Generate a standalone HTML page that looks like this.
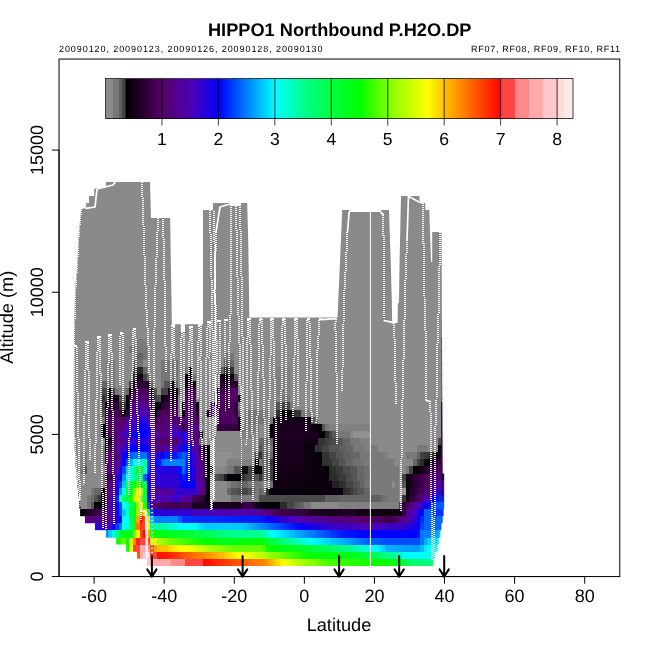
<!DOCTYPE html><html><head><meta charset="utf-8"><title>HIPPO1 Northbound P.H2O.DP</title>
<style>html,body{margin:0;padding:0;background:#fff;}svg{display:block;will-change:transform;}text{font-family:"Liberation Sans",sans-serif;fill:#000;text-rendering:geometricPrecision;}</style></head><body>
<svg width="650" height="650" viewBox="0 0 650 650">
<rect width="650" height="650" fill="#fff"/>
<g shape-rendering="crispEdges">
<defs><clipPath id="sil"><path d="M146.90 565.90 L433.50 565.90 L433.50 565.90 L433.50 558.79 L435.00 558.79 L435.00 551.68 L437.30 551.68 L437.30 544.58 L438.80 544.58 L438.80 537.47 L440.40 537.47 L440.40 530.36 L441.40 530.36 L441.40 523.25 L442.70 523.25 L442.70 516.14 L443.60 516.14 L443.60 509.04 L444.20 509.04 L444.20 501.93 L444.20 501.93 L444.20 494.82 L444.20 494.82 L444.20 487.71 L444.20 487.71 L444.20 480.60 L444.20 480.60 L444.20 473.50 L442.60 473.50 L442.30 400.00 L442.00 330.00 L441.50 232.00 L432.20 232.00 L432.20 262.00 L431.00 262.00 L429.30 210.00 L425.30 210.00 L425.30 203.00 L419.50 203.00 L419.50 196.00 L401.00 196.00 L399.60 260.00 L399.00 302.00 L397.80 304.00 L397.60 323.00 L392.20 323.00 L391.80 300.00 L390.50 255.00 L389.00 210.00 L381.20 210.00 L381.20 212.00 L349.20 212.00 L349.20 210.00 L342.20 210.00 L340.50 250.00 L338.30 300.00 L337.50 317.60 L249.30 317.60 L249.00 290.00 L248.20 240.00 L247.20 203.00 L241.00 203.00 L241.00 206.00 L230.00 206.00 L230.00 203.00 L213.00 203.00 L213.00 210.00 L203.00 210.00 L203.00 324.20 L185.00 324.20 L185.00 331.00 L180.80 331.00 L180.80 324.20 L175.00 324.20 L175.00 326.00 L171.90 326.00 L171.50 300.00 L170.80 260.00 L170.20 218.00 L151.00 218.00 L150.00 182.00 L106.00 182.00 L106.00 188.00 L97.00 188.00 L94.20 189.00 L94.20 196.00 L89.00 196.00 L89.00 203.00 L86.20 203.00 L86.20 207.50 L81.00 209.50 L78.60 236.00 L77.00 266.00 L75.00 294.00 L74.00 330.00 L73.60 400.00 L74.20 438.00 L76.00 470.00 L78.00 490.00 L79.20 501.93 L79.20 501.93 L79.20 509.04 L80.10 509.04 L80.10 516.14 L85.00 516.14 L85.00 523.25 L95.00 523.25 L95.00 530.36 L106.10 530.36 L106.10 537.47 L116.20 537.47 L116.20 544.58 L126.20 544.58 L126.20 551.68 L137.10 551.68 L137.10 558.79 L146.90 558.79 L146.90 565.90 Z"/></clipPath><clipPath id="sil2"><path d="M146.90 565.90 L433.50 565.90 L433.50 565.90 L433.50 558.79 L435.00 558.79 L435.00 551.68 L437.30 551.68 L437.30 544.58 L438.80 544.58 L438.80 537.47 L440.40 537.47 L440.40 530.36 L441.40 530.36 L441.40 523.25 L442.70 523.25 L442.70 516.14 L443.60 516.14 L443.60 509.04 L444.20 509.04 L444.20 501.93 L444.20 501.93 L444.20 494.82 L444.20 494.82 L444.20 487.71 L444.20 487.71 L444.20 480.60 L444.20 480.60 L444.20 473.50 L442.60 473.50 L442.30 400.00 L442.00 330.00 L441.50 232.00 L432.20 232.00 L432.20 262.00 L431.00 262.00 L429.30 210.00 L425.30 210.00 L425.30 203.00 L419.50 203.00 L419.50 196.00 L401.00 196.00 L399.60 260.00 L399.00 302.00 L397.80 304.00 L397.60 323.00 L392.20 323.00 L391.80 300.00 L390.50 255.00 L389.00 210.00 L381.20 210.00 L381.20 212.00 L349.20 212.00 L349.20 210.00 L342.20 210.00 L340.50 250.00 L338.30 300.00 L337.50 317.60 L249.30 317.60 L249.00 290.00 L248.20 240.00 L247.20 203.00 L241.00 203.00 L241.00 206.00 L230.00 206.00 L230.00 203.00 L213.00 203.00 L213.00 210.00 L203.00 210.00 L203.00 324.20 L185.00 324.20 L185.00 331.00 L180.80 331.00 L180.80 324.20 L175.00 324.20 L175.00 326.00 L171.90 326.00 L171.50 300.00 L170.80 260.00 L170.20 218.00 L151.00 218.00 L150.00 182.00 L106.00 182.00 L106.00 188.00 L97.00 188.00 L94.20 189.00 L94.20 196.00 L89.00 196.00 L89.00 203.00 L86.20 203.00 L86.20 207.50 L81.00 209.50 L78.60 236.00 L77.00 266.00 L75.00 294.00 L74.00 330.00 L73.60 400.00 L74.20 438.00 L76.00 470.00 L78.00 490.00 L79.20 501.93 L79.20 501.93 L79.20 509.04 L80.10 509.04 L80.10 516.14 L85.00 516.14 L85.00 523.25 L95.00 523.25 L95.00 530.36 L106.10 530.36 L106.10 537.47 L116.20 537.47 L116.20 544.58 L126.20 544.58 L126.20 551.68 L137.10 551.68 L137.10 558.79 L146.90 558.79 L146.90 565.90 Z"/></clipPath></defs>
<g clip-path="url(#sil)">
<rect x="69.55" y="558.79" width="80.65" height="7.16" fill="#ffc8c8"/>
<rect x="150.16" y="558.79" width="21.08" height="7.16" fill="#ffaaaa"/>
<rect x="171.18" y="558.79" width="14.07" height="7.16" fill="#ff8888"/>
<rect x="185.20" y="558.79" width="17.57" height="7.16" fill="#ff4444"/>
<rect x="202.72" y="558.79" width="3.55" height="7.16" fill="#ff0800"/>
<rect x="206.23" y="558.79" width="3.55" height="7.16" fill="#ff1000"/>
<rect x="209.73" y="558.79" width="3.55" height="7.16" fill="#ff1800"/>
<rect x="213.24" y="558.79" width="3.55" height="7.16" fill="#ff2000"/>
<rect x="216.74" y="558.79" width="3.55" height="7.16" fill="#ff2800"/>
<rect x="220.25" y="558.79" width="3.55" height="7.16" fill="#ff3000"/>
<rect x="223.75" y="558.79" width="3.55" height="7.16" fill="#ff3900"/>
<rect x="227.26" y="558.79" width="3.55" height="7.16" fill="#ff4100"/>
<rect x="230.76" y="558.79" width="3.55" height="7.16" fill="#ff4900"/>
<rect x="234.27" y="558.79" width="3.55" height="7.16" fill="#ff5000"/>
<rect x="237.77" y="558.79" width="3.55" height="7.16" fill="#ff5700"/>
<rect x="241.27" y="558.79" width="3.55" height="7.16" fill="#ff5d00"/>
<rect x="244.78" y="558.79" width="3.55" height="7.16" fill="#ff6400"/>
<rect x="248.28" y="558.79" width="3.55" height="7.16" fill="#ff6a00"/>
<rect x="251.79" y="558.79" width="3.55" height="7.16" fill="#ff7100"/>
<rect x="255.29" y="558.79" width="3.55" height="7.16" fill="#ff7800"/>
<rect x="258.80" y="558.79" width="3.55" height="7.16" fill="#ff7e00"/>
<rect x="262.30" y="558.79" width="3.55" height="7.16" fill="#ff8500"/>
<rect x="265.81" y="558.79" width="3.55" height="7.16" fill="#ff9600"/>
<rect x="269.31" y="558.79" width="3.55" height="7.16" fill="#ffac00"/>
<rect x="272.81" y="558.79" width="3.55" height="7.16" fill="#ffc200"/>
<rect x="276.32" y="558.79" width="3.55" height="7.16" fill="#ffda00"/>
<rect x="279.82" y="558.79" width="3.55" height="7.16" fill="#fff200"/>
<rect x="283.33" y="558.79" width="3.55" height="7.16" fill="#f8ff00"/>
<rect x="286.83" y="558.79" width="3.55" height="7.16" fill="#e8ff00"/>
<rect x="290.34" y="558.79" width="3.55" height="7.16" fill="#d8ff00"/>
<rect x="293.84" y="558.79" width="3.55" height="7.16" fill="#c8ff00"/>
<rect x="297.35" y="558.79" width="3.55" height="7.16" fill="#b8ff00"/>
<rect x="300.85" y="558.79" width="3.55" height="7.16" fill="#a8ff00"/>
<rect x="304.36" y="558.79" width="3.55" height="7.16" fill="#9cff00"/>
<rect x="307.86" y="558.79" width="3.55" height="7.16" fill="#91ff00"/>
<rect x="311.36" y="558.79" width="3.55" height="7.16" fill="#86ff00"/>
<rect x="314.87" y="558.79" width="3.55" height="7.16" fill="#79ff00"/>
<rect x="318.37" y="558.79" width="3.55" height="7.16" fill="#69ff00"/>
<rect x="321.88" y="558.79" width="3.55" height="7.16" fill="#5aff00"/>
<rect x="325.38" y="558.79" width="3.55" height="7.16" fill="#4dff00"/>
<rect x="328.89" y="558.79" width="3.55" height="7.16" fill="#47ff00"/>
<rect x="332.39" y="558.79" width="3.55" height="7.16" fill="#43ff00"/>
<rect x="335.90" y="558.79" width="3.55" height="7.16" fill="#3eff00"/>
<rect x="339.40" y="558.79" width="3.55" height="7.16" fill="#39ff00"/>
<rect x="342.90" y="558.79" width="3.55" height="7.16" fill="#35ff00"/>
<rect x="346.41" y="558.79" width="3.55" height="7.16" fill="#30ff00"/>
<rect x="349.91" y="558.79" width="3.55" height="7.16" fill="#2bff00"/>
<rect x="353.42" y="558.79" width="3.55" height="7.16" fill="#27ff00"/>
<rect x="356.92" y="558.79" width="3.55" height="7.16" fill="#22ff00"/>
<rect x="360.43" y="558.79" width="3.55" height="7.16" fill="#1dff00"/>
<rect x="363.93" y="558.79" width="3.55" height="7.16" fill="#19ff00"/>
<rect x="367.44" y="558.79" width="3.55" height="7.16" fill="#14ff00"/>
<rect x="370.94" y="558.79" width="3.55" height="7.16" fill="#10ff00"/>
<rect x="374.45" y="558.79" width="3.55" height="7.16" fill="#0bff00"/>
<rect x="377.95" y="558.79" width="3.55" height="7.16" fill="#07ff00"/>
<rect x="381.45" y="558.79" width="3.55" height="7.16" fill="#02ff00"/>
<rect x="384.96" y="558.79" width="3.55" height="7.16" fill="#00ff03"/>
<rect x="388.46" y="558.79" width="3.55" height="7.16" fill="#00ff0a"/>
<rect x="391.97" y="558.79" width="3.55" height="7.16" fill="#00ff10"/>
<rect x="395.47" y="558.79" width="3.55" height="7.16" fill="#00ff17"/>
<rect x="398.98" y="558.79" width="3.55" height="7.16" fill="#00ff24"/>
<rect x="402.48" y="558.79" width="3.55" height="7.16" fill="#00ff37"/>
<rect x="405.99" y="558.79" width="3.55" height="7.16" fill="#00ff4e"/>
<rect x="409.49" y="558.79" width="3.55" height="7.16" fill="#00ff66"/>
<rect x="412.99" y="558.79" width="3.55" height="7.16" fill="#00ff71"/>
<rect x="416.50" y="558.79" width="3.55" height="7.16" fill="#00ff74"/>
<rect x="420.00" y="558.79" width="3.55" height="7.16" fill="#00ff77"/>
<rect x="423.51" y="558.79" width="3.55" height="7.16" fill="#00ff79"/>
<rect x="427.01" y="558.79" width="3.55" height="7.16" fill="#00ff7c"/>
<rect x="430.52" y="558.79" width="3.55" height="7.16" fill="#00ff7e"/>
<rect x="434.02" y="558.79" width="14.07" height="7.16" fill="#00ff7f"/>
<rect x="69.55" y="551.68" width="66.64" height="7.16" fill="#ff7300"/>
<rect x="136.14" y="551.68" width="3.55" height="7.16" fill="#ff5800"/>
<rect x="139.64" y="551.68" width="3.55" height="7.16" fill="#ffaaaa"/>
<rect x="143.15" y="551.68" width="7.06" height="7.16" fill="#ffc8c8"/>
<rect x="150.16" y="551.68" width="7.06" height="7.16" fill="#ff4444"/>
<rect x="157.17" y="551.68" width="7.06" height="7.16" fill="#ff1300"/>
<rect x="164.18" y="551.68" width="3.55" height="7.16" fill="#ff1700"/>
<rect x="167.68" y="551.68" width="3.55" height="7.16" fill="#ff2200"/>
<rect x="171.18" y="551.68" width="3.55" height="7.16" fill="#ff2e00"/>
<rect x="174.69" y="551.68" width="3.55" height="7.16" fill="#ff3900"/>
<rect x="178.19" y="551.68" width="3.55" height="7.16" fill="#ff4500"/>
<rect x="181.70" y="551.68" width="3.55" height="7.16" fill="#ff5100"/>
<rect x="185.20" y="551.68" width="3.55" height="7.16" fill="#ff5c00"/>
<rect x="188.71" y="551.68" width="3.55" height="7.16" fill="#ff6600"/>
<rect x="192.21" y="551.68" width="3.55" height="7.16" fill="#ff6f00"/>
<rect x="195.72" y="551.68" width="3.55" height="7.16" fill="#ff7700"/>
<rect x="199.22" y="551.68" width="3.55" height="7.16" fill="#ff8000"/>
<rect x="202.72" y="551.68" width="3.55" height="7.16" fill="#ff8900"/>
<rect x="206.23" y="551.68" width="3.55" height="7.16" fill="#ff9200"/>
<rect x="209.73" y="551.68" width="3.55" height="7.16" fill="#ff9b00"/>
<rect x="213.24" y="551.68" width="3.55" height="7.16" fill="#ffa600"/>
<rect x="216.74" y="551.68" width="3.55" height="7.16" fill="#ffb200"/>
<rect x="220.25" y="551.68" width="3.55" height="7.16" fill="#ffbe00"/>
<rect x="223.75" y="551.68" width="3.55" height="7.16" fill="#ffca00"/>
<rect x="227.26" y="551.68" width="3.55" height="7.16" fill="#ffd700"/>
<rect x="230.76" y="551.68" width="3.55" height="7.16" fill="#ffe400"/>
<rect x="234.27" y="551.68" width="3.55" height="7.16" fill="#fff000"/>
<rect x="237.77" y="551.68" width="3.55" height="7.16" fill="#fffc00"/>
<rect x="241.27" y="551.68" width="3.55" height="7.16" fill="#f7ff00"/>
<rect x="244.78" y="551.68" width="3.55" height="7.16" fill="#edff00"/>
<rect x="248.28" y="551.68" width="3.55" height="7.16" fill="#e3ff00"/>
<rect x="251.79" y="551.68" width="3.55" height="7.16" fill="#d8ff00"/>
<rect x="255.29" y="551.68" width="3.55" height="7.16" fill="#ceff00"/>
<rect x="258.80" y="551.68" width="3.55" height="7.16" fill="#c4ff00"/>
<rect x="262.30" y="551.68" width="3.55" height="7.16" fill="#b4ff00"/>
<rect x="265.81" y="551.68" width="3.55" height="7.16" fill="#9dff00"/>
<rect x="269.31" y="551.68" width="3.55" height="7.16" fill="#92ff00"/>
<rect x="272.81" y="551.68" width="3.55" height="7.16" fill="#88ff00"/>
<rect x="276.32" y="551.68" width="3.55" height="7.16" fill="#7dff00"/>
<rect x="279.82" y="551.68" width="3.55" height="7.16" fill="#6eff00"/>
<rect x="283.33" y="551.68" width="3.55" height="7.16" fill="#60ff00"/>
<rect x="286.83" y="551.68" width="3.55" height="7.16" fill="#51ff00"/>
<rect x="290.34" y="551.68" width="3.55" height="7.16" fill="#43ff00"/>
<rect x="293.84" y="551.68" width="3.55" height="7.16" fill="#34ff00"/>
<rect x="297.35" y="551.68" width="3.55" height="7.16" fill="#28ff00"/>
<rect x="300.85" y="551.68" width="3.55" height="7.16" fill="#1cff00"/>
<rect x="304.36" y="551.68" width="3.55" height="7.16" fill="#11ff00"/>
<rect x="307.86" y="551.68" width="3.55" height="7.16" fill="#05ff00"/>
<rect x="311.36" y="551.68" width="3.55" height="7.16" fill="#00ff03"/>
<rect x="314.87" y="551.68" width="3.55" height="7.16" fill="#00ff09"/>
<rect x="318.37" y="551.68" width="24.58" height="7.16" fill="#00ff0d"/>
<rect x="342.90" y="551.68" width="3.55" height="7.16" fill="#00ff11"/>
<rect x="346.41" y="551.68" width="3.55" height="7.16" fill="#00ff17"/>
<rect x="349.91" y="551.68" width="3.55" height="7.16" fill="#00ff1d"/>
<rect x="353.42" y="551.68" width="3.55" height="7.16" fill="#00ff23"/>
<rect x="356.92" y="551.68" width="3.55" height="7.16" fill="#00ff29"/>
<rect x="360.43" y="551.68" width="3.55" height="7.16" fill="#00ff2f"/>
<rect x="363.93" y="551.68" width="3.55" height="7.16" fill="#00ff36"/>
<rect x="367.44" y="551.68" width="3.55" height="7.16" fill="#00ff41"/>
<rect x="370.94" y="551.68" width="3.55" height="7.16" fill="#00ff4f"/>
<rect x="374.45" y="551.68" width="3.55" height="7.16" fill="#00ff5d"/>
<rect x="377.95" y="551.68" width="3.55" height="7.16" fill="#00ff6b"/>
<rect x="381.45" y="551.68" width="3.55" height="7.16" fill="#00ff79"/>
<rect x="384.96" y="551.68" width="3.55" height="7.16" fill="#00ff84"/>
<rect x="388.46" y="551.68" width="3.55" height="7.16" fill="#00ff8c"/>
<rect x="391.97" y="551.68" width="3.55" height="7.16" fill="#00ff96"/>
<rect x="395.47" y="551.68" width="3.55" height="7.16" fill="#00ffa1"/>
<rect x="398.98" y="551.68" width="3.55" height="7.16" fill="#00ffce"/>
<rect x="402.48" y="551.68" width="3.55" height="7.16" fill="#00fffe"/>
<rect x="405.99" y="551.68" width="42.10" height="7.16" fill="#00ffff"/>
<rect x="69.55" y="544.58" width="59.63" height="7.16" fill="#00ff00"/>
<rect x="129.13" y="544.58" width="3.55" height="7.16" fill="#e7ff00"/>
<rect x="132.63" y="544.58" width="3.55" height="7.16" fill="#ff4000"/>
<rect x="136.14" y="544.58" width="3.55" height="7.16" fill="#ff4444"/>
<rect x="139.64" y="544.58" width="7.06" height="7.16" fill="#ffaaaa"/>
<rect x="146.65" y="544.58" width="3.55" height="7.16" fill="#ff8888"/>
<rect x="150.16" y="544.58" width="3.55" height="7.16" fill="#ff5f00"/>
<rect x="153.66" y="544.58" width="3.55" height="7.16" fill="#ffa100"/>
<rect x="157.17" y="544.58" width="7.06" height="7.16" fill="#ffc000"/>
<rect x="164.18" y="544.58" width="3.55" height="7.16" fill="#ffc400"/>
<rect x="167.68" y="544.58" width="3.55" height="7.16" fill="#ffd200"/>
<rect x="171.18" y="544.58" width="3.55" height="7.16" fill="#ffe000"/>
<rect x="174.69" y="544.58" width="3.55" height="7.16" fill="#ffef00"/>
<rect x="178.19" y="544.58" width="3.55" height="7.16" fill="#fffc00"/>
<rect x="181.70" y="544.58" width="7.06" height="7.16" fill="#ffff00"/>
<rect x="188.71" y="544.58" width="3.55" height="7.16" fill="#f6ff00"/>
<rect x="192.21" y="544.58" width="3.55" height="7.16" fill="#e8ff00"/>
<rect x="195.72" y="544.58" width="3.55" height="7.16" fill="#daff00"/>
<rect x="199.22" y="544.58" width="3.55" height="7.16" fill="#ccff00"/>
<rect x="202.72" y="544.58" width="3.55" height="7.16" fill="#bfff00"/>
<rect x="206.23" y="544.58" width="3.55" height="7.16" fill="#b1ff00"/>
<rect x="209.73" y="544.58" width="3.55" height="7.16" fill="#a4ff00"/>
<rect x="213.24" y="544.58" width="3.55" height="7.16" fill="#9bff00"/>
<rect x="216.74" y="544.58" width="3.55" height="7.16" fill="#93ff00"/>
<rect x="220.25" y="544.58" width="3.55" height="7.16" fill="#8bff00"/>
<rect x="223.75" y="544.58" width="3.55" height="7.16" fill="#82ff00"/>
<rect x="227.26" y="544.58" width="3.55" height="7.16" fill="#78ff00"/>
<rect x="230.76" y="544.58" width="3.55" height="7.16" fill="#6cff00"/>
<rect x="234.27" y="544.58" width="28.09" height="7.16" fill="#66ff00"/>
<rect x="262.30" y="544.58" width="3.55" height="7.16" fill="#50ff00"/>
<rect x="265.81" y="544.58" width="3.55" height="7.16" fill="#13ff00"/>
<rect x="269.31" y="544.58" width="3.55" height="7.16" fill="#0aff00"/>
<rect x="272.81" y="544.58" width="3.55" height="7.16" fill="#02ff00"/>
<rect x="276.32" y="544.58" width="3.55" height="7.16" fill="#00ff04"/>
<rect x="279.82" y="544.58" width="3.55" height="7.16" fill="#00ff08"/>
<rect x="283.33" y="544.58" width="3.55" height="7.16" fill="#00ff0c"/>
<rect x="286.83" y="544.58" width="3.55" height="7.16" fill="#00ff11"/>
<rect x="290.34" y="544.58" width="3.55" height="7.16" fill="#00ff15"/>
<rect x="293.84" y="544.58" width="3.55" height="7.16" fill="#00ff1a"/>
<rect x="297.35" y="544.58" width="3.55" height="7.16" fill="#00ff1f"/>
<rect x="300.85" y="544.58" width="3.55" height="7.16" fill="#00ff25"/>
<rect x="304.36" y="544.58" width="3.55" height="7.16" fill="#00ff2b"/>
<rect x="307.86" y="544.58" width="3.55" height="7.16" fill="#00ff31"/>
<rect x="311.36" y="544.58" width="3.55" height="7.16" fill="#00ff36"/>
<rect x="314.87" y="544.58" width="3.55" height="7.16" fill="#00ff3c"/>
<rect x="318.37" y="544.58" width="3.55" height="7.16" fill="#00ff43"/>
<rect x="321.88" y="544.58" width="3.55" height="7.16" fill="#00ff4c"/>
<rect x="325.38" y="544.58" width="3.55" height="7.16" fill="#00ff56"/>
<rect x="328.89" y="544.58" width="3.55" height="7.16" fill="#00ff5f"/>
<rect x="332.39" y="544.58" width="3.55" height="7.16" fill="#00ff68"/>
<rect x="335.90" y="544.58" width="3.55" height="7.16" fill="#00ff71"/>
<rect x="339.40" y="544.58" width="3.55" height="7.16" fill="#00ff7a"/>
<rect x="342.90" y="544.58" width="3.55" height="7.16" fill="#00ff83"/>
<rect x="346.41" y="544.58" width="3.55" height="7.16" fill="#00ff8c"/>
<rect x="349.91" y="544.58" width="3.55" height="7.16" fill="#00ff99"/>
<rect x="353.42" y="544.58" width="3.55" height="7.16" fill="#00ffa8"/>
<rect x="356.92" y="544.58" width="3.55" height="7.16" fill="#00ffb7"/>
<rect x="360.43" y="544.58" width="3.55" height="7.16" fill="#00ffc6"/>
<rect x="363.93" y="544.58" width="3.55" height="7.16" fill="#00ffd6"/>
<rect x="367.44" y="544.58" width="3.55" height="7.16" fill="#00ffe5"/>
<rect x="370.94" y="544.58" width="3.55" height="7.16" fill="#00fff5"/>
<rect x="374.45" y="544.58" width="3.55" height="7.16" fill="#00f9ff"/>
<rect x="377.95" y="544.58" width="3.55" height="7.16" fill="#00e7ff"/>
<rect x="381.45" y="544.58" width="3.55" height="7.16" fill="#00d5ff"/>
<rect x="384.96" y="544.58" width="3.55" height="7.16" fill="#00b2ff"/>
<rect x="388.46" y="544.58" width="3.55" height="7.16" fill="#00afff"/>
<rect x="391.97" y="544.58" width="3.55" height="7.16" fill="#00acff"/>
<rect x="395.47" y="544.58" width="3.55" height="7.16" fill="#00aaff"/>
<rect x="398.98" y="544.58" width="3.55" height="7.16" fill="#00a7ff"/>
<rect x="402.48" y="544.58" width="3.55" height="7.16" fill="#00a5ff"/>
<rect x="405.99" y="544.58" width="3.55" height="7.16" fill="#00a2ff"/>
<rect x="409.49" y="544.58" width="3.55" height="7.16" fill="#00a0ff"/>
<rect x="412.99" y="544.58" width="3.55" height="7.16" fill="#009dff"/>
<rect x="416.50" y="544.58" width="3.55" height="7.16" fill="#009bff"/>
<rect x="420.00" y="544.58" width="3.55" height="7.16" fill="#00b9ff"/>
<rect x="423.51" y="544.58" width="3.55" height="7.16" fill="#00ecff"/>
<rect x="427.01" y="544.58" width="21.08" height="7.16" fill="#00ffff"/>
<rect x="69.55" y="537.47" width="49.11" height="7.16" fill="#00ff0d"/>
<rect x="118.62" y="537.47" width="3.55" height="7.16" fill="#28ff00"/>
<rect x="122.12" y="537.47" width="3.55" height="7.16" fill="#6aff00"/>
<rect x="125.63" y="537.47" width="3.55" height="7.16" fill="#00ff0d"/>
<rect x="129.13" y="537.47" width="3.55" height="7.16" fill="#dbff00"/>
<rect x="132.63" y="537.47" width="3.55" height="7.16" fill="#ff8600"/>
<rect x="136.14" y="537.47" width="3.55" height="7.16" fill="#ff2400"/>
<rect x="139.64" y="537.47" width="10.56" height="7.16" fill="#ff4444"/>
<rect x="150.16" y="537.47" width="3.55" height="7.16" fill="#ffe700"/>
<rect x="153.66" y="537.47" width="3.55" height="7.16" fill="#d8ff00"/>
<rect x="157.17" y="537.47" width="7.06" height="7.16" fill="#a4ff00"/>
<rect x="164.18" y="537.47" width="3.55" height="7.16" fill="#88ff00"/>
<rect x="167.68" y="537.47" width="3.55" height="7.16" fill="#71ff00"/>
<rect x="171.18" y="537.47" width="3.55" height="7.16" fill="#66ff00"/>
<rect x="174.69" y="537.47" width="3.55" height="7.16" fill="#5aff00"/>
<rect x="178.19" y="537.47" width="3.55" height="7.16" fill="#4eff00"/>
<rect x="181.70" y="537.47" width="3.55" height="7.16" fill="#43ff00"/>
<rect x="185.20" y="537.47" width="3.55" height="7.16" fill="#37ff00"/>
<rect x="188.71" y="537.47" width="3.55" height="7.16" fill="#2bff00"/>
<rect x="192.21" y="537.47" width="3.55" height="7.16" fill="#20ff00"/>
<rect x="195.72" y="537.47" width="3.55" height="7.16" fill="#15ff00"/>
<rect x="199.22" y="537.47" width="3.55" height="7.16" fill="#0dff00"/>
<rect x="202.72" y="537.47" width="3.55" height="7.16" fill="#04ff00"/>
<rect x="206.23" y="537.47" width="3.55" height="7.16" fill="#00ff02"/>
<rect x="209.73" y="537.47" width="3.55" height="7.16" fill="#00ff07"/>
<rect x="213.24" y="537.47" width="3.55" height="7.16" fill="#00ff0b"/>
<rect x="216.74" y="537.47" width="3.55" height="7.16" fill="#00ff10"/>
<rect x="220.25" y="537.47" width="3.55" height="7.16" fill="#00ff14"/>
<rect x="223.75" y="537.47" width="7.06" height="7.16" fill="#00ff18"/>
<rect x="230.76" y="537.47" width="3.55" height="7.16" fill="#00ff16"/>
<rect x="234.27" y="537.47" width="3.55" height="7.16" fill="#00ff13"/>
<rect x="237.77" y="537.47" width="3.55" height="7.16" fill="#00ff11"/>
<rect x="241.27" y="537.47" width="3.55" height="7.16" fill="#00ff0f"/>
<rect x="244.78" y="537.47" width="3.55" height="7.16" fill="#00ff0c"/>
<rect x="248.28" y="537.47" width="3.55" height="7.16" fill="#00ff0a"/>
<rect x="251.79" y="537.47" width="3.55" height="7.16" fill="#00ff08"/>
<rect x="255.29" y="537.47" width="3.55" height="7.16" fill="#00ff05"/>
<rect x="258.80" y="537.47" width="3.55" height="7.16" fill="#00ff03"/>
<rect x="262.30" y="537.47" width="3.55" height="7.16" fill="#00ff0c"/>
<rect x="265.81" y="537.47" width="3.55" height="7.16" fill="#00ff30"/>
<rect x="269.31" y="537.47" width="3.55" height="7.16" fill="#00ff3e"/>
<rect x="272.81" y="537.47" width="3.55" height="7.16" fill="#00ff4e"/>
<rect x="276.32" y="537.47" width="3.55" height="7.16" fill="#00ff5f"/>
<rect x="279.82" y="537.47" width="3.55" height="7.16" fill="#00ff70"/>
<rect x="283.33" y="537.47" width="3.55" height="7.16" fill="#00ff81"/>
<rect x="286.83" y="537.47" width="3.55" height="7.16" fill="#00ff92"/>
<rect x="290.34" y="537.47" width="3.55" height="7.16" fill="#00ffa3"/>
<rect x="293.84" y="537.47" width="3.55" height="7.16" fill="#00ffb4"/>
<rect x="297.35" y="537.47" width="3.55" height="7.16" fill="#00ffc5"/>
<rect x="300.85" y="537.47" width="3.55" height="7.16" fill="#00ffd6"/>
<rect x="304.36" y="537.47" width="3.55" height="7.16" fill="#00ffe7"/>
<rect x="307.86" y="537.47" width="3.55" height="7.16" fill="#00fff8"/>
<rect x="311.36" y="537.47" width="3.55" height="7.16" fill="#00faff"/>
<rect x="314.87" y="537.47" width="3.55" height="7.16" fill="#00f1ff"/>
<rect x="318.37" y="537.47" width="3.55" height="7.16" fill="#00e9ff"/>
<rect x="321.88" y="537.47" width="3.55" height="7.16" fill="#00e0ff"/>
<rect x="325.38" y="537.47" width="3.55" height="7.16" fill="#00d7ff"/>
<rect x="328.89" y="537.47" width="3.55" height="7.16" fill="#00cfff"/>
<rect x="332.39" y="537.47" width="3.55" height="7.16" fill="#00c6ff"/>
<rect x="335.90" y="537.47" width="3.55" height="7.16" fill="#00bdff"/>
<rect x="339.40" y="537.47" width="3.55" height="7.16" fill="#00b5ff"/>
<rect x="342.90" y="537.47" width="3.55" height="7.16" fill="#00aaff"/>
<rect x="346.41" y="537.47" width="3.55" height="7.16" fill="#009eff"/>
<rect x="349.91" y="537.47" width="3.55" height="7.16" fill="#0093ff"/>
<rect x="353.42" y="537.47" width="3.55" height="7.16" fill="#0087ff"/>
<rect x="356.92" y="537.47" width="3.55" height="7.16" fill="#007bff"/>
<rect x="360.43" y="537.47" width="3.55" height="7.16" fill="#0070ff"/>
<rect x="363.93" y="537.47" width="3.55" height="7.16" fill="#0066ff"/>
<rect x="367.44" y="537.47" width="3.55" height="7.16" fill="#0061ff"/>
<rect x="370.94" y="537.47" width="3.55" height="7.16" fill="#005dff"/>
<rect x="374.45" y="537.47" width="3.55" height="7.16" fill="#0058ff"/>
<rect x="377.95" y="537.47" width="3.55" height="7.16" fill="#0054ff"/>
<rect x="381.45" y="537.47" width="3.55" height="7.16" fill="#004fff"/>
<rect x="384.96" y="537.47" width="35.10" height="7.16" fill="#004dff"/>
<rect x="420.00" y="537.47" width="3.55" height="7.16" fill="#0074ff"/>
<rect x="423.51" y="537.47" width="3.55" height="7.16" fill="#00aaff"/>
<rect x="427.01" y="537.47" width="3.55" height="7.16" fill="#00d0ff"/>
<rect x="430.52" y="537.47" width="17.57" height="7.16" fill="#00e6ff"/>
<rect x="69.55" y="530.36" width="38.60" height="7.16" fill="#0080ff"/>
<rect x="108.10" y="530.36" width="3.55" height="7.16" fill="#00c9ff"/>
<rect x="111.61" y="530.36" width="3.55" height="7.16" fill="#00ffdf"/>
<rect x="115.11" y="530.36" width="3.55" height="7.16" fill="#00ff90"/>
<rect x="118.62" y="530.36" width="14.07" height="7.16" fill="#00ff1a"/>
<rect x="132.63" y="530.36" width="3.55" height="7.16" fill="#80ff00"/>
<rect x="136.14" y="530.36" width="3.55" height="7.16" fill="#efff00"/>
<rect x="139.64" y="530.36" width="3.55" height="7.16" fill="#ff4500"/>
<rect x="143.15" y="530.36" width="3.55" height="7.16" fill="#ff0500"/>
<rect x="146.65" y="530.36" width="3.55" height="7.16" fill="#ffa700"/>
<rect x="150.16" y="530.36" width="3.55" height="7.16" fill="#25ff00"/>
<rect x="153.66" y="530.36" width="3.55" height="7.16" fill="#00ff00"/>
<rect x="157.17" y="530.36" width="3.55" height="7.16" fill="#00ff0e"/>
<rect x="160.67" y="530.36" width="3.55" height="7.16" fill="#00ff15"/>
<rect x="164.18" y="530.36" width="3.55" height="7.16" fill="#00ff1b"/>
<rect x="167.68" y="530.36" width="3.55" height="7.16" fill="#00ff1f"/>
<rect x="171.18" y="530.36" width="3.55" height="7.16" fill="#00ff24"/>
<rect x="174.69" y="530.36" width="3.55" height="7.16" fill="#00ff28"/>
<rect x="178.19" y="530.36" width="3.55" height="7.16" fill="#00ff2c"/>
<rect x="181.70" y="530.36" width="3.55" height="7.16" fill="#00ff31"/>
<rect x="185.20" y="530.36" width="3.55" height="7.16" fill="#00ff35"/>
<rect x="188.71" y="530.36" width="3.55" height="7.16" fill="#00ff39"/>
<rect x="192.21" y="530.36" width="3.55" height="7.16" fill="#00ff3e"/>
<rect x="195.72" y="530.36" width="3.55" height="7.16" fill="#00ff44"/>
<rect x="199.22" y="530.36" width="3.55" height="7.16" fill="#00ff4b"/>
<rect x="202.72" y="530.36" width="3.55" height="7.16" fill="#00ff52"/>
<rect x="206.23" y="530.36" width="3.55" height="7.16" fill="#00ff59"/>
<rect x="209.73" y="530.36" width="3.55" height="7.16" fill="#00ff61"/>
<rect x="213.24" y="530.36" width="3.55" height="7.16" fill="#00ff68"/>
<rect x="216.74" y="530.36" width="3.55" height="7.16" fill="#00ff6f"/>
<rect x="220.25" y="530.36" width="3.55" height="7.16" fill="#00ff77"/>
<rect x="223.75" y="530.36" width="3.55" height="7.16" fill="#00ff7e"/>
<rect x="227.26" y="530.36" width="3.55" height="7.16" fill="#00ff85"/>
<rect x="230.76" y="530.36" width="3.55" height="7.16" fill="#00ff8c"/>
<rect x="234.27" y="530.36" width="28.09" height="7.16" fill="#00ff90"/>
<rect x="262.30" y="530.36" width="3.55" height="7.16" fill="#00ff9d"/>
<rect x="265.81" y="530.36" width="3.55" height="7.16" fill="#00ffd3"/>
<rect x="269.31" y="530.36" width="3.55" height="7.16" fill="#00fff1"/>
<rect x="272.81" y="530.36" width="3.55" height="7.16" fill="#00f9ff"/>
<rect x="276.32" y="530.36" width="3.55" height="7.16" fill="#00edff"/>
<rect x="279.82" y="530.36" width="3.55" height="7.16" fill="#00e2ff"/>
<rect x="283.33" y="530.36" width="3.55" height="7.16" fill="#00d6ff"/>
<rect x="286.83" y="530.36" width="3.55" height="7.16" fill="#00cbff"/>
<rect x="290.34" y="530.36" width="3.55" height="7.16" fill="#00bfff"/>
<rect x="293.84" y="530.36" width="3.55" height="7.16" fill="#00b3ff"/>
<rect x="297.35" y="530.36" width="3.55" height="7.16" fill="#00a8ff"/>
<rect x="300.85" y="530.36" width="3.55" height="7.16" fill="#009cff"/>
<rect x="304.36" y="530.36" width="3.55" height="7.16" fill="#0091ff"/>
<rect x="307.86" y="530.36" width="3.55" height="7.16" fill="#0085ff"/>
<rect x="311.36" y="530.36" width="3.55" height="7.16" fill="#0079ff"/>
<rect x="314.87" y="530.36" width="3.55" height="7.16" fill="#006eff"/>
<rect x="318.37" y="530.36" width="3.55" height="7.16" fill="#0062ff"/>
<rect x="321.88" y="530.36" width="3.55" height="7.16" fill="#0056ff"/>
<rect x="325.38" y="530.36" width="3.55" height="7.16" fill="#004bff"/>
<rect x="328.89" y="530.36" width="3.55" height="7.16" fill="#003fff"/>
<rect x="332.39" y="530.36" width="3.55" height="7.16" fill="#0033ff"/>
<rect x="335.90" y="530.36" width="3.55" height="7.16" fill="#0028ff"/>
<rect x="339.40" y="530.36" width="3.55" height="7.16" fill="#001cff"/>
<rect x="342.90" y="530.36" width="3.55" height="7.16" fill="#0017ff"/>
<rect x="346.41" y="530.36" width="3.55" height="7.16" fill="#0013ff"/>
<rect x="349.91" y="530.36" width="3.55" height="7.16" fill="#000fff"/>
<rect x="353.42" y="530.36" width="3.55" height="7.16" fill="#000bff"/>
<rect x="356.92" y="530.36" width="3.55" height="7.16" fill="#0007ff"/>
<rect x="360.43" y="530.36" width="3.55" height="7.16" fill="#0003ff"/>
<rect x="363.93" y="530.36" width="52.62" height="7.16" fill="#0000ff"/>
<rect x="416.50" y="530.36" width="3.55" height="7.16" fill="#0014ff"/>
<rect x="420.00" y="530.36" width="3.55" height="7.16" fill="#0079ff"/>
<rect x="423.51" y="530.36" width="7.06" height="7.16" fill="#0080ff"/>
<rect x="430.52" y="530.36" width="3.55" height="7.16" fill="#008bff"/>
<rect x="434.02" y="530.36" width="3.55" height="7.16" fill="#00a3ff"/>
<rect x="437.53" y="530.36" width="3.55" height="7.16" fill="#00baff"/>
<rect x="441.03" y="530.36" width="7.06" height="7.16" fill="#00c1ff"/>
<rect x="69.55" y="523.25" width="35.09" height="7.16" fill="#2800da"/>
<rect x="104.60" y="523.25" width="3.55" height="7.16" fill="#4a00b9"/>
<rect x="108.10" y="523.25" width="3.55" height="7.16" fill="#4500bf"/>
<rect x="111.61" y="523.25" width="3.55" height="7.16" fill="#0000ff"/>
<rect x="115.11" y="523.25" width="3.55" height="7.16" fill="#0037ff"/>
<rect x="118.62" y="523.25" width="3.55" height="7.16" fill="#0080ff"/>
<rect x="122.12" y="523.25" width="3.55" height="7.16" fill="#00fffc"/>
<rect x="125.63" y="523.25" width="3.55" height="7.16" fill="#00ffc9"/>
<rect x="129.13" y="523.25" width="3.55" height="7.16" fill="#00ff80"/>
<rect x="132.63" y="523.25" width="3.55" height="7.16" fill="#12ff00"/>
<rect x="136.14" y="523.25" width="3.55" height="7.16" fill="#ff7600"/>
<rect x="139.64" y="523.25" width="3.55" height="7.16" fill="#ff3a00"/>
<rect x="143.15" y="523.25" width="3.55" height="7.16" fill="#ff4444"/>
<rect x="146.65" y="523.25" width="3.55" height="7.16" fill="#f2ff00"/>
<rect x="150.16" y="523.25" width="3.55" height="7.16" fill="#00ff89"/>
<rect x="153.66" y="523.25" width="3.55" height="7.16" fill="#00ffbc"/>
<rect x="157.17" y="523.25" width="7.06" height="7.16" fill="#00ffa6"/>
<rect x="164.18" y="523.25" width="3.55" height="7.16" fill="#00ffac"/>
<rect x="167.68" y="523.25" width="3.55" height="7.16" fill="#00ffc0"/>
<rect x="171.18" y="523.25" width="3.55" height="7.16" fill="#00ffd4"/>
<rect x="174.69" y="523.25" width="3.55" height="7.16" fill="#00ffe8"/>
<rect x="178.19" y="523.25" width="3.55" height="7.16" fill="#00fffb"/>
<rect x="181.70" y="523.25" width="14.07" height="7.16" fill="#00ffff"/>
<rect x="195.72" y="523.25" width="3.55" height="7.16" fill="#00f4ff"/>
<rect x="199.22" y="523.25" width="3.55" height="7.16" fill="#00ddff"/>
<rect x="202.72" y="523.25" width="3.55" height="7.16" fill="#00cdff"/>
<rect x="206.23" y="523.25" width="35.09" height="7.16" fill="#00ccff"/>
<rect x="241.27" y="523.25" width="3.55" height="7.16" fill="#00c8ff"/>
<rect x="244.78" y="523.25" width="3.55" height="7.16" fill="#00bdff"/>
<rect x="248.28" y="523.25" width="3.55" height="7.16" fill="#00b1ff"/>
<rect x="251.79" y="523.25" width="3.55" height="7.16" fill="#00a6ff"/>
<rect x="255.29" y="523.25" width="3.55" height="7.16" fill="#009aff"/>
<rect x="258.80" y="523.25" width="3.55" height="7.16" fill="#008fff"/>
<rect x="262.30" y="523.25" width="3.55" height="7.16" fill="#0083ff"/>
<rect x="265.81" y="523.25" width="3.55" height="7.16" fill="#0077ff"/>
<rect x="269.31" y="523.25" width="3.55" height="7.16" fill="#006aff"/>
<rect x="272.81" y="523.25" width="3.55" height="7.16" fill="#005dff"/>
<rect x="276.32" y="523.25" width="3.55" height="7.16" fill="#0051ff"/>
<rect x="279.82" y="523.25" width="3.55" height="7.16" fill="#0044ff"/>
<rect x="283.33" y="523.25" width="3.55" height="7.16" fill="#0037ff"/>
<rect x="286.83" y="523.25" width="3.55" height="7.16" fill="#002bff"/>
<rect x="290.34" y="523.25" width="3.55" height="7.16" fill="#001eff"/>
<rect x="293.84" y="523.25" width="3.55" height="7.16" fill="#0011ff"/>
<rect x="297.35" y="523.25" width="3.55" height="7.16" fill="#0005ff"/>
<rect x="300.85" y="523.25" width="3.55" height="7.16" fill="#0400fb"/>
<rect x="304.36" y="523.25" width="3.55" height="7.16" fill="#0b00f5"/>
<rect x="307.86" y="523.25" width="3.55" height="7.16" fill="#1100ef"/>
<rect x="311.36" y="523.25" width="3.55" height="7.16" fill="#1700e9"/>
<rect x="314.87" y="523.25" width="3.55" height="7.16" fill="#1e00e3"/>
<rect x="318.37" y="523.25" width="3.55" height="7.16" fill="#2400dd"/>
<rect x="321.88" y="523.25" width="3.55" height="7.16" fill="#2b00d7"/>
<rect x="325.38" y="523.25" width="3.55" height="7.16" fill="#3000d2"/>
<rect x="328.89" y="523.25" width="3.55" height="7.16" fill="#3300cf"/>
<rect x="332.39" y="523.25" width="3.55" height="7.16" fill="#3600cc"/>
<rect x="335.90" y="523.25" width="3.55" height="7.16" fill="#3900c9"/>
<rect x="339.40" y="523.25" width="3.55" height="7.16" fill="#3c00c7"/>
<rect x="342.90" y="523.25" width="3.55" height="7.16" fill="#3f00c4"/>
<rect x="346.41" y="523.25" width="3.55" height="7.16" fill="#4200c1"/>
<rect x="349.91" y="523.25" width="3.55" height="7.16" fill="#4500be"/>
<rect x="353.42" y="523.25" width="3.55" height="7.16" fill="#4800bc"/>
<rect x="356.92" y="523.25" width="3.55" height="7.16" fill="#4b00b9"/>
<rect x="360.43" y="523.25" width="3.55" height="7.16" fill="#4e00b6"/>
<rect x="363.93" y="523.25" width="3.55" height="7.16" fill="#4f00b5"/>
<rect x="367.44" y="523.25" width="3.55" height="7.16" fill="#4d00b7"/>
<rect x="370.94" y="523.25" width="3.55" height="7.16" fill="#4a00ba"/>
<rect x="374.45" y="523.25" width="3.55" height="7.16" fill="#4700bc"/>
<rect x="377.95" y="523.25" width="3.55" height="7.16" fill="#4400bf"/>
<rect x="381.45" y="523.25" width="3.55" height="7.16" fill="#4100c2"/>
<rect x="384.96" y="523.25" width="14.07" height="7.16" fill="#4000c3"/>
<rect x="398.98" y="523.25" width="3.55" height="7.16" fill="#3c00c7"/>
<rect x="402.48" y="523.25" width="3.55" height="7.16" fill="#3400cf"/>
<rect x="405.99" y="523.25" width="3.55" height="7.16" fill="#2b00d6"/>
<rect x="409.49" y="523.25" width="3.55" height="7.16" fill="#2300de"/>
<rect x="412.99" y="523.25" width="3.55" height="7.16" fill="#1400ec"/>
<rect x="416.50" y="523.25" width="3.55" height="7.16" fill="#0004ff"/>
<rect x="420.00" y="523.25" width="3.55" height="7.16" fill="#0041ff"/>
<rect x="423.51" y="523.25" width="24.58" height="7.16" fill="#0066ff"/>
<rect x="69.55" y="516.14" width="14.07" height="7.16" fill="#540076"/>
<rect x="83.57" y="516.14" width="3.55" height="7.16" fill="#540077"/>
<rect x="87.08" y="516.14" width="3.55" height="7.16" fill="#54007c"/>
<rect x="90.58" y="516.14" width="3.55" height="7.16" fill="#530082"/>
<rect x="94.09" y="516.14" width="3.55" height="7.16" fill="#530088"/>
<rect x="97.59" y="516.14" width="3.55" height="7.16" fill="#52008e"/>
<rect x="101.09" y="516.14" width="3.55" height="7.16" fill="#530082"/>
<rect x="104.60" y="516.14" width="3.55" height="7.16" fill="#480056"/>
<rect x="108.10" y="516.14" width="3.55" height="7.16" fill="#53008c"/>
<rect x="111.61" y="516.14" width="3.55" height="7.16" fill="#5000b4"/>
<rect x="115.11" y="516.14" width="3.55" height="7.16" fill="#0b00f4"/>
<rect x="118.62" y="516.14" width="3.55" height="7.16" fill="#0000ff"/>
<rect x="122.12" y="516.14" width="7.06" height="7.16" fill="#00ffff"/>
<rect x="129.13" y="516.14" width="3.55" height="7.16" fill="#00ff40"/>
<rect x="132.63" y="516.14" width="3.55" height="7.16" fill="#00ff09"/>
<rect x="136.14" y="516.14" width="3.55" height="7.16" fill="#ffa700"/>
<rect x="139.64" y="516.14" width="3.55" height="7.16" fill="#ff1300"/>
<rect x="143.15" y="516.14" width="3.55" height="7.16" fill="#ff4a00"/>
<rect x="146.65" y="516.14" width="3.55" height="7.16" fill="#ffde00"/>
<rect x="150.16" y="516.14" width="3.55" height="7.16" fill="#00c9ff"/>
<rect x="153.66" y="516.14" width="24.58" height="7.16" fill="#0080ff"/>
<rect x="178.19" y="516.14" width="3.55" height="7.16" fill="#005fff"/>
<rect x="181.70" y="516.14" width="3.55" height="7.16" fill="#0032ff"/>
<rect x="185.20" y="516.14" width="3.55" height="7.16" fill="#0031ff"/>
<rect x="188.71" y="516.14" width="3.55" height="7.16" fill="#0030ff"/>
<rect x="192.21" y="516.14" width="3.55" height="7.16" fill="#002fff"/>
<rect x="195.72" y="516.14" width="3.55" height="7.16" fill="#002eff"/>
<rect x="199.22" y="516.14" width="3.55" height="7.16" fill="#002cff"/>
<rect x="202.72" y="516.14" width="3.55" height="7.16" fill="#002bff"/>
<rect x="206.23" y="516.14" width="3.55" height="7.16" fill="#002aff"/>
<rect x="209.73" y="516.14" width="3.55" height="7.16" fill="#0029ff"/>
<rect x="213.24" y="516.14" width="3.55" height="7.16" fill="#0028ff"/>
<rect x="216.74" y="516.14" width="3.55" height="7.16" fill="#0027ff"/>
<rect x="220.25" y="516.14" width="3.55" height="7.16" fill="#0026ff"/>
<rect x="223.75" y="516.14" width="3.55" height="7.16" fill="#0025ff"/>
<rect x="227.26" y="516.14" width="3.55" height="7.16" fill="#0024ff"/>
<rect x="230.76" y="516.14" width="3.55" height="7.16" fill="#0022ff"/>
<rect x="234.27" y="516.14" width="3.55" height="7.16" fill="#0021ff"/>
<rect x="237.77" y="516.14" width="3.55" height="7.16" fill="#0020ff"/>
<rect x="241.27" y="516.14" width="3.55" height="7.16" fill="#001fff"/>
<rect x="244.78" y="516.14" width="3.55" height="7.16" fill="#001eff"/>
<rect x="248.28" y="516.14" width="3.55" height="7.16" fill="#001dff"/>
<rect x="251.79" y="516.14" width="3.55" height="7.16" fill="#001cff"/>
<rect x="255.29" y="516.14" width="3.55" height="7.16" fill="#001bff"/>
<rect x="258.80" y="516.14" width="3.55" height="7.16" fill="#001aff"/>
<rect x="262.30" y="516.14" width="3.55" height="7.16" fill="#0012ff"/>
<rect x="265.81" y="516.14" width="3.55" height="7.16" fill="#0700f9"/>
<rect x="269.31" y="516.14" width="3.55" height="7.16" fill="#1000f0"/>
<rect x="272.81" y="516.14" width="3.55" height="7.16" fill="#1900e8"/>
<rect x="276.32" y="516.14" width="3.55" height="7.16" fill="#2200df"/>
<rect x="279.82" y="516.14" width="3.55" height="7.16" fill="#2b00d7"/>
<rect x="283.33" y="516.14" width="3.55" height="7.16" fill="#3400ce"/>
<rect x="286.83" y="516.14" width="3.55" height="7.16" fill="#3d00c6"/>
<rect x="290.34" y="516.14" width="3.55" height="7.16" fill="#4600bd"/>
<rect x="293.84" y="516.14" width="3.55" height="7.16" fill="#4f00b5"/>
<rect x="297.35" y="516.14" width="3.55" height="7.16" fill="#5000af"/>
<rect x="300.85" y="516.14" width="3.55" height="7.16" fill="#5100aa"/>
<rect x="304.36" y="516.14" width="3.55" height="7.16" fill="#5100a4"/>
<rect x="307.86" y="516.14" width="3.55" height="7.16" fill="#51009f"/>
<rect x="311.36" y="516.14" width="3.55" height="7.16" fill="#52009a"/>
<rect x="314.87" y="516.14" width="3.55" height="7.16" fill="#520094"/>
<rect x="318.37" y="516.14" width="3.55" height="7.16" fill="#52008f"/>
<rect x="321.88" y="516.14" width="3.55" height="7.16" fill="#53008a"/>
<rect x="325.38" y="516.14" width="3.55" height="7.16" fill="#530085"/>
<rect x="328.89" y="516.14" width="3.55" height="7.16" fill="#530082"/>
<rect x="332.39" y="516.14" width="3.55" height="7.16" fill="#53007f"/>
<rect x="335.90" y="516.14" width="3.55" height="7.16" fill="#54007c"/>
<rect x="339.40" y="516.14" width="3.55" height="7.16" fill="#540079"/>
<rect x="342.90" y="516.14" width="3.55" height="7.16" fill="#540077"/>
<rect x="346.41" y="516.14" width="3.55" height="7.16" fill="#540074"/>
<rect x="349.91" y="516.14" width="3.55" height="7.16" fill="#540071"/>
<rect x="353.42" y="516.14" width="3.55" height="7.16" fill="#54006e"/>
<rect x="356.92" y="516.14" width="3.55" height="7.16" fill="#55006b"/>
<rect x="360.43" y="516.14" width="3.55" height="7.16" fill="#550068"/>
<rect x="363.93" y="516.14" width="3.55" height="7.16" fill="#550065"/>
<rect x="367.44" y="516.14" width="3.55" height="7.16" fill="#520063"/>
<rect x="370.94" y="516.14" width="3.55" height="7.16" fill="#500060"/>
<rect x="374.45" y="516.14" width="3.55" height="7.16" fill="#4e005d"/>
<rect x="377.95" y="516.14" width="3.55" height="7.16" fill="#4b005a"/>
<rect x="381.45" y="516.14" width="3.55" height="7.16" fill="#490057"/>
<rect x="384.96" y="516.14" width="7.06" height="7.16" fill="#3a0046"/>
<rect x="391.97" y="516.14" width="3.55" height="7.16" fill="#41004e"/>
<rect x="395.47" y="516.14" width="3.55" height="7.16" fill="#4f005f"/>
<rect x="398.98" y="516.14" width="3.55" height="7.16" fill="#54007d"/>
<rect x="402.48" y="516.14" width="3.55" height="7.16" fill="#530085"/>
<rect x="405.99" y="516.14" width="3.55" height="7.16" fill="#5100a0"/>
<rect x="409.49" y="516.14" width="3.55" height="7.16" fill="#5000b4"/>
<rect x="412.99" y="516.14" width="3.55" height="7.16" fill="#2e00d4"/>
<rect x="416.50" y="516.14" width="3.55" height="7.16" fill="#0000ff"/>
<rect x="420.00" y="516.14" width="3.55" height="7.16" fill="#002cff"/>
<rect x="423.51" y="516.14" width="24.58" height="7.16" fill="#0066ff"/>
<rect x="69.55" y="509.04" width="14.07" height="7.16" fill="#050006"/>
<rect x="83.57" y="509.04" width="3.55" height="7.16" fill="#150019"/>
<rect x="87.08" y="509.04" width="3.55" height="7.16" fill="#200026"/>
<rect x="90.58" y="509.04" width="3.55" height="7.16" fill="#2a0033"/>
<rect x="94.09" y="509.04" width="3.55" height="7.16" fill="#350040"/>
<rect x="97.59" y="509.04" width="3.55" height="7.16" fill="#40004d"/>
<rect x="101.09" y="509.04" width="3.55" height="7.16" fill="#540071"/>
<rect x="104.60" y="509.04" width="3.55" height="7.16" fill="#540076"/>
<rect x="108.10" y="509.04" width="3.55" height="7.16" fill="#5100a2"/>
<rect x="111.61" y="509.04" width="3.55" height="7.16" fill="#4200c1"/>
<rect x="115.11" y="509.04" width="3.55" height="7.16" fill="#1200ee"/>
<rect x="118.62" y="509.04" width="3.55" height="7.16" fill="#004fff"/>
<rect x="122.12" y="509.04" width="3.55" height="7.16" fill="#00c7ff"/>
<rect x="125.63" y="509.04" width="3.55" height="7.16" fill="#00ffbf"/>
<rect x="129.13" y="509.04" width="3.55" height="7.16" fill="#00ff32"/>
<rect x="132.63" y="509.04" width="3.55" height="7.16" fill="#00ff14"/>
<rect x="136.14" y="509.04" width="3.55" height="7.16" fill="#9fff00"/>
<rect x="139.64" y="509.04" width="3.55" height="7.16" fill="#ff9a00"/>
<rect x="143.15" y="509.04" width="3.55" height="7.16" fill="#ffde00"/>
<rect x="146.65" y="509.04" width="3.55" height="7.16" fill="#00ff2e"/>
<rect x="150.16" y="509.04" width="3.55" height="7.16" fill="#0043ff"/>
<rect x="153.66" y="509.04" width="3.55" height="7.16" fill="#1600eb"/>
<rect x="157.17" y="509.04" width="3.55" height="7.16" fill="#2400dd"/>
<rect x="160.67" y="509.04" width="3.55" height="7.16" fill="#2600dc"/>
<rect x="164.18" y="509.04" width="3.55" height="7.16" fill="#2800da"/>
<rect x="167.68" y="509.04" width="3.55" height="7.16" fill="#2a00d8"/>
<rect x="171.18" y="509.04" width="3.55" height="7.16" fill="#2c00d6"/>
<rect x="174.69" y="509.04" width="3.55" height="7.16" fill="#2e00d4"/>
<rect x="178.19" y="509.04" width="14.07" height="7.16" fill="#3000d2"/>
<rect x="192.21" y="509.04" width="3.55" height="7.16" fill="#4100c2"/>
<rect x="195.72" y="509.04" width="3.55" height="7.16" fill="#4200c1"/>
<rect x="199.22" y="509.04" width="3.55" height="7.16" fill="#4400bf"/>
<rect x="202.72" y="509.04" width="3.55" height="7.16" fill="#4600be"/>
<rect x="206.23" y="509.04" width="3.55" height="7.16" fill="#4700bc"/>
<rect x="209.73" y="509.04" width="3.55" height="7.16" fill="#4900bb"/>
<rect x="213.24" y="509.04" width="3.55" height="7.16" fill="#4b00b9"/>
<rect x="216.74" y="509.04" width="3.55" height="7.16" fill="#4c00b7"/>
<rect x="220.25" y="509.04" width="3.55" height="7.16" fill="#4e00b6"/>
<rect x="223.75" y="509.04" width="3.55" height="7.16" fill="#5000b4"/>
<rect x="227.26" y="509.04" width="3.55" height="7.16" fill="#5000b3"/>
<rect x="230.76" y="509.04" width="3.55" height="7.16" fill="#5000b1"/>
<rect x="234.27" y="509.04" width="3.55" height="7.16" fill="#5000af"/>
<rect x="237.77" y="509.04" width="3.55" height="7.16" fill="#5000ae"/>
<rect x="241.27" y="509.04" width="3.55" height="7.16" fill="#5000ac"/>
<rect x="244.78" y="509.04" width="3.55" height="7.16" fill="#5100ab"/>
<rect x="248.28" y="509.04" width="3.55" height="7.16" fill="#5100a9"/>
<rect x="251.79" y="509.04" width="3.55" height="7.16" fill="#5100a7"/>
<rect x="255.29" y="509.04" width="3.55" height="7.16" fill="#5100a6"/>
<rect x="258.80" y="509.04" width="3.55" height="7.16" fill="#52008e"/>
<rect x="262.30" y="509.04" width="7.06" height="7.16" fill="#530085"/>
<rect x="269.31" y="509.04" width="3.55" height="7.16" fill="#53007e"/>
<rect x="272.81" y="509.04" width="3.55" height="7.16" fill="#460054"/>
<rect x="276.32" y="509.04" width="3.55" height="7.16" fill="#440051"/>
<rect x="279.82" y="509.04" width="3.55" height="7.16" fill="#41004e"/>
<rect x="283.33" y="509.04" width="3.55" height="7.16" fill="#3f004b"/>
<rect x="286.83" y="509.04" width="3.55" height="7.16" fill="#3c0048"/>
<rect x="290.34" y="509.04" width="3.55" height="7.16" fill="#390045"/>
<rect x="293.84" y="509.04" width="3.55" height="7.16" fill="#370042"/>
<rect x="297.35" y="509.04" width="3.55" height="7.16" fill="#34003f"/>
<rect x="300.85" y="509.04" width="3.55" height="7.16" fill="#32003c"/>
<rect x="304.36" y="509.04" width="3.55" height="7.16" fill="#2f0039"/>
<rect x="307.86" y="509.04" width="3.55" height="7.16" fill="#24002b"/>
<rect x="311.36" y="509.04" width="3.55" height="7.16" fill="#1e0024"/>
<rect x="314.87" y="509.04" width="3.55" height="7.16" fill="#1d0022"/>
<rect x="318.37" y="509.04" width="3.55" height="7.16" fill="#1b0021"/>
<rect x="321.88" y="509.04" width="3.55" height="7.16" fill="#1a001f"/>
<rect x="325.38" y="509.04" width="3.55" height="7.16" fill="#18001d"/>
<rect x="328.89" y="509.04" width="3.55" height="7.16" fill="#17001b"/>
<rect x="332.39" y="509.04" width="3.55" height="7.16" fill="#150019"/>
<rect x="335.90" y="509.04" width="3.55" height="7.16" fill="#140018"/>
<rect x="339.40" y="509.04" width="3.55" height="7.16" fill="#1e0024"/>
<rect x="342.90" y="509.04" width="10.56" height="7.16" fill="#200026"/>
<rect x="353.42" y="509.04" width="3.55" height="7.16" fill="#1b0020"/>
<rect x="356.92" y="509.04" width="42.10" height="7.16" fill="#0f0012"/>
<rect x="398.98" y="509.04" width="3.55" height="7.16" fill="#050006"/>
<rect x="402.48" y="509.04" width="3.55" height="7.16" fill="#3b0047"/>
<rect x="405.99" y="509.04" width="3.55" height="7.16" fill="#530089"/>
<rect x="409.49" y="509.04" width="3.55" height="7.16" fill="#5000b1"/>
<rect x="412.99" y="509.04" width="3.55" height="7.16" fill="#4800bb"/>
<rect x="416.50" y="509.04" width="3.55" height="7.16" fill="#1400ec"/>
<rect x="420.00" y="509.04" width="3.55" height="7.16" fill="#0400fb"/>
<rect x="423.51" y="509.04" width="7.06" height="7.16" fill="#0066ff"/>
<rect x="430.52" y="509.04" width="3.55" height="7.16" fill="#0049ff"/>
<rect x="434.02" y="509.04" width="14.07" height="7.16" fill="#0033ff"/>
<rect x="69.55" y="501.93" width="17.57" height="7.16" fill="#8a8a8a"/>
<rect x="87.08" y="501.93" width="3.55" height="7.16" fill="#777777"/>
<rect x="90.58" y="501.93" width="3.55" height="7.16" fill="#555555"/>
<rect x="94.09" y="501.93" width="7.06" height="7.16" fill="#050006"/>
<rect x="101.09" y="501.93" width="3.55" height="7.16" fill="#17001c"/>
<rect x="104.60" y="501.93" width="3.55" height="7.16" fill="#510061"/>
<rect x="108.10" y="501.93" width="3.55" height="7.16" fill="#5100a0"/>
<rect x="111.61" y="501.93" width="3.55" height="7.16" fill="#2000e1"/>
<rect x="115.11" y="501.93" width="3.55" height="7.16" fill="#0e00f2"/>
<rect x="118.62" y="501.93" width="3.55" height="7.16" fill="#0050ff"/>
<rect x="122.12" y="501.93" width="3.55" height="7.16" fill="#00ffff"/>
<rect x="125.63" y="501.93" width="3.55" height="7.16" fill="#00ffc0"/>
<rect x="129.13" y="501.93" width="3.55" height="7.16" fill="#00ff40"/>
<rect x="132.63" y="501.93" width="3.55" height="7.16" fill="#00ff2e"/>
<rect x="136.14" y="501.93" width="3.55" height="7.16" fill="#8dff00"/>
<rect x="139.64" y="501.93" width="3.55" height="7.16" fill="#e5ff00"/>
<rect x="143.15" y="501.93" width="3.55" height="7.16" fill="#1aff00"/>
<rect x="146.65" y="501.93" width="3.55" height="7.16" fill="#0050ff"/>
<rect x="150.16" y="501.93" width="3.55" height="7.16" fill="#5100a9"/>
<rect x="153.66" y="501.93" width="3.55" height="7.16" fill="#550066"/>
<rect x="157.17" y="501.93" width="3.55" height="7.16" fill="#4f005f"/>
<rect x="160.67" y="501.93" width="3.55" height="7.16" fill="#4c005b"/>
<rect x="164.18" y="501.93" width="3.55" height="7.16" fill="#480057"/>
<rect x="167.68" y="501.93" width="3.55" height="7.16" fill="#450053"/>
<rect x="171.18" y="501.93" width="3.55" height="7.16" fill="#41004e"/>
<rect x="174.69" y="501.93" width="3.55" height="7.16" fill="#3e004a"/>
<rect x="178.19" y="501.93" width="3.55" height="7.16" fill="#41004d"/>
<rect x="181.70" y="501.93" width="10.56" height="7.16" fill="#480056"/>
<rect x="192.21" y="501.93" width="49.11" height="7.16" fill="#19001e"/>
<rect x="241.27" y="501.93" width="3.55" height="7.16" fill="#360040"/>
<rect x="244.78" y="501.93" width="7.06" height="7.16" fill="#3a0046"/>
<rect x="251.79" y="501.93" width="3.55" height="7.16" fill="#290032"/>
<rect x="255.29" y="501.93" width="3.55" height="7.16" fill="#130016"/>
<rect x="258.80" y="501.93" width="17.57" height="7.16" fill="#050006"/>
<rect x="276.32" y="501.93" width="3.55" height="7.16" fill="#030003"/>
<rect x="279.82" y="501.93" width="7.06" height="7.16" fill="#2a2a2a"/>
<rect x="286.83" y="501.93" width="7.06" height="7.16" fill="#444444"/>
<rect x="293.84" y="501.93" width="3.55" height="7.16" fill="#555555"/>
<rect x="297.35" y="501.93" width="3.55" height="7.16" fill="#5e5e5e"/>
<rect x="300.85" y="501.93" width="3.55" height="7.16" fill="#666666"/>
<rect x="304.36" y="501.93" width="7.06" height="7.16" fill="#777777"/>
<rect x="311.36" y="501.93" width="28.09" height="7.16" fill="#8a8a8a"/>
<rect x="339.40" y="501.93" width="59.63" height="7.16" fill="#808080"/>
<rect x="398.98" y="501.93" width="3.55" height="7.16" fill="#444444"/>
<rect x="402.48" y="501.93" width="3.55" height="7.16" fill="#370042"/>
<rect x="405.99" y="501.93" width="3.55" height="7.16" fill="#4a0058"/>
<rect x="409.49" y="501.93" width="3.55" height="7.16" fill="#540073"/>
<rect x="412.99" y="501.93" width="3.55" height="7.16" fill="#5100a0"/>
<rect x="416.50" y="501.93" width="3.55" height="7.16" fill="#5000b1"/>
<rect x="420.00" y="501.93" width="3.55" height="7.16" fill="#2f00d3"/>
<rect x="423.51" y="501.93" width="3.55" height="7.16" fill="#1000f0"/>
<rect x="427.01" y="501.93" width="3.55" height="7.16" fill="#0014ff"/>
<rect x="430.52" y="501.93" width="3.55" height="7.16" fill="#0040ff"/>
<rect x="434.02" y="501.93" width="3.55" height="7.16" fill="#004bff"/>
<rect x="437.53" y="501.93" width="3.55" height="7.16" fill="#0056ff"/>
<rect x="441.03" y="501.93" width="3.55" height="7.16" fill="#0061ff"/>
<rect x="444.54" y="501.93" width="3.55" height="7.16" fill="#0065ff"/>
<rect x="69.55" y="494.82" width="17.57" height="7.16" fill="#8a8a8a"/>
<rect x="87.08" y="494.82" width="3.55" height="7.16" fill="#777777"/>
<rect x="90.58" y="494.82" width="3.55" height="7.16" fill="#6d6d6d"/>
<rect x="94.09" y="494.82" width="3.55" height="7.16" fill="#515151"/>
<rect x="97.59" y="494.82" width="3.55" height="7.16" fill="#363636"/>
<rect x="101.09" y="494.82" width="3.55" height="7.16" fill="#111111"/>
<rect x="104.60" y="494.82" width="3.55" height="7.16" fill="#540073"/>
<rect x="108.10" y="494.82" width="3.55" height="7.16" fill="#53007f"/>
<rect x="111.61" y="494.82" width="3.55" height="7.16" fill="#3900c9"/>
<rect x="115.11" y="494.82" width="3.55" height="7.16" fill="#0025ff"/>
<rect x="118.62" y="494.82" width="3.55" height="7.16" fill="#00ffff"/>
<rect x="122.12" y="494.82" width="3.55" height="7.16" fill="#00ff7b"/>
<rect x="125.63" y="494.82" width="3.55" height="7.16" fill="#00ff33"/>
<rect x="129.13" y="494.82" width="3.55" height="7.16" fill="#1dff00"/>
<rect x="132.63" y="494.82" width="3.55" height="7.16" fill="#beff00"/>
<rect x="136.14" y="494.82" width="3.55" height="7.16" fill="#ffe700"/>
<rect x="139.64" y="494.82" width="3.55" height="7.16" fill="#63ff00"/>
<rect x="143.15" y="494.82" width="3.55" height="7.16" fill="#00ff57"/>
<rect x="146.65" y="494.82" width="3.55" height="7.16" fill="#0012ff"/>
<rect x="150.16" y="494.82" width="21.08" height="7.16" fill="#5000b4"/>
<rect x="171.18" y="494.82" width="3.55" height="7.16" fill="#4700bd"/>
<rect x="174.69" y="494.82" width="3.55" height="7.16" fill="#3000d2"/>
<rect x="178.19" y="494.82" width="3.55" height="7.16" fill="#4b00b8"/>
<rect x="181.70" y="494.82" width="10.56" height="7.16" fill="#520095"/>
<rect x="192.21" y="494.82" width="3.55" height="7.16" fill="#440052"/>
<rect x="195.72" y="494.82" width="3.55" height="7.16" fill="#3d0049"/>
<rect x="199.22" y="494.82" width="3.55" height="7.16" fill="#350040"/>
<rect x="202.72" y="494.82" width="3.55" height="7.16" fill="#1d0023"/>
<rect x="206.23" y="494.82" width="3.55" height="7.16" fill="#050006"/>
<rect x="209.73" y="494.82" width="21.08" height="7.16" fill="#8a8a8a"/>
<rect x="230.76" y="494.82" width="10.56" height="7.16" fill="#707070"/>
<rect x="241.27" y="494.82" width="17.57" height="7.16" fill="#7a7a7a"/>
<rect x="258.80" y="494.82" width="66.64" height="7.16" fill="#4a4a4a"/>
<rect x="325.38" y="494.82" width="14.07" height="7.16" fill="#606060"/>
<rect x="339.40" y="494.82" width="28.09" height="7.16" fill="#666666"/>
<rect x="367.44" y="494.82" width="3.55" height="7.16" fill="#646464"/>
<rect x="370.94" y="494.82" width="10.56" height="7.16" fill="#606060"/>
<rect x="381.45" y="494.82" width="3.55" height="7.16" fill="#707070"/>
<rect x="384.96" y="494.82" width="3.55" height="7.16" fill="#757575"/>
<rect x="388.46" y="494.82" width="10.56" height="7.16" fill="#7a7a7a"/>
<rect x="398.98" y="494.82" width="3.55" height="7.16" fill="#8a8a8a"/>
<rect x="402.48" y="494.82" width="3.55" height="7.16" fill="#333333"/>
<rect x="405.99" y="494.82" width="3.55" height="7.16" fill="#050006"/>
<rect x="409.49" y="494.82" width="3.55" height="7.16" fill="#2d0036"/>
<rect x="412.99" y="494.82" width="3.55" height="7.16" fill="#3e004b"/>
<rect x="416.50" y="494.82" width="3.55" height="7.16" fill="#500060"/>
<rect x="420.00" y="494.82" width="3.55" height="7.16" fill="#540074"/>
<rect x="423.51" y="494.82" width="3.55" height="7.16" fill="#5000b1"/>
<rect x="427.01" y="494.82" width="3.55" height="7.16" fill="#4000c3"/>
<rect x="430.52" y="494.82" width="3.55" height="7.16" fill="#0006ff"/>
<rect x="434.02" y="494.82" width="3.55" height="7.16" fill="#0013ff"/>
<rect x="437.53" y="494.82" width="3.55" height="7.16" fill="#0020ff"/>
<rect x="441.03" y="494.82" width="3.55" height="7.16" fill="#002dff"/>
<rect x="444.54" y="494.82" width="3.55" height="7.16" fill="#0032ff"/>
<rect x="69.55" y="487.71" width="21.08" height="7.16" fill="#8a8a8a"/>
<rect x="90.58" y="487.71" width="3.55" height="7.16" fill="#777777"/>
<rect x="94.09" y="487.71" width="7.06" height="7.16" fill="#666666"/>
<rect x="101.09" y="487.71" width="3.55" height="7.16" fill="#050006"/>
<rect x="104.60" y="487.71" width="3.55" height="7.16" fill="#550066"/>
<rect x="108.10" y="487.71" width="3.55" height="7.16" fill="#540076"/>
<rect x="111.61" y="487.71" width="3.55" height="7.16" fill="#5100a2"/>
<rect x="115.11" y="487.71" width="3.55" height="7.16" fill="#0b00f4"/>
<rect x="118.62" y="487.71" width="3.55" height="7.16" fill="#0092ff"/>
<rect x="122.12" y="487.71" width="3.55" height="7.16" fill="#00ffe9"/>
<rect x="125.63" y="487.71" width="3.55" height="7.16" fill="#00ff50"/>
<rect x="129.13" y="487.71" width="3.55" height="7.16" fill="#00ff26"/>
<rect x="132.63" y="487.71" width="3.55" height="7.16" fill="#80ff00"/>
<rect x="136.14" y="487.71" width="3.55" height="7.16" fill="#ddff00"/>
<rect x="139.64" y="487.71" width="3.55" height="7.16" fill="#afff00"/>
<rect x="143.15" y="487.71" width="3.55" height="7.16" fill="#00ff45"/>
<rect x="146.65" y="487.71" width="3.55" height="7.16" fill="#000bff"/>
<rect x="150.16" y="487.71" width="21.08" height="7.16" fill="#520095"/>
<rect x="171.18" y="487.71" width="3.55" height="7.16" fill="#5100a7"/>
<rect x="174.69" y="487.71" width="21.08" height="7.16" fill="#3000d2"/>
<rect x="195.72" y="487.71" width="3.55" height="7.16" fill="#4700bd"/>
<rect x="199.22" y="487.71" width="7.06" height="7.16" fill="#530085"/>
<rect x="206.23" y="487.71" width="3.55" height="7.16" fill="#050006"/>
<rect x="209.73" y="487.71" width="17.57" height="7.16" fill="#8a8a8a"/>
<rect x="227.26" y="487.71" width="3.55" height="7.16" fill="#666666"/>
<rect x="230.76" y="487.71" width="7.06" height="7.16" fill="#555555"/>
<rect x="237.77" y="487.71" width="3.55" height="7.16" fill="#4b4b4b"/>
<rect x="241.27" y="487.71" width="7.06" height="7.16" fill="#444444"/>
<rect x="248.28" y="487.71" width="3.55" height="7.16" fill="#555555"/>
<rect x="251.79" y="487.71" width="3.55" height="7.16" fill="#636363"/>
<rect x="255.29" y="487.71" width="3.55" height="7.16" fill="#777777"/>
<rect x="258.80" y="487.71" width="3.55" height="7.16" fill="#666666"/>
<rect x="262.30" y="487.71" width="3.55" height="7.16" fill="#727272"/>
<rect x="265.81" y="487.71" width="3.55" height="7.16" fill="#303030"/>
<rect x="269.31" y="487.71" width="35.10" height="7.16" fill="#08000a"/>
<rect x="304.36" y="487.71" width="38.60" height="7.16" fill="#09000b"/>
<rect x="342.90" y="487.71" width="3.55" height="7.16" fill="#2a2a2a"/>
<rect x="346.41" y="487.71" width="3.55" height="7.16" fill="#303030"/>
<rect x="349.91" y="487.71" width="3.55" height="7.16" fill="#3c3c3c"/>
<rect x="353.42" y="487.71" width="3.55" height="7.16" fill="#4a4a4a"/>
<rect x="356.92" y="487.71" width="7.06" height="7.16" fill="#555555"/>
<rect x="363.93" y="487.71" width="7.06" height="7.16" fill="#666666"/>
<rect x="370.94" y="487.71" width="28.09" height="7.16" fill="#7a7a7a"/>
<rect x="398.98" y="487.71" width="3.55" height="7.16" fill="#8a8a8a"/>
<rect x="402.48" y="487.71" width="3.55" height="7.16" fill="#999999"/>
<rect x="405.99" y="487.71" width="3.55" height="7.16" fill="#050006"/>
<rect x="409.49" y="487.71" width="3.55" height="7.16" fill="#210027"/>
<rect x="412.99" y="487.71" width="3.55" height="7.16" fill="#30003a"/>
<rect x="416.50" y="487.71" width="3.55" height="7.16" fill="#3c0048"/>
<rect x="420.00" y="487.71" width="3.55" height="7.16" fill="#480056"/>
<rect x="423.51" y="487.71" width="3.55" height="7.16" fill="#540065"/>
<rect x="427.01" y="487.71" width="3.55" height="7.16" fill="#530084"/>
<rect x="430.52" y="487.71" width="3.55" height="7.16" fill="#5000b4"/>
<rect x="434.02" y="487.71" width="3.55" height="7.16" fill="#4b00b8"/>
<rect x="437.53" y="487.71" width="10.56" height="7.16" fill="#3000d2"/>
<rect x="69.55" y="480.60" width="31.59" height="7.16" fill="#8a8a8a"/>
<rect x="101.09" y="480.60" width="3.55" height="7.16" fill="#757575"/>
<rect x="104.60" y="480.60" width="3.55" height="7.16" fill="#550066"/>
<rect x="108.10" y="480.60" width="3.55" height="7.16" fill="#540076"/>
<rect x="111.61" y="480.60" width="3.55" height="7.16" fill="#530087"/>
<rect x="115.11" y="480.60" width="3.55" height="7.16" fill="#2200df"/>
<rect x="118.62" y="480.60" width="3.55" height="7.16" fill="#0037ff"/>
<rect x="122.12" y="480.60" width="3.55" height="7.16" fill="#00c9ff"/>
<rect x="125.63" y="480.60" width="3.55" height="7.16" fill="#00ff7b"/>
<rect x="129.13" y="480.60" width="3.55" height="7.16" fill="#00ff33"/>
<rect x="132.63" y="480.60" width="3.55" height="7.16" fill="#00ff26"/>
<rect x="136.14" y="480.60" width="3.55" height="7.16" fill="#4dff00"/>
<rect x="139.64" y="480.60" width="3.55" height="7.16" fill="#00ff0d"/>
<rect x="143.15" y="480.60" width="3.55" height="7.16" fill="#00ff7b"/>
<rect x="146.65" y="480.60" width="3.55" height="7.16" fill="#0900f6"/>
<rect x="150.16" y="480.60" width="3.55" height="7.16" fill="#4000c3"/>
<rect x="153.66" y="480.60" width="3.55" height="7.16" fill="#3700cc"/>
<rect x="157.17" y="480.60" width="21.08" height="7.16" fill="#3000d2"/>
<rect x="178.19" y="480.60" width="3.55" height="7.16" fill="#1b00e5"/>
<rect x="181.70" y="480.60" width="14.07" height="7.16" fill="#0000ff"/>
<rect x="195.72" y="480.60" width="3.55" height="7.16" fill="#5000b2"/>
<rect x="199.22" y="480.60" width="3.55" height="7.16" fill="#5100a4"/>
<rect x="202.72" y="480.60" width="3.55" height="7.16" fill="#540076"/>
<rect x="206.23" y="480.60" width="3.55" height="7.16" fill="#08000a"/>
<rect x="209.73" y="480.60" width="17.57" height="7.16" fill="#8a8a8a"/>
<rect x="227.26" y="480.60" width="3.55" height="7.16" fill="#818181"/>
<rect x="230.76" y="480.60" width="7.06" height="7.16" fill="#707070"/>
<rect x="237.77" y="480.60" width="10.56" height="7.16" fill="#666666"/>
<rect x="248.28" y="480.60" width="14.07" height="7.16" fill="#777777"/>
<rect x="262.30" y="480.60" width="3.55" height="7.16" fill="#878787"/>
<rect x="265.81" y="480.60" width="3.55" height="7.16" fill="#949494"/>
<rect x="269.31" y="480.60" width="3.55" height="7.16" fill="#727272"/>
<rect x="272.81" y="480.60" width="3.55" height="7.16" fill="#120016"/>
<rect x="276.32" y="480.60" width="3.55" height="7.16" fill="#110015"/>
<rect x="279.82" y="480.60" width="3.55" height="7.16" fill="#110014"/>
<rect x="283.33" y="480.60" width="3.55" height="7.16" fill="#100013"/>
<rect x="286.83" y="480.60" width="7.06" height="7.16" fill="#0f0012"/>
<rect x="293.84" y="480.60" width="3.55" height="7.16" fill="#0e0011"/>
<rect x="297.35" y="480.60" width="3.55" height="7.16" fill="#0d0010"/>
<rect x="300.85" y="480.60" width="3.55" height="7.16" fill="#0d000f"/>
<rect x="304.36" y="480.60" width="28.09" height="7.16" fill="#0c000e"/>
<rect x="332.39" y="480.60" width="7.06" height="7.16" fill="#222222"/>
<rect x="339.40" y="480.60" width="3.55" height="7.16" fill="#2d2d2d"/>
<rect x="342.90" y="480.60" width="3.55" height="7.16" fill="#333333"/>
<rect x="346.41" y="480.60" width="7.06" height="7.16" fill="#444444"/>
<rect x="353.42" y="480.60" width="7.06" height="7.16" fill="#555555"/>
<rect x="360.43" y="480.60" width="3.55" height="7.16" fill="#666666"/>
<rect x="363.93" y="480.60" width="3.55" height="7.16" fill="#727272"/>
<rect x="367.44" y="480.60" width="3.55" height="7.16" fill="#777777"/>
<rect x="370.94" y="480.60" width="21.08" height="7.16" fill="#7a7a7a"/>
<rect x="391.97" y="480.60" width="3.55" height="7.16" fill="#8a8a8a"/>
<rect x="395.47" y="480.60" width="3.55" height="7.16" fill="#7a7a7a"/>
<rect x="398.98" y="480.60" width="3.55" height="7.16" fill="#8a8a8a"/>
<rect x="402.48" y="480.60" width="3.55" height="7.16" fill="#555555"/>
<rect x="405.99" y="480.60" width="3.55" height="7.16" fill="#050006"/>
<rect x="409.49" y="480.60" width="3.55" height="7.16" fill="#16001a"/>
<rect x="412.99" y="480.60" width="3.55" height="7.16" fill="#2a0033"/>
<rect x="416.50" y="480.60" width="3.55" height="7.16" fill="#35003f"/>
<rect x="420.00" y="480.60" width="3.55" height="7.16" fill="#3f004b"/>
<rect x="423.51" y="480.60" width="3.55" height="7.16" fill="#490057"/>
<rect x="427.01" y="480.60" width="3.55" height="7.16" fill="#540070"/>
<rect x="430.52" y="480.60" width="3.55" height="7.16" fill="#520098"/>
<rect x="434.02" y="480.60" width="3.55" height="7.16" fill="#52009b"/>
<rect x="437.53" y="480.60" width="3.55" height="7.16" fill="#51009f"/>
<rect x="441.03" y="480.60" width="3.55" height="7.16" fill="#5100a3"/>
<rect x="444.54" y="480.60" width="3.55" height="7.16" fill="#5100a4"/>
<rect x="69.55" y="473.50" width="31.59" height="7.16" fill="#8a8a8a"/>
<rect x="101.09" y="473.50" width="3.55" height="7.16" fill="#757575"/>
<rect x="104.60" y="473.50" width="3.55" height="7.16" fill="#33003d"/>
<rect x="108.10" y="473.50" width="3.55" height="7.16" fill="#3a0046"/>
<rect x="111.61" y="473.50" width="3.55" height="7.16" fill="#54006f"/>
<rect x="115.11" y="473.50" width="3.55" height="7.16" fill="#2900d8"/>
<rect x="118.62" y="473.50" width="3.55" height="7.16" fill="#0000ff"/>
<rect x="122.12" y="473.50" width="3.55" height="7.16" fill="#0092ff"/>
<rect x="125.63" y="473.50" width="3.55" height="7.16" fill="#00ffff"/>
<rect x="129.13" y="473.50" width="3.55" height="7.16" fill="#00ffd9"/>
<rect x="132.63" y="473.50" width="3.55" height="7.16" fill="#00ff9a"/>
<rect x="136.14" y="473.50" width="3.55" height="7.16" fill="#00ff60"/>
<rect x="139.64" y="473.50" width="3.55" height="7.16" fill="#00ff85"/>
<rect x="143.15" y="473.50" width="3.55" height="7.16" fill="#005bff"/>
<rect x="146.65" y="473.50" width="3.55" height="7.16" fill="#1200ee"/>
<rect x="150.16" y="473.50" width="3.55" height="7.16" fill="#4000c3"/>
<rect x="153.66" y="473.50" width="3.55" height="7.16" fill="#3700cc"/>
<rect x="157.17" y="473.50" width="21.08" height="7.16" fill="#3000d2"/>
<rect x="178.19" y="473.50" width="3.55" height="7.16" fill="#1500ec"/>
<rect x="181.70" y="473.50" width="3.55" height="7.16" fill="#001aff"/>
<rect x="185.20" y="473.50" width="3.55" height="7.16" fill="#0500fb"/>
<rect x="188.71" y="473.50" width="7.06" height="7.16" fill="#2000e1"/>
<rect x="195.72" y="473.50" width="3.55" height="7.16" fill="#5100a0"/>
<rect x="199.22" y="473.50" width="3.55" height="7.16" fill="#520095"/>
<rect x="202.72" y="473.50" width="3.55" height="7.16" fill="#390044"/>
<rect x="206.23" y="473.50" width="3.55" height="7.16" fill="#0e0011"/>
<rect x="209.73" y="473.50" width="3.55" height="7.16" fill="#777777"/>
<rect x="213.24" y="473.50" width="3.55" height="7.16" fill="#545454"/>
<rect x="216.74" y="473.50" width="3.55" height="7.16" fill="#4d4d4d"/>
<rect x="220.25" y="473.50" width="3.55" height="7.16" fill="#434343"/>
<rect x="223.75" y="473.50" width="3.55" height="7.16" fill="#1e1e1e"/>
<rect x="227.26" y="473.50" width="14.07" height="7.16" fill="#050006"/>
<rect x="241.27" y="473.50" width="3.55" height="7.16" fill="#333333"/>
<rect x="244.78" y="473.50" width="3.55" height="7.16" fill="#444444"/>
<rect x="248.28" y="473.50" width="3.55" height="7.16" fill="#4a4a4a"/>
<rect x="251.79" y="473.50" width="3.55" height="7.16" fill="#4e4e4e"/>
<rect x="255.29" y="473.50" width="3.55" height="7.16" fill="#555555"/>
<rect x="258.80" y="473.50" width="3.55" height="7.16" fill="#333333"/>
<rect x="262.30" y="473.50" width="3.55" height="7.16" fill="#5c5c5c"/>
<rect x="265.81" y="473.50" width="3.55" height="7.16" fill="#666666"/>
<rect x="269.31" y="473.50" width="3.55" height="7.16" fill="#414141"/>
<rect x="272.81" y="473.50" width="3.55" height="7.16" fill="#120016"/>
<rect x="276.32" y="473.50" width="3.55" height="7.16" fill="#120015"/>
<rect x="279.82" y="473.50" width="7.06" height="7.16" fill="#110014"/>
<rect x="286.83" y="473.50" width="7.06" height="7.16" fill="#100013"/>
<rect x="293.84" y="473.50" width="3.55" height="7.16" fill="#0f0012"/>
<rect x="297.35" y="473.50" width="3.55" height="7.16" fill="#0f0011"/>
<rect x="300.85" y="473.50" width="3.55" height="7.16" fill="#0e0011"/>
<rect x="304.36" y="473.50" width="24.58" height="7.16" fill="#0c000e"/>
<rect x="328.89" y="473.50" width="7.06" height="7.16" fill="#2a2a2a"/>
<rect x="335.90" y="473.50" width="3.55" height="7.16" fill="#303030"/>
<rect x="339.40" y="473.50" width="7.06" height="7.16" fill="#3c3c3c"/>
<rect x="346.41" y="473.50" width="3.55" height="7.16" fill="#4a4a4a"/>
<rect x="349.91" y="473.50" width="3.55" height="7.16" fill="#515151"/>
<rect x="353.42" y="473.50" width="3.55" height="7.16" fill="#555555"/>
<rect x="356.92" y="473.50" width="7.06" height="7.16" fill="#666666"/>
<rect x="363.93" y="473.50" width="3.55" height="7.16" fill="#6d6d6d"/>
<rect x="367.44" y="473.50" width="3.55" height="7.16" fill="#707070"/>
<rect x="370.94" y="473.50" width="28.09" height="7.16" fill="#7a7a7a"/>
<rect x="398.98" y="473.50" width="3.55" height="7.16" fill="#8a8a8a"/>
<rect x="402.48" y="473.50" width="3.55" height="7.16" fill="#444444"/>
<rect x="405.99" y="473.50" width="3.55" height="7.16" fill="#0c000f"/>
<rect x="409.49" y="473.50" width="3.55" height="7.16" fill="#1b0021"/>
<rect x="412.99" y="473.50" width="3.55" height="7.16" fill="#33003d"/>
<rect x="416.50" y="473.50" width="3.55" height="7.16" fill="#3b0047"/>
<rect x="420.00" y="473.50" width="3.55" height="7.16" fill="#430050"/>
<rect x="423.51" y="473.50" width="3.55" height="7.16" fill="#4b005a"/>
<rect x="427.01" y="473.50" width="3.55" height="7.16" fill="#550068"/>
<rect x="430.52" y="473.50" width="3.55" height="7.16" fill="#540079"/>
<rect x="434.02" y="473.50" width="3.55" height="7.16" fill="#54007d"/>
<rect x="437.53" y="473.50" width="3.55" height="7.16" fill="#530081"/>
<rect x="441.03" y="473.50" width="3.55" height="7.16" fill="#2e0037"/>
<rect x="444.54" y="473.50" width="3.55" height="7.16" fill="#8a8a8a"/>
<rect x="69.55" y="466.39" width="10.56" height="7.16" fill="#8a8a8a"/>
<rect x="80.07" y="466.39" width="3.55" height="7.16" fill="#7b7b7b"/>
<rect x="83.57" y="466.39" width="3.55" height="7.16" fill="#555555"/>
<rect x="87.08" y="466.39" width="17.57" height="7.16" fill="#8a8a8a"/>
<rect x="104.60" y="466.39" width="3.55" height="7.16" fill="#550066"/>
<rect x="108.10" y="466.39" width="7.06" height="7.16" fill="#540076"/>
<rect x="115.11" y="466.39" width="3.55" height="7.16" fill="#5000b4"/>
<rect x="118.62" y="466.39" width="3.55" height="7.16" fill="#1700ea"/>
<rect x="122.12" y="466.39" width="3.55" height="7.16" fill="#0049ff"/>
<rect x="125.63" y="466.39" width="3.55" height="7.16" fill="#00c9ff"/>
<rect x="129.13" y="466.39" width="3.55" height="7.16" fill="#00ffcf"/>
<rect x="132.63" y="466.39" width="3.55" height="7.16" fill="#00ff85"/>
<rect x="136.14" y="466.39" width="7.06" height="7.16" fill="#00ff40"/>
<rect x="143.15" y="466.39" width="3.55" height="7.16" fill="#00ffd9"/>
<rect x="146.65" y="466.39" width="3.55" height="7.16" fill="#0033ff"/>
<rect x="150.16" y="466.39" width="3.55" height="7.16" fill="#4000c3"/>
<rect x="153.66" y="466.39" width="3.55" height="7.16" fill="#2e00d4"/>
<rect x="157.17" y="466.39" width="21.08" height="7.16" fill="#2000e1"/>
<rect x="178.19" y="466.39" width="3.55" height="7.16" fill="#000fff"/>
<rect x="181.70" y="466.39" width="3.55" height="7.16" fill="#0066ff"/>
<rect x="185.20" y="466.39" width="3.55" height="7.16" fill="#001dff"/>
<rect x="188.71" y="466.39" width="3.55" height="7.16" fill="#0000ff"/>
<rect x="192.21" y="466.39" width="3.55" height="7.16" fill="#1b00e5"/>
<rect x="195.72" y="466.39" width="3.55" height="7.16" fill="#5100a4"/>
<rect x="199.22" y="466.39" width="3.55" height="7.16" fill="#520099"/>
<rect x="202.72" y="466.39" width="3.55" height="7.16" fill="#480056"/>
<rect x="206.23" y="466.39" width="7.06" height="7.16" fill="#050006"/>
<rect x="213.24" y="466.39" width="10.56" height="7.16" fill="#8a8a8a"/>
<rect x="223.75" y="466.39" width="3.55" height="7.16" fill="#838383"/>
<rect x="227.26" y="466.39" width="7.06" height="7.16" fill="#777777"/>
<rect x="234.27" y="466.39" width="7.06" height="7.16" fill="#555555"/>
<rect x="241.27" y="466.39" width="7.06" height="7.16" fill="#111111"/>
<rect x="248.28" y="466.39" width="3.55" height="7.16" fill="#444444"/>
<rect x="251.79" y="466.39" width="3.55" height="7.16" fill="#2a2a2a"/>
<rect x="255.29" y="466.39" width="7.06" height="7.16" fill="#050006"/>
<rect x="262.30" y="466.39" width="3.55" height="7.16" fill="#515151"/>
<rect x="265.81" y="466.39" width="3.55" height="7.16" fill="#666666"/>
<rect x="269.31" y="466.39" width="3.55" height="7.16" fill="#414141"/>
<rect x="272.81" y="466.39" width="31.59" height="7.16" fill="#130016"/>
<rect x="304.36" y="466.39" width="21.08" height="7.16" fill="#0c000e"/>
<rect x="325.38" y="466.39" width="3.55" height="7.16" fill="#020003"/>
<rect x="328.89" y="466.39" width="3.55" height="7.16" fill="#2a2a2a"/>
<rect x="332.39" y="466.39" width="3.55" height="7.16" fill="#303030"/>
<rect x="335.90" y="466.39" width="7.06" height="7.16" fill="#3c3c3c"/>
<rect x="342.90" y="466.39" width="7.06" height="7.16" fill="#4a4a4a"/>
<rect x="349.91" y="466.39" width="7.06" height="7.16" fill="#555555"/>
<rect x="356.92" y="466.39" width="7.06" height="7.16" fill="#666666"/>
<rect x="363.93" y="466.39" width="7.06" height="7.16" fill="#707070"/>
<rect x="370.94" y="466.39" width="28.09" height="7.16" fill="#7a7a7a"/>
<rect x="398.98" y="466.39" width="7.06" height="7.16" fill="#8a8a8a"/>
<rect x="405.99" y="466.39" width="3.55" height="7.16" fill="#777777"/>
<rect x="409.49" y="466.39" width="3.55" height="7.16" fill="#444444"/>
<rect x="412.99" y="466.39" width="7.06" height="7.16" fill="#050006"/>
<rect x="420.00" y="466.39" width="3.55" height="7.16" fill="#18001d"/>
<rect x="423.51" y="466.39" width="3.55" height="7.16" fill="#220028"/>
<rect x="427.01" y="466.39" width="3.55" height="7.16" fill="#32003d"/>
<rect x="430.52" y="466.39" width="3.55" height="7.16" fill="#4a0059"/>
<rect x="434.02" y="466.39" width="3.55" height="7.16" fill="#4e005d"/>
<rect x="437.53" y="466.39" width="3.55" height="7.16" fill="#510062"/>
<rect x="441.03" y="466.39" width="3.55" height="7.16" fill="#530080"/>
<rect x="444.54" y="466.39" width="3.55" height="7.16" fill="#530085"/>
<rect x="69.55" y="459.28" width="10.56" height="7.16" fill="#8a8a8a"/>
<rect x="80.07" y="459.28" width="3.55" height="7.16" fill="#838383"/>
<rect x="83.57" y="459.28" width="3.55" height="7.16" fill="#777777"/>
<rect x="87.08" y="459.28" width="14.07" height="7.16" fill="#8a8a8a"/>
<rect x="101.09" y="459.28" width="3.55" height="7.16" fill="#757575"/>
<rect x="104.60" y="459.28" width="3.55" height="7.16" fill="#550066"/>
<rect x="108.10" y="459.28" width="7.06" height="7.16" fill="#540076"/>
<rect x="115.11" y="459.28" width="3.55" height="7.16" fill="#520099"/>
<rect x="118.62" y="459.28" width="3.55" height="7.16" fill="#5000b4"/>
<rect x="122.12" y="459.28" width="3.55" height="7.16" fill="#0000ff"/>
<rect x="125.63" y="459.28" width="3.55" height="7.16" fill="#005bff"/>
<rect x="129.13" y="459.28" width="3.55" height="7.16" fill="#00b6ff"/>
<rect x="132.63" y="459.28" width="7.06" height="7.16" fill="#00ffff"/>
<rect x="139.64" y="459.28" width="3.55" height="7.16" fill="#00ffcc"/>
<rect x="143.15" y="459.28" width="3.55" height="7.16" fill="#00ffa6"/>
<rect x="146.65" y="459.28" width="3.55" height="7.16" fill="#0049ff"/>
<rect x="150.16" y="459.28" width="3.55" height="7.16" fill="#4000c3"/>
<rect x="153.66" y="459.28" width="3.55" height="7.16" fill="#1200ee"/>
<rect x="157.17" y="459.28" width="3.55" height="7.16" fill="#001aff"/>
<rect x="160.67" y="459.28" width="3.55" height="7.16" fill="#0063ff"/>
<rect x="164.18" y="459.28" width="21.08" height="7.16" fill="#0080ff"/>
<rect x="185.20" y="459.28" width="3.55" height="7.16" fill="#0025ff"/>
<rect x="188.71" y="459.28" width="3.55" height="7.16" fill="#0000ff"/>
<rect x="192.21" y="459.28" width="3.55" height="7.16" fill="#3700cc"/>
<rect x="195.72" y="459.28" width="3.55" height="7.16" fill="#5100a4"/>
<rect x="199.22" y="459.28" width="3.55" height="7.16" fill="#530081"/>
<rect x="202.72" y="459.28" width="3.55" height="7.16" fill="#4a0058"/>
<rect x="206.23" y="459.28" width="3.55" height="7.16" fill="#050006"/>
<rect x="209.73" y="459.28" width="17.57" height="7.16" fill="#919191"/>
<rect x="227.26" y="459.28" width="28.09" height="7.16" fill="#808080"/>
<rect x="255.29" y="459.28" width="3.55" height="7.16" fill="#050006"/>
<rect x="258.80" y="459.28" width="3.55" height="7.16" fill="#777777"/>
<rect x="262.30" y="459.28" width="3.55" height="7.16" fill="#6d6d6d"/>
<rect x="265.81" y="459.28" width="3.55" height="7.16" fill="#666666"/>
<rect x="269.31" y="459.28" width="3.55" height="7.16" fill="#363636"/>
<rect x="272.81" y="459.28" width="31.59" height="7.16" fill="#18001d"/>
<rect x="304.36" y="459.28" width="17.57" height="7.16" fill="#0c000e"/>
<rect x="321.88" y="459.28" width="10.56" height="7.16" fill="#333333"/>
<rect x="332.39" y="459.28" width="7.06" height="7.16" fill="#444444"/>
<rect x="339.40" y="459.28" width="7.06" height="7.16" fill="#555555"/>
<rect x="346.41" y="459.28" width="7.06" height="7.16" fill="#666666"/>
<rect x="353.42" y="459.28" width="7.06" height="7.16" fill="#707070"/>
<rect x="360.43" y="459.28" width="3.55" height="7.16" fill="#757575"/>
<rect x="363.93" y="459.28" width="31.59" height="7.16" fill="#7a7a7a"/>
<rect x="395.47" y="459.28" width="17.57" height="7.16" fill="#8a8a8a"/>
<rect x="412.99" y="459.28" width="3.55" height="7.16" fill="#666666"/>
<rect x="416.50" y="459.28" width="3.55" height="7.16" fill="#444444"/>
<rect x="420.00" y="459.28" width="3.55" height="7.16" fill="#2a2a2a"/>
<rect x="423.51" y="459.28" width="7.06" height="7.16" fill="#050006"/>
<rect x="430.52" y="459.28" width="3.55" height="7.16" fill="#25002d"/>
<rect x="434.02" y="459.28" width="3.55" height="7.16" fill="#2c0035"/>
<rect x="437.53" y="459.28" width="3.55" height="7.16" fill="#33003d"/>
<rect x="441.03" y="459.28" width="3.55" height="7.16" fill="#54007c"/>
<rect x="444.54" y="459.28" width="3.55" height="7.16" fill="#530085"/>
<rect x="69.55" y="452.17" width="10.56" height="7.16" fill="#8a8a8a"/>
<rect x="80.07" y="452.17" width="3.55" height="7.16" fill="#838383"/>
<rect x="83.57" y="452.17" width="3.55" height="7.16" fill="#777777"/>
<rect x="87.08" y="452.17" width="14.07" height="7.16" fill="#8a8a8a"/>
<rect x="101.09" y="452.17" width="3.55" height="7.16" fill="#757575"/>
<rect x="104.60" y="452.17" width="3.55" height="7.16" fill="#550066"/>
<rect x="108.10" y="452.17" width="10.56" height="7.16" fill="#540076"/>
<rect x="118.62" y="452.17" width="3.55" height="7.16" fill="#5000b4"/>
<rect x="122.12" y="452.17" width="3.55" height="7.16" fill="#0b00f4"/>
<rect x="125.63" y="452.17" width="3.55" height="7.16" fill="#0000ff"/>
<rect x="129.13" y="452.17" width="3.55" height="7.16" fill="#0063ff"/>
<rect x="132.63" y="452.17" width="14.07" height="7.16" fill="#0073ff"/>
<rect x="146.65" y="452.17" width="3.55" height="7.16" fill="#0031ff"/>
<rect x="150.16" y="452.17" width="3.55" height="7.16" fill="#5000b4"/>
<rect x="153.66" y="452.17" width="3.55" height="7.16" fill="#3500ce"/>
<rect x="157.17" y="452.17" width="3.55" height="7.16" fill="#2000e1"/>
<rect x="160.67" y="452.17" width="3.55" height="7.16" fill="#0004ff"/>
<rect x="164.18" y="452.17" width="14.07" height="7.16" fill="#001aff"/>
<rect x="178.19" y="452.17" width="3.55" height="7.16" fill="#003bff"/>
<rect x="181.70" y="452.17" width="3.55" height="7.16" fill="#0066ff"/>
<rect x="185.20" y="452.17" width="3.55" height="7.16" fill="#003bff"/>
<rect x="188.71" y="452.17" width="3.55" height="7.16" fill="#0000ff"/>
<rect x="192.21" y="452.17" width="3.55" height="7.16" fill="#3700cc"/>
<rect x="195.72" y="452.17" width="3.55" height="7.16" fill="#5100a4"/>
<rect x="199.22" y="452.17" width="3.55" height="7.16" fill="#54006f"/>
<rect x="202.72" y="452.17" width="3.55" height="7.16" fill="#3a0046"/>
<rect x="206.23" y="452.17" width="3.55" height="7.16" fill="#050006"/>
<rect x="209.73" y="452.17" width="7.06" height="7.16" fill="#8a8a8a"/>
<rect x="216.74" y="452.17" width="14.07" height="7.16" fill="#919191"/>
<rect x="230.76" y="452.17" width="21.08" height="7.16" fill="#8a8a8a"/>
<rect x="251.79" y="452.17" width="3.55" height="7.16" fill="#7b7b7b"/>
<rect x="255.29" y="452.17" width="3.55" height="7.16" fill="#555555"/>
<rect x="258.80" y="452.17" width="3.55" height="7.16" fill="#333333"/>
<rect x="262.30" y="452.17" width="10.56" height="7.16" fill="#666666"/>
<rect x="272.81" y="452.17" width="3.55" height="7.16" fill="#1a001f"/>
<rect x="276.32" y="452.17" width="3.55" height="7.16" fill="#19001e"/>
<rect x="279.82" y="452.17" width="3.55" height="7.16" fill="#18001d"/>
<rect x="283.33" y="452.17" width="3.55" height="7.16" fill="#17001c"/>
<rect x="286.83" y="452.17" width="3.55" height="7.16" fill="#16001b"/>
<rect x="290.34" y="452.17" width="3.55" height="7.16" fill="#16001a"/>
<rect x="293.84" y="452.17" width="3.55" height="7.16" fill="#150019"/>
<rect x="297.35" y="452.17" width="3.55" height="7.16" fill="#140018"/>
<rect x="300.85" y="452.17" width="3.55" height="7.16" fill="#130017"/>
<rect x="304.36" y="452.17" width="14.07" height="7.16" fill="#0c000e"/>
<rect x="318.37" y="452.17" width="3.55" height="7.16" fill="#010002"/>
<rect x="321.88" y="452.17" width="7.06" height="7.16" fill="#333333"/>
<rect x="328.89" y="452.17" width="7.06" height="7.16" fill="#444444"/>
<rect x="335.90" y="452.17" width="7.06" height="7.16" fill="#555555"/>
<rect x="342.90" y="452.17" width="7.06" height="7.16" fill="#606060"/>
<rect x="349.91" y="452.17" width="3.55" height="7.16" fill="#646464"/>
<rect x="353.42" y="452.17" width="7.06" height="7.16" fill="#666666"/>
<rect x="360.43" y="452.17" width="10.56" height="7.16" fill="#777777"/>
<rect x="370.94" y="452.17" width="14.07" height="7.16" fill="#7a7a7a"/>
<rect x="384.96" y="452.17" width="3.55" height="7.16" fill="#7f7f7f"/>
<rect x="388.46" y="452.17" width="17.57" height="7.16" fill="#8a8a8a"/>
<rect x="405.99" y="452.17" width="10.56" height="7.16" fill="#7a7a7a"/>
<rect x="416.50" y="452.17" width="3.55" height="7.16" fill="#666666"/>
<rect x="420.00" y="452.17" width="3.55" height="7.16" fill="#424242"/>
<rect x="423.51" y="452.17" width="3.55" height="7.16" fill="#3a3a3a"/>
<rect x="427.01" y="452.17" width="7.06" height="7.16" fill="#333333"/>
<rect x="434.02" y="452.17" width="3.55" height="7.16" fill="#030004"/>
<rect x="437.53" y="452.17" width="3.55" height="7.16" fill="#19001e"/>
<rect x="441.03" y="452.17" width="3.55" height="7.16" fill="#540078"/>
<rect x="444.54" y="452.17" width="3.55" height="7.16" fill="#530085"/>
<rect x="69.55" y="445.06" width="31.59" height="7.16" fill="#8a8a8a"/>
<rect x="101.09" y="445.06" width="3.55" height="7.16" fill="#757575"/>
<rect x="104.60" y="445.06" width="3.55" height="7.16" fill="#050006"/>
<rect x="108.10" y="445.06" width="3.55" height="7.16" fill="#430050"/>
<rect x="111.61" y="445.06" width="3.55" height="7.16" fill="#530064"/>
<rect x="115.11" y="445.06" width="3.55" height="7.16" fill="#520098"/>
<rect x="118.62" y="445.06" width="7.06" height="7.16" fill="#5000b4"/>
<rect x="125.63" y="445.06" width="3.55" height="7.16" fill="#1700ea"/>
<rect x="129.13" y="445.06" width="17.57" height="7.16" fill="#0000ff"/>
<rect x="146.65" y="445.06" width="3.55" height="7.16" fill="#1700ea"/>
<rect x="150.16" y="445.06" width="3.55" height="7.16" fill="#5000ad"/>
<rect x="153.66" y="445.06" width="10.56" height="7.16" fill="#530085"/>
<rect x="164.18" y="445.06" width="14.07" height="7.16" fill="#5000b4"/>
<rect x="178.19" y="445.06" width="3.55" height="7.16" fill="#2a00d7"/>
<rect x="181.70" y="445.06" width="10.56" height="7.16" fill="#000dff"/>
<rect x="192.21" y="445.06" width="7.06" height="7.16" fill="#5100a4"/>
<rect x="199.22" y="445.06" width="3.55" height="7.16" fill="#3a0046"/>
<rect x="202.72" y="445.06" width="3.55" height="7.16" fill="#2d0036"/>
<rect x="206.23" y="445.06" width="3.55" height="7.16" fill="#050006"/>
<rect x="209.73" y="445.06" width="49.11" height="7.16" fill="#8a8a8a"/>
<rect x="258.80" y="445.06" width="3.55" height="7.16" fill="#555555"/>
<rect x="262.30" y="445.06" width="3.55" height="7.16" fill="#6e6e6e"/>
<rect x="265.81" y="445.06" width="7.06" height="7.16" fill="#777777"/>
<rect x="272.81" y="445.06" width="31.59" height="7.16" fill="#18001d"/>
<rect x="304.36" y="445.06" width="10.56" height="7.16" fill="#0c000e"/>
<rect x="314.87" y="445.06" width="7.06" height="7.16" fill="#333333"/>
<rect x="321.88" y="445.06" width="7.06" height="7.16" fill="#444444"/>
<rect x="328.89" y="445.06" width="10.56" height="7.16" fill="#555555"/>
<rect x="339.40" y="445.06" width="7.06" height="7.16" fill="#606060"/>
<rect x="346.41" y="445.06" width="7.06" height="7.16" fill="#666666"/>
<rect x="353.42" y="445.06" width="7.06" height="7.16" fill="#777777"/>
<rect x="360.43" y="445.06" width="3.55" height="7.16" fill="#797979"/>
<rect x="363.93" y="445.06" width="7.06" height="7.16" fill="#808080"/>
<rect x="370.94" y="445.06" width="7.06" height="7.16" fill="#7a7a7a"/>
<rect x="377.95" y="445.06" width="38.60" height="7.16" fill="#8a8a8a"/>
<rect x="416.50" y="445.06" width="10.56" height="7.16" fill="#7a7a7a"/>
<rect x="427.01" y="445.06" width="3.55" height="7.16" fill="#858585"/>
<rect x="430.52" y="445.06" width="7.06" height="7.16" fill="#8a8a8a"/>
<rect x="437.53" y="445.06" width="3.55" height="7.16" fill="#050006"/>
<rect x="441.03" y="445.06" width="3.55" height="7.16" fill="#530081"/>
<rect x="444.54" y="445.06" width="3.55" height="7.16" fill="#530085"/>
<rect x="69.55" y="437.96" width="35.09" height="7.16" fill="#8a8a8a"/>
<rect x="104.60" y="437.96" width="3.55" height="7.16" fill="#050006"/>
<rect x="108.10" y="437.96" width="3.55" height="7.16" fill="#220029"/>
<rect x="111.61" y="437.96" width="3.55" height="7.16" fill="#530064"/>
<rect x="115.11" y="437.96" width="7.06" height="7.16" fill="#530085"/>
<rect x="122.12" y="437.96" width="3.55" height="7.16" fill="#52009a"/>
<rect x="125.63" y="437.96" width="3.55" height="7.16" fill="#4500be"/>
<rect x="129.13" y="437.96" width="3.55" height="7.16" fill="#3a00c9"/>
<rect x="132.63" y="437.96" width="3.55" height="7.16" fill="#3300d0"/>
<rect x="136.14" y="437.96" width="3.55" height="7.16" fill="#2f00d3"/>
<rect x="139.64" y="437.96" width="3.55" height="7.16" fill="#2a00d7"/>
<rect x="143.15" y="437.96" width="3.55" height="7.16" fill="#2600dc"/>
<rect x="146.65" y="437.96" width="3.55" height="7.16" fill="#3d00c6"/>
<rect x="150.16" y="437.96" width="3.55" height="7.16" fill="#530085"/>
<rect x="153.66" y="437.96" width="3.55" height="7.16" fill="#540073"/>
<rect x="157.17" y="437.96" width="21.08" height="7.16" fill="#550066"/>
<rect x="178.19" y="437.96" width="3.55" height="7.16" fill="#52009b"/>
<rect x="181.70" y="437.96" width="3.55" height="7.16" fill="#2000e1"/>
<rect x="185.20" y="437.96" width="3.55" height="7.16" fill="#4200c1"/>
<rect x="188.71" y="437.96" width="7.06" height="7.16" fill="#520095"/>
<rect x="195.72" y="437.96" width="3.55" height="7.16" fill="#540076"/>
<rect x="199.22" y="437.96" width="3.55" height="7.16" fill="#636363"/>
<rect x="202.72" y="437.96" width="56.12" height="7.16" fill="#8a8a8a"/>
<rect x="258.80" y="437.96" width="14.07" height="7.16" fill="#666666"/>
<rect x="272.81" y="437.96" width="31.59" height="7.16" fill="#1b0020"/>
<rect x="304.36" y="437.96" width="14.07" height="7.16" fill="#130016"/>
<rect x="318.37" y="437.96" width="7.06" height="7.16" fill="#333333"/>
<rect x="325.38" y="437.96" width="3.55" height="7.16" fill="#3e3e3e"/>
<rect x="328.89" y="437.96" width="3.55" height="7.16" fill="#444444"/>
<rect x="332.39" y="437.96" width="3.55" height="7.16" fill="#4b4b4b"/>
<rect x="335.90" y="437.96" width="7.06" height="7.16" fill="#555555"/>
<rect x="342.90" y="437.96" width="7.06" height="7.16" fill="#666666"/>
<rect x="349.91" y="437.96" width="10.56" height="7.16" fill="#777777"/>
<rect x="360.43" y="437.96" width="10.56" height="7.16" fill="#808080"/>
<rect x="370.94" y="437.96" width="66.64" height="7.16" fill="#8a8a8a"/>
<rect x="437.53" y="437.96" width="3.55" height="7.16" fill="#4a4a4a"/>
<rect x="441.03" y="437.96" width="3.55" height="7.16" fill="#54007c"/>
<rect x="444.54" y="437.96" width="3.55" height="7.16" fill="#530085"/>
<rect x="69.55" y="430.85" width="31.59" height="7.16" fill="#8a8a8a"/>
<rect x="101.09" y="430.85" width="3.55" height="7.16" fill="#050006"/>
<rect x="104.60" y="430.85" width="3.55" height="7.16" fill="#130016"/>
<rect x="108.10" y="430.85" width="3.55" height="7.16" fill="#4c005b"/>
<rect x="111.61" y="430.85" width="7.06" height="7.16" fill="#540076"/>
<rect x="118.62" y="430.85" width="3.55" height="7.16" fill="#530081"/>
<rect x="122.12" y="430.85" width="7.06" height="7.16" fill="#4000c3"/>
<rect x="129.13" y="430.85" width="3.55" height="7.16" fill="#1200ee"/>
<rect x="132.63" y="430.85" width="3.55" height="7.16" fill="#0e00f2"/>
<rect x="136.14" y="430.85" width="10.56" height="7.16" fill="#0000ff"/>
<rect x="146.65" y="430.85" width="3.55" height="7.16" fill="#1700ea"/>
<rect x="150.16" y="430.85" width="3.55" height="7.16" fill="#5000b4"/>
<rect x="153.66" y="430.85" width="3.55" height="7.16" fill="#520099"/>
<rect x="157.17" y="430.85" width="10.56" height="7.16" fill="#530085"/>
<rect x="167.68" y="430.85" width="3.55" height="7.16" fill="#5000b2"/>
<rect x="171.18" y="430.85" width="7.06" height="7.16" fill="#4000c3"/>
<rect x="178.19" y="430.85" width="3.55" height="7.16" fill="#3200d0"/>
<rect x="181.70" y="430.85" width="3.55" height="7.16" fill="#2000e1"/>
<rect x="185.20" y="430.85" width="3.55" height="7.16" fill="#3d00c6"/>
<rect x="188.71" y="430.85" width="3.55" height="7.16" fill="#520096"/>
<rect x="192.21" y="430.85" width="3.55" height="7.16" fill="#530086"/>
<rect x="195.72" y="430.85" width="3.55" height="7.16" fill="#540076"/>
<rect x="199.22" y="430.85" width="3.55" height="7.16" fill="#200027"/>
<rect x="202.72" y="430.85" width="38.60" height="7.16" fill="#8a8a8a"/>
<rect x="241.27" y="430.85" width="17.57" height="7.16" fill="#808080"/>
<rect x="258.80" y="430.85" width="10.56" height="7.16" fill="#8a8a8a"/>
<rect x="269.31" y="430.85" width="3.55" height="7.16" fill="#050006"/>
<rect x="272.81" y="430.85" width="31.59" height="7.16" fill="#1d0023"/>
<rect x="304.36" y="430.85" width="14.07" height="7.16" fill="#1b0020"/>
<rect x="318.37" y="430.85" width="7.06" height="7.16" fill="#050006"/>
<rect x="325.38" y="430.85" width="3.55" height="7.16" fill="#2a2a2a"/>
<rect x="328.89" y="430.85" width="3.55" height="7.16" fill="#444444"/>
<rect x="332.39" y="430.85" width="3.55" height="7.16" fill="#5a5a5a"/>
<rect x="335.90" y="430.85" width="14.07" height="7.16" fill="#777777"/>
<rect x="349.91" y="430.85" width="3.55" height="7.16" fill="#858585"/>
<rect x="353.42" y="430.85" width="17.57" height="7.16" fill="#919191"/>
<rect x="370.94" y="430.85" width="70.14" height="7.16" fill="#8a8a8a"/>
<rect x="441.03" y="430.85" width="3.55" height="7.16" fill="#55006c"/>
<rect x="444.54" y="430.85" width="3.55" height="7.16" fill="#530085"/>
<rect x="69.55" y="423.74" width="31.59" height="7.16" fill="#8a8a8a"/>
<rect x="101.09" y="423.74" width="3.55" height="7.16" fill="#050006"/>
<rect x="104.60" y="423.74" width="3.55" height="7.16" fill="#18001d"/>
<rect x="108.10" y="423.74" width="3.55" height="7.16" fill="#4f005f"/>
<rect x="111.61" y="423.74" width="10.56" height="7.16" fill="#540076"/>
<rect x="122.12" y="423.74" width="3.55" height="7.16" fill="#520090"/>
<rect x="125.63" y="423.74" width="3.55" height="7.16" fill="#5000b4"/>
<rect x="129.13" y="423.74" width="7.06" height="7.16" fill="#3e00c5"/>
<rect x="136.14" y="423.74" width="3.55" height="7.16" fill="#1d00e4"/>
<rect x="139.64" y="423.74" width="7.06" height="7.16" fill="#0800f7"/>
<rect x="146.65" y="423.74" width="3.55" height="7.16" fill="#1d00e4"/>
<rect x="150.16" y="423.74" width="3.55" height="7.16" fill="#5000b4"/>
<rect x="153.66" y="423.74" width="3.55" height="7.16" fill="#540071"/>
<rect x="157.17" y="423.74" width="3.55" height="7.16" fill="#55006d"/>
<rect x="160.67" y="423.74" width="7.06" height="7.16" fill="#540076"/>
<rect x="167.68" y="423.74" width="3.55" height="7.16" fill="#520097"/>
<rect x="171.18" y="423.74" width="7.06" height="7.16" fill="#5100a4"/>
<rect x="178.19" y="423.74" width="3.55" height="7.16" fill="#54007c"/>
<rect x="181.70" y="423.74" width="3.55" height="7.16" fill="#3a0046"/>
<rect x="185.20" y="423.74" width="3.55" height="7.16" fill="#54006f"/>
<rect x="188.71" y="423.74" width="7.06" height="7.16" fill="#5100a4"/>
<rect x="195.72" y="423.74" width="3.55" height="7.16" fill="#540078"/>
<rect x="199.22" y="423.74" width="17.57" height="7.16" fill="#8a8a8a"/>
<rect x="216.74" y="423.74" width="21.08" height="7.16" fill="#34003e"/>
<rect x="237.77" y="423.74" width="3.55" height="7.16" fill="#150019"/>
<rect x="241.27" y="423.74" width="17.57" height="7.16" fill="#7a7a7a"/>
<rect x="258.80" y="423.74" width="10.56" height="7.16" fill="#8a8a8a"/>
<rect x="269.31" y="423.74" width="3.55" height="7.16" fill="#050006"/>
<rect x="272.81" y="423.74" width="31.59" height="7.16" fill="#1b0020"/>
<rect x="304.36" y="423.74" width="7.06" height="7.16" fill="#19001e"/>
<rect x="311.36" y="423.74" width="3.55" height="7.16" fill="#0c000e"/>
<rect x="314.87" y="423.74" width="7.06" height="7.16" fill="#050006"/>
<rect x="321.88" y="423.74" width="3.55" height="7.16" fill="#555555"/>
<rect x="325.38" y="423.74" width="3.55" height="7.16" fill="#777777"/>
<rect x="328.89" y="423.74" width="42.10" height="7.16" fill="#808080"/>
<rect x="370.94" y="423.74" width="70.14" height="7.16" fill="#8a8a8a"/>
<rect x="441.03" y="423.74" width="3.55" height="7.16" fill="#55006c"/>
<rect x="444.54" y="423.74" width="3.55" height="7.16" fill="#530085"/>
<rect x="69.55" y="416.63" width="31.59" height="7.16" fill="#8a8a8a"/>
<rect x="101.09" y="416.63" width="3.55" height="7.16" fill="#757575"/>
<rect x="104.60" y="416.63" width="3.55" height="7.16" fill="#33003d"/>
<rect x="108.10" y="416.63" width="17.57" height="7.16" fill="#550066"/>
<rect x="125.63" y="416.63" width="3.55" height="7.16" fill="#5100a2"/>
<rect x="129.13" y="416.63" width="3.55" height="7.16" fill="#3d00c6"/>
<rect x="132.63" y="416.63" width="3.55" height="7.16" fill="#5000b1"/>
<rect x="136.14" y="416.63" width="3.55" height="7.16" fill="#3800cb"/>
<rect x="139.64" y="416.63" width="7.06" height="7.16" fill="#2800da"/>
<rect x="146.65" y="416.63" width="3.55" height="7.16" fill="#4100c2"/>
<rect x="150.16" y="416.63" width="3.55" height="7.16" fill="#530085"/>
<rect x="153.66" y="416.63" width="3.55" height="7.16" fill="#370042"/>
<rect x="157.17" y="416.63" width="3.55" height="7.16" fill="#550066"/>
<rect x="160.67" y="416.63" width="17.57" height="7.16" fill="#54006e"/>
<rect x="178.19" y="416.63" width="3.55" height="7.16" fill="#540071"/>
<rect x="181.70" y="416.63" width="14.07" height="7.16" fill="#540076"/>
<rect x="195.72" y="416.63" width="3.55" height="7.16" fill="#480056"/>
<rect x="199.22" y="416.63" width="3.55" height="7.16" fill="#757575"/>
<rect x="202.72" y="416.63" width="14.07" height="7.16" fill="#8a8a8a"/>
<rect x="216.74" y="416.63" width="21.08" height="7.16" fill="#4e005e"/>
<rect x="237.77" y="416.63" width="3.55" height="7.16" fill="#050006"/>
<rect x="241.27" y="416.63" width="3.55" height="7.16" fill="#8a8a8a"/>
<rect x="244.78" y="416.63" width="21.08" height="7.16" fill="#777777"/>
<rect x="265.81" y="416.63" width="3.55" height="7.16" fill="#838383"/>
<rect x="269.31" y="416.63" width="3.55" height="7.16" fill="#757575"/>
<rect x="272.81" y="416.63" width="3.55" height="7.16" fill="#050006"/>
<rect x="276.32" y="416.63" width="28.09" height="7.16" fill="#15001a"/>
<rect x="304.36" y="416.63" width="3.55" height="7.16" fill="#130016"/>
<rect x="307.86" y="416.63" width="3.55" height="7.16" fill="#050006"/>
<rect x="311.36" y="416.63" width="3.55" height="7.16" fill="#555555"/>
<rect x="314.87" y="416.63" width="3.55" height="7.16" fill="#6e6e6e"/>
<rect x="318.37" y="416.63" width="122.71" height="7.16" fill="#8a8a8a"/>
<rect x="441.03" y="416.63" width="3.55" height="7.16" fill="#55006c"/>
<rect x="444.54" y="416.63" width="3.55" height="7.16" fill="#530085"/>
<rect x="69.55" y="409.52" width="31.59" height="7.16" fill="#8a8a8a"/>
<rect x="101.09" y="409.52" width="3.55" height="7.16" fill="#555555"/>
<rect x="104.60" y="409.52" width="3.55" height="7.16" fill="#24002b"/>
<rect x="108.10" y="409.52" width="3.55" height="7.16" fill="#3e004a"/>
<rect x="111.61" y="409.52" width="3.55" height="7.16" fill="#41004e"/>
<rect x="115.11" y="409.52" width="3.55" height="7.16" fill="#440051"/>
<rect x="118.62" y="409.52" width="3.55" height="7.16" fill="#3d0049"/>
<rect x="122.12" y="409.52" width="3.55" height="7.16" fill="#050006"/>
<rect x="125.63" y="409.52" width="3.55" height="7.16" fill="#2d0036"/>
<rect x="129.13" y="409.52" width="3.55" height="7.16" fill="#530085"/>
<rect x="132.63" y="409.52" width="3.55" height="7.16" fill="#52008e"/>
<rect x="136.14" y="409.52" width="3.55" height="7.16" fill="#5100a7"/>
<rect x="139.64" y="409.52" width="7.06" height="7.16" fill="#5000b4"/>
<rect x="146.65" y="409.52" width="3.55" height="7.16" fill="#51009e"/>
<rect x="150.16" y="409.52" width="3.55" height="7.16" fill="#550066"/>
<rect x="153.66" y="409.52" width="3.55" height="7.16" fill="#050006"/>
<rect x="157.17" y="409.52" width="3.55" height="7.16" fill="#440052"/>
<rect x="160.67" y="409.52" width="17.57" height="7.16" fill="#4e005e"/>
<rect x="178.19" y="409.52" width="3.55" height="7.16" fill="#8a8a8a"/>
<rect x="181.70" y="409.52" width="3.55" height="7.16" fill="#050006"/>
<rect x="185.20" y="409.52" width="10.56" height="7.16" fill="#540076"/>
<rect x="195.72" y="409.52" width="3.55" height="7.16" fill="#24002c"/>
<rect x="199.22" y="409.52" width="7.06" height="7.16" fill="#8a8a8a"/>
<rect x="206.23" y="409.52" width="3.55" height="7.16" fill="#130016"/>
<rect x="209.73" y="409.52" width="3.55" height="7.16" fill="#5100a4"/>
<rect x="213.24" y="409.52" width="3.55" height="7.16" fill="#520090"/>
<rect x="216.74" y="409.52" width="17.57" height="7.16" fill="#4e005e"/>
<rect x="234.27" y="409.52" width="3.55" height="7.16" fill="#35003f"/>
<rect x="237.77" y="409.52" width="3.55" height="7.16" fill="#555555"/>
<rect x="241.27" y="409.52" width="3.55" height="7.16" fill="#8a8a8a"/>
<rect x="244.78" y="409.52" width="21.08" height="7.16" fill="#777777"/>
<rect x="265.81" y="409.52" width="3.55" height="7.16" fill="#838383"/>
<rect x="269.31" y="409.52" width="7.06" height="7.16" fill="#8a8a8a"/>
<rect x="276.32" y="409.52" width="3.55" height="7.16" fill="#333333"/>
<rect x="279.82" y="409.52" width="14.07" height="7.16" fill="#000000"/>
<rect x="293.84" y="409.52" width="7.06" height="7.16" fill="#333333"/>
<rect x="300.85" y="409.52" width="7.06" height="7.16" fill="#777777"/>
<rect x="307.86" y="409.52" width="3.55" height="7.16" fill="#7b7b7b"/>
<rect x="311.36" y="409.52" width="129.72" height="7.16" fill="#8a8a8a"/>
<rect x="441.03" y="409.52" width="3.55" height="7.16" fill="#55006c"/>
<rect x="444.54" y="409.52" width="3.55" height="7.16" fill="#530085"/>
<rect x="69.55" y="402.42" width="31.59" height="7.16" fill="#8a8a8a"/>
<rect x="101.09" y="402.42" width="3.55" height="7.16" fill="#444444"/>
<rect x="104.60" y="402.42" width="3.55" height="7.16" fill="#070009"/>
<rect x="108.10" y="402.42" width="10.56" height="7.16" fill="#2d0036"/>
<rect x="118.62" y="402.42" width="7.06" height="7.16" fill="#333333"/>
<rect x="125.63" y="402.42" width="3.55" height="7.16" fill="#050006"/>
<rect x="129.13" y="402.42" width="3.55" height="7.16" fill="#530085"/>
<rect x="132.63" y="402.42" width="3.55" height="7.16" fill="#520090"/>
<rect x="136.14" y="402.42" width="14.07" height="7.16" fill="#520095"/>
<rect x="150.16" y="402.42" width="3.55" height="7.16" fill="#4f005f"/>
<rect x="153.66" y="402.42" width="3.55" height="7.16" fill="#130016"/>
<rect x="157.17" y="402.42" width="3.55" height="7.16" fill="#050006"/>
<rect x="160.67" y="402.42" width="3.55" height="7.16" fill="#2b0034"/>
<rect x="164.18" y="402.42" width="14.07" height="7.16" fill="#3a0046"/>
<rect x="178.19" y="402.42" width="3.55" height="7.16" fill="#8a8a8a"/>
<rect x="181.70" y="402.42" width="3.55" height="7.16" fill="#050006"/>
<rect x="185.20" y="402.42" width="10.56" height="7.16" fill="#540076"/>
<rect x="195.72" y="402.42" width="3.55" height="7.16" fill="#050006"/>
<rect x="199.22" y="402.42" width="10.56" height="7.16" fill="#8a8a8a"/>
<rect x="209.73" y="402.42" width="7.06" height="7.16" fill="#520095"/>
<rect x="216.74" y="402.42" width="17.57" height="7.16" fill="#480056"/>
<rect x="234.27" y="402.42" width="3.55" height="7.16" fill="#35003f"/>
<rect x="237.77" y="402.42" width="3.55" height="7.16" fill="#757575"/>
<rect x="241.27" y="402.42" width="35.10" height="7.16" fill="#8a8a8a"/>
<rect x="276.32" y="402.42" width="3.55" height="7.16" fill="#555555"/>
<rect x="279.82" y="402.42" width="10.56" height="7.16" fill="#444444"/>
<rect x="290.34" y="402.42" width="3.55" height="7.16" fill="#7b7b7b"/>
<rect x="293.84" y="402.42" width="147.24" height="7.16" fill="#8a8a8a"/>
<rect x="441.03" y="402.42" width="3.55" height="7.16" fill="#55006c"/>
<rect x="444.54" y="402.42" width="3.55" height="7.16" fill="#530085"/>
<rect x="69.55" y="395.31" width="31.59" height="7.16" fill="#8a8a8a"/>
<rect x="101.09" y="395.31" width="3.55" height="7.16" fill="#333333"/>
<rect x="104.60" y="395.31" width="3.55" height="7.16" fill="#444444"/>
<rect x="108.10" y="395.31" width="3.55" height="7.16" fill="#0e0010"/>
<rect x="111.61" y="395.31" width="3.55" height="7.16" fill="#100013"/>
<rect x="115.11" y="395.31" width="3.55" height="7.16" fill="#120016"/>
<rect x="118.62" y="395.31" width="7.06" height="7.16" fill="#555555"/>
<rect x="125.63" y="395.31" width="3.55" height="7.16" fill="#050006"/>
<rect x="129.13" y="395.31" width="3.55" height="7.16" fill="#3e004b"/>
<rect x="132.63" y="395.31" width="3.55" height="7.16" fill="#540071"/>
<rect x="136.14" y="395.31" width="14.07" height="7.16" fill="#540076"/>
<rect x="150.16" y="395.31" width="3.55" height="7.16" fill="#24002c"/>
<rect x="153.66" y="395.31" width="3.55" height="7.16" fill="#414141"/>
<rect x="157.17" y="395.31" width="3.55" height="7.16" fill="#4e4e4e"/>
<rect x="160.67" y="395.31" width="3.55" height="7.16" fill="#08000a"/>
<rect x="164.18" y="395.31" width="14.07" height="7.16" fill="#200026"/>
<rect x="178.19" y="395.31" width="7.06" height="7.16" fill="#8a8a8a"/>
<rect x="185.20" y="395.31" width="10.56" height="7.16" fill="#550066"/>
<rect x="195.72" y="395.31" width="21.08" height="7.16" fill="#8a8a8a"/>
<rect x="216.74" y="395.31" width="21.08" height="7.16" fill="#550066"/>
<rect x="237.77" y="395.31" width="3.55" height="7.16" fill="#050006"/>
<rect x="241.27" y="395.31" width="35.10" height="7.16" fill="#8a8a8a"/>
<rect x="276.32" y="395.31" width="3.55" height="7.16" fill="#838383"/>
<rect x="279.82" y="395.31" width="10.56" height="7.16" fill="#777777"/>
<rect x="290.34" y="395.31" width="157.75" height="7.16" fill="#8a8a8a"/>
<rect x="69.55" y="388.20" width="31.59" height="7.16" fill="#8a8a8a"/>
<rect x="101.09" y="388.20" width="3.55" height="7.16" fill="#4b4b4b"/>
<rect x="104.60" y="388.20" width="3.55" height="7.16" fill="#4a4a4a"/>
<rect x="108.10" y="388.20" width="3.55" height="7.16" fill="#111111"/>
<rect x="111.61" y="388.20" width="3.55" height="7.16" fill="#444444"/>
<rect x="115.11" y="388.20" width="3.55" height="7.16" fill="#777777"/>
<rect x="118.62" y="388.20" width="3.55" height="7.16" fill="#808080"/>
<rect x="122.12" y="388.20" width="3.55" height="7.16" fill="#797979"/>
<rect x="125.63" y="388.20" width="3.55" height="7.16" fill="#666666"/>
<rect x="129.13" y="388.20" width="3.55" height="7.16" fill="#050006"/>
<rect x="132.63" y="388.20" width="3.55" height="7.16" fill="#450053"/>
<rect x="136.14" y="388.20" width="10.56" height="7.16" fill="#4e005e"/>
<rect x="146.65" y="388.20" width="3.55" height="7.16" fill="#390045"/>
<rect x="150.16" y="388.20" width="3.55" height="7.16" fill="#050006"/>
<rect x="153.66" y="388.20" width="3.55" height="7.16" fill="#555555"/>
<rect x="157.17" y="388.20" width="3.55" height="7.16" fill="#8a8a8a"/>
<rect x="160.67" y="388.20" width="7.06" height="7.16" fill="#444444"/>
<rect x="167.68" y="388.20" width="10.56" height="7.16" fill="#130016"/>
<rect x="178.19" y="388.20" width="3.55" height="7.16" fill="#656565"/>
<rect x="181.70" y="388.20" width="3.55" height="7.16" fill="#8a8a8a"/>
<rect x="185.20" y="388.20" width="10.56" height="7.16" fill="#480056"/>
<rect x="195.72" y="388.20" width="21.08" height="7.16" fill="#8a8a8a"/>
<rect x="216.74" y="388.20" width="10.56" height="7.16" fill="#41004e"/>
<rect x="227.26" y="388.20" width="3.55" height="7.16" fill="#4a0058"/>
<rect x="230.76" y="388.20" width="7.06" height="7.16" fill="#550066"/>
<rect x="237.77" y="388.20" width="38.60" height="7.16" fill="#8a8a8a"/>
<rect x="276.32" y="388.20" width="14.07" height="7.16" fill="#808080"/>
<rect x="290.34" y="388.20" width="3.55" height="7.16" fill="#878787"/>
<rect x="293.84" y="388.20" width="154.25" height="7.16" fill="#8a8a8a"/>
<rect x="69.55" y="381.09" width="31.59" height="7.16" fill="#8a8a8a"/>
<rect x="101.09" y="381.09" width="7.06" height="7.16" fill="#666666"/>
<rect x="108.10" y="381.09" width="7.06" height="7.16" fill="#777777"/>
<rect x="115.11" y="381.09" width="14.07" height="7.16" fill="#8a8a8a"/>
<rect x="129.13" y="381.09" width="3.55" height="7.16" fill="#444444"/>
<rect x="132.63" y="381.09" width="3.55" height="7.16" fill="#26002d"/>
<rect x="136.14" y="381.09" width="10.56" height="7.16" fill="#2d0036"/>
<rect x="146.65" y="381.09" width="3.55" height="7.16" fill="#050006"/>
<rect x="150.16" y="381.09" width="3.55" height="7.16" fill="#666666"/>
<rect x="153.66" y="381.09" width="7.06" height="7.16" fill="#8a8a8a"/>
<rect x="160.67" y="381.09" width="3.55" height="7.16" fill="#777777"/>
<rect x="164.18" y="381.09" width="7.06" height="7.16" fill="#555555"/>
<rect x="171.18" y="381.09" width="3.55" height="7.16" fill="#111111"/>
<rect x="174.69" y="381.09" width="3.55" height="7.16" fill="#656565"/>
<rect x="178.19" y="381.09" width="7.06" height="7.16" fill="#8a8a8a"/>
<rect x="185.20" y="381.09" width="3.55" height="7.16" fill="#140019"/>
<rect x="188.71" y="381.09" width="3.55" height="7.16" fill="#2d0036"/>
<rect x="192.21" y="381.09" width="3.55" height="7.16" fill="#140019"/>
<rect x="195.72" y="381.09" width="24.58" height="7.16" fill="#8a8a8a"/>
<rect x="220.25" y="381.09" width="17.57" height="7.16" fill="#27002e"/>
<rect x="237.77" y="381.09" width="38.60" height="7.16" fill="#8a8a8a"/>
<rect x="276.32" y="381.09" width="14.07" height="7.16" fill="#808080"/>
<rect x="290.34" y="381.09" width="3.55" height="7.16" fill="#878787"/>
<rect x="293.84" y="381.09" width="154.25" height="7.16" fill="#8a8a8a"/>
<rect x="69.55" y="373.98" width="31.59" height="7.16" fill="#8a8a8a"/>
<rect x="101.09" y="373.98" width="3.55" height="7.16" fill="#878787"/>
<rect x="104.60" y="373.98" width="7.06" height="7.16" fill="#808080"/>
<rect x="111.61" y="373.98" width="3.55" height="7.16" fill="#777777"/>
<rect x="115.11" y="373.98" width="17.57" height="7.16" fill="#8a8a8a"/>
<rect x="132.63" y="373.98" width="3.55" height="7.16" fill="#333333"/>
<rect x="136.14" y="373.98" width="7.06" height="7.16" fill="#130016"/>
<rect x="143.15" y="373.98" width="3.55" height="7.16" fill="#444444"/>
<rect x="146.65" y="373.98" width="3.55" height="7.16" fill="#696969"/>
<rect x="150.16" y="373.98" width="3.55" height="7.16" fill="#838383"/>
<rect x="153.66" y="373.98" width="7.06" height="7.16" fill="#8a8a8a"/>
<rect x="160.67" y="373.98" width="17.57" height="7.16" fill="#777777"/>
<rect x="178.19" y="373.98" width="7.06" height="7.16" fill="#8a8a8a"/>
<rect x="185.20" y="373.98" width="7.06" height="7.16" fill="#0c000e"/>
<rect x="192.21" y="373.98" width="3.55" height="7.16" fill="#727272"/>
<rect x="195.72" y="373.98" width="24.58" height="7.16" fill="#8a8a8a"/>
<rect x="220.25" y="373.98" width="14.07" height="7.16" fill="#130016"/>
<rect x="234.27" y="373.98" width="3.55" height="7.16" fill="#555555"/>
<rect x="237.77" y="373.98" width="38.60" height="7.16" fill="#8a8a8a"/>
<rect x="276.32" y="373.98" width="14.07" height="7.16" fill="#808080"/>
<rect x="290.34" y="373.98" width="3.55" height="7.16" fill="#878787"/>
<rect x="293.84" y="373.98" width="154.25" height="7.16" fill="#8a8a8a"/>
<rect x="69.55" y="366.88" width="31.59" height="7.16" fill="#8a8a8a"/>
<rect x="101.09" y="366.88" width="3.55" height="7.16" fill="#878787"/>
<rect x="104.60" y="366.88" width="7.06" height="7.16" fill="#808080"/>
<rect x="111.61" y="366.88" width="3.55" height="7.16" fill="#777777"/>
<rect x="115.11" y="366.88" width="17.57" height="7.16" fill="#8a8a8a"/>
<rect x="132.63" y="366.88" width="3.55" height="7.16" fill="#444444"/>
<rect x="136.14" y="366.88" width="7.06" height="7.16" fill="#262626"/>
<rect x="143.15" y="366.88" width="3.55" height="7.16" fill="#666666"/>
<rect x="146.65" y="366.88" width="3.55" height="7.16" fill="#7f7f7f"/>
<rect x="150.16" y="366.88" width="10.56" height="7.16" fill="#8a8a8a"/>
<rect x="160.67" y="366.88" width="17.57" height="7.16" fill="#777777"/>
<rect x="178.19" y="366.88" width="7.06" height="7.16" fill="#8a8a8a"/>
<rect x="185.20" y="366.88" width="3.55" height="7.16" fill="#757575"/>
<rect x="188.71" y="366.88" width="3.55" height="7.16" fill="#050006"/>
<rect x="192.21" y="366.88" width="28.09" height="7.16" fill="#8a8a8a"/>
<rect x="220.25" y="366.88" width="3.55" height="7.16" fill="#636363"/>
<rect x="223.75" y="366.88" width="10.56" height="7.16" fill="#333333"/>
<rect x="234.27" y="366.88" width="42.10" height="7.16" fill="#8a8a8a"/>
<rect x="276.32" y="366.88" width="14.07" height="7.16" fill="#808080"/>
<rect x="290.34" y="366.88" width="3.55" height="7.16" fill="#878787"/>
<rect x="293.84" y="366.88" width="154.25" height="7.16" fill="#8a8a8a"/>
<rect x="69.55" y="359.77" width="31.59" height="7.16" fill="#8a8a8a"/>
<rect x="101.09" y="359.77" width="3.55" height="7.16" fill="#878787"/>
<rect x="104.60" y="359.77" width="7.06" height="7.16" fill="#808080"/>
<rect x="111.61" y="359.77" width="3.55" height="7.16" fill="#777777"/>
<rect x="115.11" y="359.77" width="17.57" height="7.16" fill="#8a8a8a"/>
<rect x="132.63" y="359.77" width="3.55" height="7.16" fill="#666666"/>
<rect x="136.14" y="359.77" width="7.06" height="7.16" fill="#707070"/>
<rect x="143.15" y="359.77" width="17.57" height="7.16" fill="#8a8a8a"/>
<rect x="160.67" y="359.77" width="17.57" height="7.16" fill="#777777"/>
<rect x="178.19" y="359.77" width="45.61" height="7.16" fill="#8a8a8a"/>
<rect x="223.75" y="359.77" width="10.56" height="7.16" fill="#666666"/>
<rect x="234.27" y="359.77" width="213.82" height="7.16" fill="#8a8a8a"/>
<rect x="69.55" y="352.66" width="66.64" height="7.16" fill="#8a8a8a"/>
<rect x="136.14" y="352.66" width="7.06" height="7.16" fill="#666666"/>
<rect x="143.15" y="352.66" width="3.55" height="7.16" fill="#767676"/>
<rect x="146.65" y="352.66" width="77.15" height="7.16" fill="#8a8a8a"/>
<rect x="223.75" y="352.66" width="10.56" height="7.16" fill="#777777"/>
<rect x="234.27" y="352.66" width="213.82" height="7.16" fill="#8a8a8a"/>
<rect x="69.55" y="345.55" width="59.63" height="7.16" fill="#8a8a8a"/>
<rect x="129.13" y="345.55" width="17.57" height="7.16" fill="#777777"/>
<rect x="146.65" y="345.55" width="301.44" height="7.16" fill="#8a8a8a"/>
<rect x="69.55" y="338.44" width="66.64" height="7.16" fill="#8a8a8a"/>
<rect x="136.14" y="338.44" width="7.06" height="7.16" fill="#7a7a7a"/>
<rect x="143.15" y="338.44" width="3.55" height="7.16" fill="#7f7f7f"/>
<rect x="146.65" y="338.44" width="301.44" height="7.16" fill="#8a8a8a"/>
<rect x="69.55" y="331.34" width="378.54" height="7.16" fill="#8a8a8a"/>
<rect x="69.55" y="324.23" width="378.54" height="7.16" fill="#8a8a8a"/>
<rect x="69.55" y="317.12" width="378.54" height="7.16" fill="#8a8a8a"/>
<rect x="69.55" y="310.01" width="378.54" height="7.16" fill="#8a8a8a"/>
<rect x="69.55" y="302.90" width="378.54" height="7.16" fill="#8a8a8a"/>
<rect x="69.55" y="295.80" width="378.54" height="7.16" fill="#8a8a8a"/>
<rect x="69.55" y="288.69" width="378.54" height="7.16" fill="#8a8a8a"/>
<rect x="69.55" y="281.58" width="378.54" height="7.16" fill="#8a8a8a"/>
<rect x="69.55" y="274.47" width="378.54" height="7.16" fill="#8a8a8a"/>
<rect x="69.55" y="267.36" width="378.54" height="7.16" fill="#8a8a8a"/>
<rect x="69.55" y="260.26" width="378.54" height="7.16" fill="#8a8a8a"/>
<rect x="69.55" y="253.15" width="378.54" height="7.16" fill="#8a8a8a"/>
<rect x="69.55" y="246.04" width="378.54" height="7.16" fill="#8a8a8a"/>
<rect x="69.55" y="238.93" width="378.54" height="7.16" fill="#8a8a8a"/>
<rect x="69.55" y="231.82" width="378.54" height="7.16" fill="#8a8a8a"/>
<rect x="69.55" y="224.72" width="378.54" height="7.16" fill="#8a8a8a"/>
<rect x="69.55" y="217.61" width="378.54" height="7.16" fill="#8a8a8a"/>
<rect x="69.55" y="210.50" width="378.54" height="7.16" fill="#8a8a8a"/>
<rect x="69.55" y="203.39" width="378.54" height="7.16" fill="#8a8a8a"/>
<rect x="69.55" y="196.28" width="378.54" height="7.16" fill="#8a8a8a"/>
<rect x="69.55" y="189.18" width="378.54" height="7.16" fill="#8a8a8a"/>
<rect x="69.55" y="182.07" width="378.54" height="7.16" fill="#8a8a8a"/>
<rect x="69.55" y="174.96" width="378.54" height="7.16" fill="#8a8a8a"/>
<rect x="69.55" y="167.85" width="378.54" height="7.16" fill="#8a8a8a"/>
<polyline points="73.7,446 74.6,470 76.6,488 78.4,500 79.4,508" fill="none" stroke="#000" stroke-width="2.4"/>
</g>
</g>
<g clip-path="url(#sil2)">
<defs><pattern id="dots" width="2" height="2" patternUnits="userSpaceOnUse"><rect x="0" y="0" width="2" height="1" fill="#fff"/></pattern><pattern id="dots3" width="2" height="4" patternUnits="userSpaceOnUse"><rect x="0" y="0" width="2" height="1" fill="#fff"/></pattern><pattern id="dots2" width="2" height="2" patternUnits="userSpaceOnUse"><rect x="0" y="1" width="2" height="1" fill="#fff"/></pattern></defs>
<g fill="none" stroke="url(#dots)" stroke-width="2" shape-rendering="crispEdges">
<polyline points="81.0,210.0 78.6,236.0 77.0,266.0 75.0,294.0 74.3,330.0 74.0,400.0 74.5,438.0 76.3,470.0 78.2,490.0 79.5,508.0"/>
<polyline points="142.0,182.0 146.0,300.0 149.2,358.0 150.0,398.0 152.0,438.0 152.5,500.0"/>
<polyline points="153.5,398.0 153.8,438.0 153.6,500.0"/>
<polyline points="158.0,218.0 155.0,300.0 154.0,358.0 153.0,420.0 152.8,470.0"/>
<polyline points="86.1,342.0 84.0,438.0 83.5,486.0"/>
<polyline points="97.8,337.7 95.7,438.0 94.5,474.0"/>
<polyline points="109.2,335.0 106.8,438.0 105.8,529.0"/>
<polyline points="120.6,333.0 119.7,358.0 119.7,384.5"/>
<polyline points="133.4,329.6 133.0,358.0 131.5,400.0 129.5,438.0 129.0,496.0"/>
<polyline points="172.2,326.0 171.4,358.0 170.8,462.0"/>
<polyline points="181.7,331.0 181.0,358.0 180.5,425.0"/>
<polyline points="190.0,327.0 189.0,358.0 188.6,438.0 188.6,481.0"/>
<polyline points="199.0,325.0 198.0,358.0 197.5,400.0"/>
<polyline points="207.7,322.8 206.5,358.0 206.0,438.0 205.8,477.0"/>
<polyline points="210.0,210.0 212.0,300.0 213.0,358.0 212.6,438.0 212.5,510.0"/>
<polyline points="216.0,232.0 214.5,290.0 215.0,358.0 216.0,425.0"/>
<polyline points="225.0,320.0 225.5,358.0 225.5,411.0"/>
<polyline points="236.0,206.0 238.0,300.0 240.0,358.0 241.5,438.0 241.5,504.0"/>
<polyline points="248.0,319.0 247.0,358.0 246.5,445.0"/>
<polyline points="259.6,319.0 258.8,358.0 257.0,438.0 257.0,464.5"/>
<polyline points="271.0,319.0 270.5,358.0 268.6,438.0 268.6,490.0"/>
<polyline points="282.6,319.0 282.0,358.0 281.0,423.0"/>
<polyline points="295.0,319.0 294.5,358.0 293.3,418.0"/>
<polyline points="307.4,319.0 307.0,358.0 305.5,432.0"/>
<polyline points="319.6,319.0 317.0,358.0 316.5,423.0"/>
<polyline points="347.5,232.0 344.0,300.0 342.0,392.0"/>
<polyline points="407.0,240.0 405.5,280.0 404.0,340.0 402.5,400.0 402.0,438.0 401.0,480.0 400.5,512.0"/>
<polyline points="440.0,232.0 439.0,300.0 437.0,358.0 436.5,400.0 435.0,440.0 434.5,520.0 434.0,561.0"/>
</g>
<g fill="none" stroke="url(#dots2)" stroke-width="2" shape-rendering="crispEdges">
<polyline points="163.0,218.0 165.0,300.0 165.8,372.0"/>
<polyline points="76.5,346.0 78.5,438.0 80.0,500.0"/>
<polyline points="88.1,342.0 89.5,438.0 90.0,460.0"/>
<polyline points="99.8,337.7 101.8,438.0 103.0,529.0"/>
<polyline points="111.2,335.0 113.0,438.0 114.2,524.0"/>
<polyline points="122.6,333.0 122.8,358.0 123.5,414.6"/>
<polyline points="135.4,329.6 135.8,358.0 136.8,400.0 138.8,438.0 140.3,500.0 140.8,521.0"/>
<polyline points="174.2,326.0 174.5,358.0 175.0,416.0"/>
<polyline points="183.7,331.0 183.7,358.0 184.5,410.0"/>
<polyline points="192.0,327.0 192.0,358.0 192.0,438.0 193.5,446.6"/>
<polyline points="201.0,325.0 200.5,358.0 201.5,438.0 202.0,461.0"/>
<polyline points="209.7,322.8 209.5,358.0 210.5,438.0 211.0,510.0"/>
<polyline points="214.0,210.0 215.4,300.0 217.0,358.0 214.5,438.0 213.8,500.0"/>
<polyline points="220.0,321.0 220.0,358.0 218.0,425.0"/>
<polyline points="231.0,207.0 231.0,300.0 229.0,358.0 229.0,408.5"/>
<polyline points="240.0,206.0 242.0,300.0 242.8,358.0 243.0,430.0"/>
<polyline points="250.0,319.0 250.8,358.0 252.6,438.0 252.6,501.0"/>
<polyline points="261.6,319.0 263.0,358.0 265.0,438.0 265.0,493.0"/>
<polyline points="273.0,319.0 274.0,358.0 276.0,438.0 276.0,480.0"/>
<polyline points="284.6,319.0 286.0,358.0 286.0,419.5"/>
<polyline points="297.0,319.0 298.0,358.0 298.0,406.0"/>
<polyline points="309.4,319.0 310.5,358.0 311.7,423.0"/>
<polyline points="336.0,319.0 335.3,324.0 336.3,358.0 337.5,445.0"/>
<polyline points="383.2,214.5 384.2,280.0 384.2,319.0"/>
<polyline points="394.0,324.0 395.2,358.0 395.8,405.0"/>
<polyline points="423.0,203.5 424.0,280.0 425.8,340.0 426.3,400.0"/>
<polyline points="430.3,402.0 431.0,438.0 431.5,500.0 432.0,561.0"/>
</g>
<g fill="none" stroke="url(#dots3)" stroke-width="2" shape-rendering="crispEdges">
<polyline points="152.3,500.0 152.2,553.0"/>
</g>
<g fill="#fff" shape-rendering="crispEdges">
<rect x="73.7" y="344.5" width="3.6" height="2"/>
<rect x="85.3" y="340.5" width="3.6" height="2"/>
<rect x="97.0" y="336.2" width="3.6" height="2"/>
<rect x="108.4" y="333.5" width="3.6" height="2"/>
<rect x="119.8" y="331.5" width="3.6" height="2"/>
<rect x="132.6" y="328.1" width="3.6" height="2"/>
<rect x="171.4" y="324.5" width="3.6" height="2"/>
<rect x="180.9" y="329.5" width="3.6" height="2"/>
<rect x="189.2" y="325.5" width="3.6" height="2"/>
<rect x="198.2" y="323.5" width="3.6" height="2"/>
<rect x="206.9" y="321.3" width="3.6" height="2"/>
<rect x="217.2" y="319.5" width="3.6" height="2"/>
<rect x="224.2" y="318.5" width="3.6" height="2"/>
<rect x="247.2" y="317.5" width="3.6" height="2"/>
<rect x="258.8" y="317.5" width="3.6" height="2"/>
<rect x="270.2" y="317.5" width="3.6" height="2"/>
<rect x="281.8" y="317.5" width="3.6" height="2"/>
<rect x="294.2" y="317.5" width="3.6" height="2"/>
<rect x="306.6" y="317.5" width="3.6" height="2"/>
<rect x="318.8" y="317.5" width="3.6" height="2"/>
</g>
<g fill="none" stroke="#fff" stroke-width="1.7" stroke-linecap="round" stroke-linejoin="round">
<polyline points="86.0,208.4 95.0,207.0 97.0,189.0 113.0,185.0 115.0,182.4"/>
<polyline points="141.0,510.5 145.3,511.5"/>
<polyline points="230.0,204.0 220.0,207.0 216.0,232.0"/>
<polyline points="321.0,319.6 336.0,318.6"/>
<polyline points="349.2,211.5 347.5,232.0"/>
<polyline points="381.0,212.5 383.2,214.5"/>
<polyline points="384.2,320.6 391.6,322.2 394.0,323.4"/>
<polyline points="408.5,196.3 407.0,240.0"/>
<polyline points="408.5,196.3 419.0,202.0 423.0,203.3"/>
<polyline points="426.3,400.5 430.3,401.5"/>
</g>
<polyline points="146.0,512.0 147.2,558.0" fill="none" stroke="#fff" stroke-opacity="0.85" stroke-width="2.6"/>
<line x1="370.4" y1="212" x2="370.4" y2="566" stroke="#fff" stroke-width="1"/>
<line x1="441.9" y1="338" x2="442.3" y2="500" stroke="#000" stroke-width="1" stroke-dasharray="1 0.85"/>
</g>
<g shape-rendering="crispEdges">
<rect x="105.50" y="78.50" width="1.30" height="40.00" fill="#8c8c8c"/>
<rect x="106.50" y="78.50" width="1.30" height="40.00" fill="#8c8c8c"/>
<rect x="107.50" y="78.50" width="1.30" height="40.00" fill="#8c8c8c"/>
<rect x="108.50" y="78.50" width="1.30" height="40.00" fill="#8c8c8c"/>
<rect x="109.50" y="78.50" width="1.30" height="40.00" fill="#8c8c8c"/>
<rect x="110.50" y="78.50" width="1.30" height="40.00" fill="#8c8c8c"/>
<rect x="111.50" y="78.50" width="1.30" height="40.00" fill="#8c8c8c"/>
<rect x="112.50" y="78.50" width="1.30" height="40.00" fill="#787878"/>
<rect x="113.50" y="78.50" width="1.30" height="40.00" fill="#787878"/>
<rect x="114.50" y="78.50" width="1.30" height="40.00" fill="#787878"/>
<rect x="115.50" y="78.50" width="1.30" height="40.00" fill="#787878"/>
<rect x="116.50" y="78.50" width="1.30" height="40.00" fill="#787878"/>
<rect x="117.50" y="78.50" width="1.30" height="40.00" fill="#787878"/>
<rect x="118.50" y="78.50" width="1.30" height="40.00" fill="#606060"/>
<rect x="119.50" y="78.50" width="1.30" height="40.00" fill="#606060"/>
<rect x="120.50" y="78.50" width="1.30" height="40.00" fill="#606060"/>
<rect x="121.50" y="78.50" width="1.30" height="40.00" fill="#444444"/>
<rect x="122.50" y="78.50" width="1.30" height="40.00" fill="#444444"/>
<rect x="123.50" y="78.50" width="1.30" height="40.00" fill="#444444"/>
<rect x="124.50" y="78.50" width="1.30" height="40.00" fill="#222222"/>
<rect x="125.50" y="78.50" width="1.30" height="40.00" fill="#000001"/>
<rect x="126.50" y="78.50" width="1.30" height="40.00" fill="#030003"/>
<rect x="127.50" y="78.50" width="1.30" height="40.00" fill="#050006"/>
<rect x="128.50" y="78.50" width="1.30" height="40.00" fill="#070009"/>
<rect x="129.50" y="78.50" width="1.30" height="40.00" fill="#0a000c"/>
<rect x="130.50" y="78.50" width="1.30" height="40.00" fill="#0c000f"/>
<rect x="131.50" y="78.50" width="1.30" height="40.00" fill="#0f0011"/>
<rect x="132.50" y="78.50" width="1.30" height="40.00" fill="#110014"/>
<rect x="133.50" y="78.50" width="1.30" height="40.00" fill="#130017"/>
<rect x="134.50" y="78.50" width="1.30" height="40.00" fill="#16001a"/>
<rect x="135.50" y="78.50" width="1.30" height="40.00" fill="#18001d"/>
<rect x="136.50" y="78.50" width="1.30" height="40.00" fill="#1a0020"/>
<rect x="137.50" y="78.50" width="1.30" height="40.00" fill="#1d0022"/>
<rect x="138.50" y="78.50" width="1.30" height="40.00" fill="#1f0025"/>
<rect x="139.50" y="78.50" width="1.30" height="40.00" fill="#210028"/>
<rect x="140.50" y="78.50" width="1.30" height="40.00" fill="#24002b"/>
<rect x="141.50" y="78.50" width="1.30" height="40.00" fill="#26002e"/>
<rect x="142.50" y="78.50" width="1.30" height="40.00" fill="#280030"/>
<rect x="143.50" y="78.50" width="1.30" height="40.00" fill="#2b0033"/>
<rect x="144.50" y="78.50" width="1.30" height="40.00" fill="#2d0036"/>
<rect x="145.50" y="78.50" width="1.30" height="40.00" fill="#2f0039"/>
<rect x="146.50" y="78.50" width="1.30" height="40.00" fill="#32003c"/>
<rect x="147.50" y="78.50" width="1.30" height="40.00" fill="#34003f"/>
<rect x="148.50" y="78.50" width="1.30" height="40.00" fill="#370041"/>
<rect x="149.50" y="78.50" width="1.30" height="40.00" fill="#390044"/>
<rect x="150.50" y="78.50" width="1.30" height="40.00" fill="#3b0047"/>
<rect x="151.50" y="78.50" width="1.30" height="40.00" fill="#3e004a"/>
<rect x="152.50" y="78.50" width="1.30" height="40.00" fill="#40004d"/>
<rect x="153.50" y="78.50" width="1.30" height="40.00" fill="#420050"/>
<rect x="154.50" y="78.50" width="1.30" height="40.00" fill="#450052"/>
<rect x="155.50" y="78.50" width="1.30" height="40.00" fill="#470055"/>
<rect x="156.50" y="78.50" width="1.30" height="40.00" fill="#490058"/>
<rect x="157.50" y="78.50" width="1.30" height="40.00" fill="#4c005b"/>
<rect x="158.50" y="78.50" width="1.30" height="40.00" fill="#4e005e"/>
<rect x="159.50" y="78.50" width="1.30" height="40.00" fill="#500060"/>
<rect x="160.50" y="78.50" width="1.30" height="40.00" fill="#530063"/>
<rect x="161.50" y="78.50" width="1.30" height="40.00" fill="#550066"/>
<rect x="162.50" y="78.50" width="1.30" height="40.00" fill="#550069"/>
<rect x="163.50" y="78.50" width="1.30" height="40.00" fill="#55006c"/>
<rect x="164.50" y="78.50" width="1.30" height="40.00" fill="#54006e"/>
<rect x="165.50" y="78.50" width="1.30" height="40.00" fill="#540071"/>
<rect x="166.50" y="78.50" width="1.30" height="40.00" fill="#540074"/>
<rect x="167.50" y="78.50" width="1.30" height="40.00" fill="#540077"/>
<rect x="168.50" y="78.50" width="1.30" height="40.00" fill="#540079"/>
<rect x="169.50" y="78.50" width="1.30" height="40.00" fill="#54007c"/>
<rect x="170.50" y="78.50" width="1.30" height="40.00" fill="#53007f"/>
<rect x="171.50" y="78.50" width="1.30" height="40.00" fill="#530082"/>
<rect x="172.50" y="78.50" width="1.30" height="40.00" fill="#530085"/>
<rect x="173.50" y="78.50" width="1.30" height="40.00" fill="#530087"/>
<rect x="174.50" y="78.50" width="1.30" height="40.00" fill="#53008a"/>
<rect x="175.50" y="78.50" width="1.30" height="40.00" fill="#53008d"/>
<rect x="176.50" y="78.50" width="1.30" height="40.00" fill="#520090"/>
<rect x="177.50" y="78.50" width="1.30" height="40.00" fill="#520092"/>
<rect x="178.50" y="78.50" width="1.30" height="40.00" fill="#520095"/>
<rect x="179.50" y="78.50" width="1.30" height="40.00" fill="#520098"/>
<rect x="180.50" y="78.50" width="1.30" height="40.00" fill="#52009b"/>
<rect x="181.50" y="78.50" width="1.30" height="40.00" fill="#51009d"/>
<rect x="182.50" y="78.50" width="1.30" height="40.00" fill="#5100a0"/>
<rect x="183.50" y="78.50" width="1.30" height="40.00" fill="#5100a3"/>
<rect x="184.50" y="78.50" width="1.30" height="40.00" fill="#5100a6"/>
<rect x="185.50" y="78.50" width="1.30" height="40.00" fill="#5100a8"/>
<rect x="186.50" y="78.50" width="1.30" height="40.00" fill="#5100ab"/>
<rect x="187.50" y="78.50" width="1.30" height="40.00" fill="#5000ae"/>
<rect x="188.50" y="78.50" width="1.30" height="40.00" fill="#5000b1"/>
<rect x="189.50" y="78.50" width="1.30" height="40.00" fill="#5000b4"/>
<rect x="190.50" y="78.50" width="1.30" height="40.00" fill="#4e00b6"/>
<rect x="191.50" y="78.50" width="1.30" height="40.00" fill="#4b00b9"/>
<rect x="192.50" y="78.50" width="1.30" height="40.00" fill="#4800bc"/>
<rect x="193.50" y="78.50" width="1.30" height="40.00" fill="#4500be"/>
<rect x="194.50" y="78.50" width="1.30" height="40.00" fill="#4200c1"/>
<rect x="195.50" y="78.50" width="1.30" height="40.00" fill="#3f00c3"/>
<rect x="196.50" y="78.50" width="1.30" height="40.00" fill="#3d00c6"/>
<rect x="197.50" y="78.50" width="1.30" height="40.00" fill="#3a00c9"/>
<rect x="198.50" y="78.50" width="1.30" height="40.00" fill="#3700cb"/>
<rect x="199.50" y="78.50" width="1.30" height="40.00" fill="#3400ce"/>
<rect x="200.50" y="78.50" width="1.30" height="40.00" fill="#3100d1"/>
<rect x="201.50" y="78.50" width="1.30" height="40.00" fill="#2e00d3"/>
<rect x="202.50" y="78.50" width="1.30" height="40.00" fill="#2c00d6"/>
<rect x="203.50" y="78.50" width="1.30" height="40.00" fill="#2900d9"/>
<rect x="204.50" y="78.50" width="1.30" height="40.00" fill="#2600db"/>
<rect x="205.50" y="78.50" width="1.30" height="40.00" fill="#2300de"/>
<rect x="206.50" y="78.50" width="1.30" height="40.00" fill="#2000e1"/>
<rect x="207.50" y="78.50" width="1.30" height="40.00" fill="#1d00e3"/>
<rect x="208.50" y="78.50" width="1.30" height="40.00" fill="#1b00e6"/>
<rect x="209.50" y="78.50" width="1.30" height="40.00" fill="#1800e9"/>
<rect x="210.50" y="78.50" width="1.30" height="40.00" fill="#1500eb"/>
<rect x="211.50" y="78.50" width="1.30" height="40.00" fill="#1200ee"/>
<rect x="212.50" y="78.50" width="1.30" height="40.00" fill="#0f00f1"/>
<rect x="213.50" y="78.50" width="1.30" height="40.00" fill="#0c00f3"/>
<rect x="214.50" y="78.50" width="1.30" height="40.00" fill="#0a00f6"/>
<rect x="215.50" y="78.50" width="1.30" height="40.00" fill="#0700f9"/>
<rect x="216.50" y="78.50" width="1.30" height="40.00" fill="#0400fb"/>
<rect x="217.50" y="78.50" width="1.30" height="40.00" fill="#0100fe"/>
<rect x="218.50" y="78.50" width="1.30" height="40.00" fill="#0003ff"/>
<rect x="219.50" y="78.50" width="1.30" height="40.00" fill="#0007ff"/>
<rect x="220.50" y="78.50" width="1.30" height="40.00" fill="#000cff"/>
<rect x="221.50" y="78.50" width="1.30" height="40.00" fill="#0010ff"/>
<rect x="222.50" y="78.50" width="1.30" height="40.00" fill="#0015ff"/>
<rect x="223.50" y="78.50" width="1.30" height="40.00" fill="#0019ff"/>
<rect x="224.50" y="78.50" width="1.30" height="40.00" fill="#001eff"/>
<rect x="225.50" y="78.50" width="1.30" height="40.00" fill="#0022ff"/>
<rect x="226.50" y="78.50" width="1.30" height="40.00" fill="#0027ff"/>
<rect x="227.50" y="78.50" width="1.30" height="40.00" fill="#002cff"/>
<rect x="228.50" y="78.50" width="1.30" height="40.00" fill="#0030ff"/>
<rect x="229.50" y="78.50" width="1.30" height="40.00" fill="#0035ff"/>
<rect x="230.50" y="78.50" width="1.30" height="40.00" fill="#0039ff"/>
<rect x="231.50" y="78.50" width="1.30" height="40.00" fill="#003eff"/>
<rect x="232.50" y="78.50" width="1.30" height="40.00" fill="#0042ff"/>
<rect x="233.50" y="78.50" width="1.30" height="40.00" fill="#0047ff"/>
<rect x="234.50" y="78.50" width="1.30" height="40.00" fill="#004bff"/>
<rect x="235.50" y="78.50" width="1.30" height="40.00" fill="#0050ff"/>
<rect x="236.50" y="78.50" width="1.30" height="40.00" fill="#0054ff"/>
<rect x="237.50" y="78.50" width="1.30" height="40.00" fill="#0059ff"/>
<rect x="238.50" y="78.50" width="1.30" height="40.00" fill="#005dff"/>
<rect x="239.50" y="78.50" width="1.30" height="40.00" fill="#0062ff"/>
<rect x="240.50" y="78.50" width="1.30" height="40.00" fill="#0066ff"/>
<rect x="241.50" y="78.50" width="1.30" height="40.00" fill="#006bff"/>
<rect x="242.50" y="78.50" width="1.30" height="40.00" fill="#0070ff"/>
<rect x="243.50" y="78.50" width="1.30" height="40.00" fill="#0074ff"/>
<rect x="244.50" y="78.50" width="1.30" height="40.00" fill="#0079ff"/>
<rect x="245.50" y="78.50" width="1.30" height="40.00" fill="#007dff"/>
<rect x="246.50" y="78.50" width="1.30" height="40.00" fill="#0082ff"/>
<rect x="247.50" y="78.50" width="1.30" height="40.00" fill="#0086ff"/>
<rect x="248.50" y="78.50" width="1.30" height="40.00" fill="#008bff"/>
<rect x="249.50" y="78.50" width="1.30" height="40.00" fill="#008fff"/>
<rect x="250.50" y="78.50" width="1.30" height="40.00" fill="#0094ff"/>
<rect x="251.50" y="78.50" width="1.30" height="40.00" fill="#0098ff"/>
<rect x="252.50" y="78.50" width="1.30" height="40.00" fill="#009dff"/>
<rect x="253.50" y="78.50" width="1.30" height="40.00" fill="#00a1ff"/>
<rect x="254.50" y="78.50" width="1.30" height="40.00" fill="#00a6ff"/>
<rect x="255.50" y="78.50" width="1.30" height="40.00" fill="#00aaff"/>
<rect x="256.50" y="78.50" width="1.30" height="40.00" fill="#00afff"/>
<rect x="257.50" y="78.50" width="1.30" height="40.00" fill="#00b3ff"/>
<rect x="258.50" y="78.50" width="1.30" height="40.00" fill="#00b8ff"/>
<rect x="259.50" y="78.50" width="1.30" height="40.00" fill="#00bcff"/>
<rect x="260.50" y="78.50" width="1.30" height="40.00" fill="#00c1ff"/>
<rect x="261.50" y="78.50" width="1.30" height="40.00" fill="#00c5ff"/>
<rect x="262.50" y="78.50" width="1.30" height="40.00" fill="#00caff"/>
<rect x="263.50" y="78.50" width="1.30" height="40.00" fill="#00ceff"/>
<rect x="264.50" y="78.50" width="1.30" height="40.00" fill="#00d3ff"/>
<rect x="265.50" y="78.50" width="1.30" height="40.00" fill="#00d7ff"/>
<rect x="266.50" y="78.50" width="1.30" height="40.00" fill="#00dcff"/>
<rect x="267.50" y="78.50" width="1.30" height="40.00" fill="#00e0ff"/>
<rect x="268.50" y="78.50" width="1.30" height="40.00" fill="#00e5ff"/>
<rect x="269.50" y="78.50" width="1.30" height="40.00" fill="#00e9ff"/>
<rect x="270.50" y="78.50" width="1.30" height="40.00" fill="#00eeff"/>
<rect x="271.50" y="78.50" width="1.30" height="40.00" fill="#00f2ff"/>
<rect x="272.50" y="78.50" width="1.30" height="40.00" fill="#00f7ff"/>
<rect x="273.50" y="78.50" width="1.30" height="40.00" fill="#00fbff"/>
<rect x="274.50" y="78.50" width="1.30" height="40.00" fill="#00fffe"/>
<rect x="275.50" y="78.50" width="1.30" height="40.00" fill="#00fffa"/>
<rect x="276.50" y="78.50" width="1.30" height="40.00" fill="#00fff7"/>
<rect x="277.50" y="78.50" width="1.30" height="40.00" fill="#00fff3"/>
<rect x="278.50" y="78.50" width="1.30" height="40.00" fill="#00ffef"/>
<rect x="279.50" y="78.50" width="1.30" height="40.00" fill="#00ffeb"/>
<rect x="280.50" y="78.50" width="1.30" height="40.00" fill="#00ffe7"/>
<rect x="281.50" y="78.50" width="1.30" height="40.00" fill="#00ffe3"/>
<rect x="282.50" y="78.50" width="1.30" height="40.00" fill="#00ffdf"/>
<rect x="283.50" y="78.50" width="1.30" height="40.00" fill="#00ffdb"/>
<rect x="284.50" y="78.50" width="1.30" height="40.00" fill="#00ffd7"/>
<rect x="285.50" y="78.50" width="1.30" height="40.00" fill="#00ffd3"/>
<rect x="286.50" y="78.50" width="1.30" height="40.00" fill="#00ffcf"/>
<rect x="287.50" y="78.50" width="1.30" height="40.00" fill="#00ffcb"/>
<rect x="288.50" y="78.50" width="1.30" height="40.00" fill="#00ffc7"/>
<rect x="289.50" y="78.50" width="1.30" height="40.00" fill="#00ffc3"/>
<rect x="290.50" y="78.50" width="1.30" height="40.00" fill="#00ffbf"/>
<rect x="291.50" y="78.50" width="1.30" height="40.00" fill="#00ffbc"/>
<rect x="292.50" y="78.50" width="1.30" height="40.00" fill="#00ffb8"/>
<rect x="293.50" y="78.50" width="1.30" height="40.00" fill="#00ffb4"/>
<rect x="294.50" y="78.50" width="1.30" height="40.00" fill="#00ffb0"/>
<rect x="295.50" y="78.50" width="1.30" height="40.00" fill="#00ffac"/>
<rect x="296.50" y="78.50" width="1.30" height="40.00" fill="#00ffa8"/>
<rect x="297.50" y="78.50" width="1.30" height="40.00" fill="#00ffa4"/>
<rect x="298.50" y="78.50" width="1.30" height="40.00" fill="#00ffa0"/>
<rect x="299.50" y="78.50" width="1.30" height="40.00" fill="#00ff9c"/>
<rect x="300.50" y="78.50" width="1.30" height="40.00" fill="#00ff98"/>
<rect x="301.50" y="78.50" width="1.30" height="40.00" fill="#00ff94"/>
<rect x="302.50" y="78.50" width="1.30" height="40.00" fill="#00ff90"/>
<rect x="303.50" y="78.50" width="1.30" height="40.00" fill="#00ff8d"/>
<rect x="304.50" y="78.50" width="1.30" height="40.00" fill="#00ff8b"/>
<rect x="305.50" y="78.50" width="1.30" height="40.00" fill="#00ff88"/>
<rect x="306.50" y="78.50" width="1.30" height="40.00" fill="#00ff85"/>
<rect x="307.50" y="78.50" width="1.30" height="40.00" fill="#00ff82"/>
<rect x="308.50" y="78.50" width="1.30" height="40.00" fill="#00ff7f"/>
<rect x="309.50" y="78.50" width="1.30" height="40.00" fill="#00ff7c"/>
<rect x="310.50" y="78.50" width="1.30" height="40.00" fill="#00ff7a"/>
<rect x="311.50" y="78.50" width="1.30" height="40.00" fill="#00ff77"/>
<rect x="312.50" y="78.50" width="1.30" height="40.00" fill="#00ff74"/>
<rect x="313.50" y="78.50" width="1.30" height="40.00" fill="#00ff71"/>
<rect x="314.50" y="78.50" width="1.30" height="40.00" fill="#00ff6e"/>
<rect x="315.50" y="78.50" width="1.30" height="40.00" fill="#00ff6b"/>
<rect x="316.50" y="78.50" width="1.30" height="40.00" fill="#00ff69"/>
<rect x="317.50" y="78.50" width="1.30" height="40.00" fill="#00ff66"/>
<rect x="318.50" y="78.50" width="1.30" height="40.00" fill="#00ff63"/>
<rect x="319.50" y="78.50" width="1.30" height="40.00" fill="#00ff60"/>
<rect x="320.50" y="78.50" width="1.30" height="40.00" fill="#00ff5d"/>
<rect x="321.50" y="78.50" width="1.30" height="40.00" fill="#00ff5a"/>
<rect x="322.50" y="78.50" width="1.30" height="40.00" fill="#00ff58"/>
<rect x="323.50" y="78.50" width="1.30" height="40.00" fill="#00ff55"/>
<rect x="324.50" y="78.50" width="1.30" height="40.00" fill="#00ff52"/>
<rect x="325.50" y="78.50" width="1.30" height="40.00" fill="#00ff4f"/>
<rect x="326.50" y="78.50" width="1.30" height="40.00" fill="#00ff4c"/>
<rect x="327.50" y="78.50" width="1.30" height="40.00" fill="#00ff49"/>
<rect x="328.50" y="78.50" width="1.30" height="40.00" fill="#00ff47"/>
<rect x="329.50" y="78.50" width="1.30" height="40.00" fill="#00ff44"/>
<rect x="330.50" y="78.50" width="1.30" height="40.00" fill="#00ff41"/>
<rect x="331.50" y="78.50" width="1.30" height="40.00" fill="#00ff3e"/>
<rect x="332.50" y="78.50" width="1.30" height="40.00" fill="#00ff3c"/>
<rect x="333.50" y="78.50" width="1.30" height="40.00" fill="#00ff3a"/>
<rect x="334.50" y="78.50" width="1.30" height="40.00" fill="#00ff38"/>
<rect x="335.50" y="78.50" width="1.30" height="40.00" fill="#00ff35"/>
<rect x="336.50" y="78.50" width="1.30" height="40.00" fill="#00ff33"/>
<rect x="337.50" y="78.50" width="1.30" height="40.00" fill="#00ff31"/>
<rect x="338.50" y="78.50" width="1.30" height="40.00" fill="#00ff2f"/>
<rect x="339.50" y="78.50" width="1.30" height="40.00" fill="#00ff2c"/>
<rect x="340.50" y="78.50" width="1.30" height="40.00" fill="#00ff2a"/>
<rect x="341.50" y="78.50" width="1.30" height="40.00" fill="#00ff28"/>
<rect x="342.50" y="78.50" width="1.30" height="40.00" fill="#00ff25"/>
<rect x="343.50" y="78.50" width="1.30" height="40.00" fill="#00ff23"/>
<rect x="344.50" y="78.50" width="1.30" height="40.00" fill="#00ff21"/>
<rect x="345.50" y="78.50" width="1.30" height="40.00" fill="#00ff1f"/>
<rect x="346.50" y="78.50" width="1.30" height="40.00" fill="#00ff1c"/>
<rect x="347.50" y="78.50" width="1.30" height="40.00" fill="#00ff1a"/>
<rect x="348.50" y="78.50" width="1.30" height="40.00" fill="#00ff18"/>
<rect x="349.50" y="78.50" width="1.30" height="40.00" fill="#00ff16"/>
<rect x="350.50" y="78.50" width="1.30" height="40.00" fill="#00ff13"/>
<rect x="351.50" y="78.50" width="1.30" height="40.00" fill="#00ff11"/>
<rect x="352.50" y="78.50" width="1.30" height="40.00" fill="#00ff0f"/>
<rect x="353.50" y="78.50" width="1.30" height="40.00" fill="#00ff0d"/>
<rect x="354.50" y="78.50" width="1.30" height="40.00" fill="#00ff0a"/>
<rect x="355.50" y="78.50" width="1.30" height="40.00" fill="#00ff08"/>
<rect x="356.50" y="78.50" width="1.30" height="40.00" fill="#00ff06"/>
<rect x="357.50" y="78.50" width="1.30" height="40.00" fill="#00ff03"/>
<rect x="358.50" y="78.50" width="1.30" height="40.00" fill="#00ff01"/>
<rect x="359.50" y="78.50" width="1.30" height="40.00" fill="#02ff00"/>
<rect x="360.50" y="78.50" width="1.30" height="40.00" fill="#07ff00"/>
<rect x="361.50" y="78.50" width="1.30" height="40.00" fill="#0bff00"/>
<rect x="362.50" y="78.50" width="1.30" height="40.00" fill="#10ff00"/>
<rect x="363.50" y="78.50" width="1.30" height="40.00" fill="#14ff00"/>
<rect x="364.50" y="78.50" width="1.30" height="40.00" fill="#19ff00"/>
<rect x="365.50" y="78.50" width="1.30" height="40.00" fill="#1dff00"/>
<rect x="366.50" y="78.50" width="1.30" height="40.00" fill="#22ff00"/>
<rect x="367.50" y="78.50" width="1.30" height="40.00" fill="#26ff00"/>
<rect x="368.50" y="78.50" width="1.30" height="40.00" fill="#2bff00"/>
<rect x="369.50" y="78.50" width="1.30" height="40.00" fill="#30ff00"/>
<rect x="370.50" y="78.50" width="1.30" height="40.00" fill="#34ff00"/>
<rect x="371.50" y="78.50" width="1.30" height="40.00" fill="#39ff00"/>
<rect x="372.50" y="78.50" width="1.30" height="40.00" fill="#3dff00"/>
<rect x="373.50" y="78.50" width="1.30" height="40.00" fill="#42ff00"/>
<rect x="374.50" y="78.50" width="1.30" height="40.00" fill="#46ff00"/>
<rect x="375.50" y="78.50" width="1.30" height="40.00" fill="#4bff00"/>
<rect x="376.50" y="78.50" width="1.30" height="40.00" fill="#4fff00"/>
<rect x="377.50" y="78.50" width="1.30" height="40.00" fill="#54ff00"/>
<rect x="378.50" y="78.50" width="1.30" height="40.00" fill="#58ff00"/>
<rect x="379.50" y="78.50" width="1.30" height="40.00" fill="#5dff00"/>
<rect x="380.50" y="78.50" width="1.30" height="40.00" fill="#61ff00"/>
<rect x="381.50" y="78.50" width="1.30" height="40.00" fill="#66ff00"/>
<rect x="382.50" y="78.50" width="1.30" height="40.00" fill="#6aff00"/>
<rect x="383.50" y="78.50" width="1.30" height="40.00" fill="#6fff00"/>
<rect x="384.50" y="78.50" width="1.30" height="40.00" fill="#74ff00"/>
<rect x="385.50" y="78.50" width="1.30" height="40.00" fill="#78ff00"/>
<rect x="386.50" y="78.50" width="1.30" height="40.00" fill="#7dff00"/>
<rect x="387.50" y="78.50" width="1.30" height="40.00" fill="#81ff00"/>
<rect x="388.50" y="78.50" width="1.30" height="40.00" fill="#84ff00"/>
<rect x="389.50" y="78.50" width="1.30" height="40.00" fill="#87ff00"/>
<rect x="390.50" y="78.50" width="1.30" height="40.00" fill="#8aff00"/>
<rect x="391.50" y="78.50" width="1.30" height="40.00" fill="#8eff00"/>
<rect x="392.50" y="78.50" width="1.30" height="40.00" fill="#91ff00"/>
<rect x="393.50" y="78.50" width="1.30" height="40.00" fill="#94ff00"/>
<rect x="394.50" y="78.50" width="1.30" height="40.00" fill="#97ff00"/>
<rect x="395.50" y="78.50" width="1.30" height="40.00" fill="#9bff00"/>
<rect x="396.50" y="78.50" width="1.30" height="40.00" fill="#9eff00"/>
<rect x="397.50" y="78.50" width="1.30" height="40.00" fill="#a1ff00"/>
<rect x="398.50" y="78.50" width="1.30" height="40.00" fill="#a4ff00"/>
<rect x="399.50" y="78.50" width="1.30" height="40.00" fill="#a7ff00"/>
<rect x="400.50" y="78.50" width="1.30" height="40.00" fill="#abff00"/>
<rect x="401.50" y="78.50" width="1.30" height="40.00" fill="#aeff00"/>
<rect x="402.50" y="78.50" width="1.30" height="40.00" fill="#b1ff00"/>
<rect x="403.50" y="78.50" width="1.30" height="40.00" fill="#b4ff00"/>
<rect x="404.50" y="78.50" width="1.30" height="40.00" fill="#b7ff00"/>
<rect x="405.50" y="78.50" width="1.30" height="40.00" fill="#bbff00"/>
<rect x="406.50" y="78.50" width="1.30" height="40.00" fill="#beff00"/>
<rect x="407.50" y="78.50" width="1.30" height="40.00" fill="#c1ff00"/>
<rect x="408.50" y="78.50" width="1.30" height="40.00" fill="#c4ff00"/>
<rect x="409.50" y="78.50" width="1.30" height="40.00" fill="#c8ff00"/>
<rect x="410.50" y="78.50" width="1.30" height="40.00" fill="#cbff00"/>
<rect x="411.50" y="78.50" width="1.30" height="40.00" fill="#ceff00"/>
<rect x="412.50" y="78.50" width="1.30" height="40.00" fill="#d1ff00"/>
<rect x="413.50" y="78.50" width="1.30" height="40.00" fill="#d4ff00"/>
<rect x="414.50" y="78.50" width="1.30" height="40.00" fill="#d8ff00"/>
<rect x="415.50" y="78.50" width="1.30" height="40.00" fill="#dbff00"/>
<rect x="416.50" y="78.50" width="1.30" height="40.00" fill="#deff00"/>
<rect x="417.50" y="78.50" width="1.30" height="40.00" fill="#e1ff00"/>
<rect x="418.50" y="78.50" width="1.30" height="40.00" fill="#e4ff00"/>
<rect x="419.50" y="78.50" width="1.30" height="40.00" fill="#e8ff00"/>
<rect x="420.50" y="78.50" width="1.30" height="40.00" fill="#ebff00"/>
<rect x="421.50" y="78.50" width="1.30" height="40.00" fill="#eeff00"/>
<rect x="422.50" y="78.50" width="1.30" height="40.00" fill="#f1ff00"/>
<rect x="423.50" y="78.50" width="1.30" height="40.00" fill="#f5ff00"/>
<rect x="424.50" y="78.50" width="1.30" height="40.00" fill="#f8ff00"/>
<rect x="425.50" y="78.50" width="1.30" height="40.00" fill="#fbff00"/>
<rect x="426.50" y="78.50" width="1.30" height="40.00" fill="#feff00"/>
<rect x="427.50" y="78.50" width="1.30" height="40.00" fill="#fffc00"/>
<rect x="428.50" y="78.50" width="1.30" height="40.00" fill="#fff900"/>
<rect x="429.50" y="78.50" width="1.30" height="40.00" fill="#fff500"/>
<rect x="430.50" y="78.50" width="1.30" height="40.00" fill="#fff100"/>
<rect x="431.50" y="78.50" width="1.30" height="40.00" fill="#ffed00"/>
<rect x="432.50" y="78.50" width="1.30" height="40.00" fill="#ffea00"/>
<rect x="433.50" y="78.50" width="1.30" height="40.00" fill="#ffe600"/>
<rect x="434.50" y="78.50" width="1.30" height="40.00" fill="#ffe200"/>
<rect x="435.50" y="78.50" width="1.30" height="40.00" fill="#ffdf00"/>
<rect x="436.50" y="78.50" width="1.30" height="40.00" fill="#ffdb00"/>
<rect x="437.50" y="78.50" width="1.30" height="40.00" fill="#ffd700"/>
<rect x="438.50" y="78.50" width="1.30" height="40.00" fill="#ffd300"/>
<rect x="439.50" y="78.50" width="1.30" height="40.00" fill="#ffd000"/>
<rect x="440.50" y="78.50" width="1.30" height="40.00" fill="#ffcc00"/>
<rect x="441.50" y="78.50" width="1.30" height="40.00" fill="#ffc800"/>
<rect x="442.50" y="78.50" width="1.30" height="40.00" fill="#ffc400"/>
<rect x="443.50" y="78.50" width="1.30" height="40.00" fill="#ffc100"/>
<rect x="444.50" y="78.50" width="1.30" height="40.00" fill="#ffbd00"/>
<rect x="445.50" y="78.50" width="1.30" height="40.00" fill="#ffba00"/>
<rect x="446.50" y="78.50" width="1.30" height="40.00" fill="#ffb600"/>
<rect x="447.50" y="78.50" width="1.30" height="40.00" fill="#ffb300"/>
<rect x="448.50" y="78.50" width="1.30" height="40.00" fill="#ffb000"/>
<rect x="449.50" y="78.50" width="1.30" height="40.00" fill="#ffac00"/>
<rect x="450.50" y="78.50" width="1.30" height="40.00" fill="#ffa900"/>
<rect x="451.50" y="78.50" width="1.30" height="40.00" fill="#ffa500"/>
<rect x="452.50" y="78.50" width="1.30" height="40.00" fill="#ffa200"/>
<rect x="453.50" y="78.50" width="1.30" height="40.00" fill="#ff9f00"/>
<rect x="454.50" y="78.50" width="1.30" height="40.00" fill="#ff9b00"/>
<rect x="455.50" y="78.50" width="1.30" height="40.00" fill="#ff9800"/>
<rect x="456.50" y="78.50" width="1.30" height="40.00" fill="#ff9400"/>
<rect x="457.50" y="78.50" width="1.30" height="40.00" fill="#ff9100"/>
<rect x="458.50" y="78.50" width="1.30" height="40.00" fill="#ff8e00"/>
<rect x="459.50" y="78.50" width="1.30" height="40.00" fill="#ff8a00"/>
<rect x="460.50" y="78.50" width="1.30" height="40.00" fill="#ff8700"/>
<rect x="461.50" y="78.50" width="1.30" height="40.00" fill="#ff8300"/>
<rect x="462.50" y="78.50" width="1.30" height="40.00" fill="#ff8000"/>
<rect x="463.50" y="78.50" width="1.30" height="40.00" fill="#ff7d00"/>
<rect x="464.50" y="78.50" width="1.30" height="40.00" fill="#ff7900"/>
<rect x="465.50" y="78.50" width="1.30" height="40.00" fill="#ff7600"/>
<rect x="466.50" y="78.50" width="1.30" height="40.00" fill="#ff7200"/>
<rect x="467.50" y="78.50" width="1.30" height="40.00" fill="#ff6f00"/>
<rect x="468.50" y="78.50" width="1.30" height="40.00" fill="#ff6c00"/>
<rect x="469.50" y="78.50" width="1.30" height="40.00" fill="#ff6800"/>
<rect x="470.50" y="78.50" width="1.30" height="40.00" fill="#ff6500"/>
<rect x="471.50" y="78.50" width="1.30" height="40.00" fill="#ff6100"/>
<rect x="472.50" y="78.50" width="1.30" height="40.00" fill="#ff5e00"/>
<rect x="473.50" y="78.50" width="1.30" height="40.00" fill="#ff5b00"/>
<rect x="474.50" y="78.50" width="1.30" height="40.00" fill="#ff5700"/>
<rect x="475.50" y="78.50" width="1.30" height="40.00" fill="#ff5400"/>
<rect x="476.50" y="78.50" width="1.30" height="40.00" fill="#ff5000"/>
<rect x="477.50" y="78.50" width="1.30" height="40.00" fill="#ff4d00"/>
<rect x="478.50" y="78.50" width="1.30" height="40.00" fill="#ff4a00"/>
<rect x="479.50" y="78.50" width="1.30" height="40.00" fill="#ff4600"/>
<rect x="480.50" y="78.50" width="1.30" height="40.00" fill="#ff4300"/>
<rect x="481.50" y="78.50" width="1.30" height="40.00" fill="#ff3f00"/>
<rect x="482.50" y="78.50" width="1.30" height="40.00" fill="#ff3c00"/>
<rect x="483.50" y="78.50" width="1.30" height="40.00" fill="#ff3900"/>
<rect x="484.50" y="78.50" width="1.30" height="40.00" fill="#ff3500"/>
<rect x="485.50" y="78.50" width="1.30" height="40.00" fill="#ff3200"/>
<rect x="486.50" y="78.50" width="1.30" height="40.00" fill="#ff2e00"/>
<rect x="487.50" y="78.50" width="1.30" height="40.00" fill="#ff2b00"/>
<rect x="488.50" y="78.50" width="1.30" height="40.00" fill="#ff2800"/>
<rect x="489.50" y="78.50" width="1.30" height="40.00" fill="#ff2400"/>
<rect x="490.50" y="78.50" width="1.30" height="40.00" fill="#ff2100"/>
<rect x="491.50" y="78.50" width="1.30" height="40.00" fill="#ff1d00"/>
<rect x="492.50" y="78.50" width="1.30" height="40.00" fill="#ff1a00"/>
<rect x="493.50" y="78.50" width="1.30" height="40.00" fill="#ff1700"/>
<rect x="494.50" y="78.50" width="1.30" height="40.00" fill="#ff1300"/>
<rect x="495.50" y="78.50" width="1.30" height="40.00" fill="#ff1000"/>
<rect x="496.50" y="78.50" width="1.30" height="40.00" fill="#ff0c00"/>
<rect x="497.50" y="78.50" width="1.30" height="40.00" fill="#ff0900"/>
<rect x="498.50" y="78.50" width="1.30" height="40.00" fill="#ff0600"/>
<rect x="499.50" y="78.50" width="1.30" height="40.00" fill="#ff0200"/>
<rect x="500.50" y="78.50" width="1.30" height="40.00" fill="#ff4444"/>
<rect x="501.50" y="78.50" width="1.30" height="40.00" fill="#ff4444"/>
<rect x="502.50" y="78.50" width="1.30" height="40.00" fill="#ff4444"/>
<rect x="503.50" y="78.50" width="1.30" height="40.00" fill="#ff4444"/>
<rect x="504.50" y="78.50" width="1.30" height="40.00" fill="#ff4444"/>
<rect x="505.50" y="78.50" width="1.30" height="40.00" fill="#ff4444"/>
<rect x="506.50" y="78.50" width="1.30" height="40.00" fill="#ff4444"/>
<rect x="507.50" y="78.50" width="1.30" height="40.00" fill="#ff4444"/>
<rect x="508.50" y="78.50" width="1.30" height="40.00" fill="#ff4444"/>
<rect x="509.50" y="78.50" width="1.30" height="40.00" fill="#ff4444"/>
<rect x="510.50" y="78.50" width="1.30" height="40.00" fill="#ff4444"/>
<rect x="511.50" y="78.50" width="1.30" height="40.00" fill="#ff4444"/>
<rect x="512.50" y="78.50" width="1.30" height="40.00" fill="#ff4444"/>
<rect x="513.50" y="78.50" width="1.30" height="40.00" fill="#ff4444"/>
<rect x="514.50" y="78.50" width="1.30" height="40.00" fill="#ff8888"/>
<rect x="515.50" y="78.50" width="1.30" height="40.00" fill="#ff8888"/>
<rect x="516.50" y="78.50" width="1.30" height="40.00" fill="#ff8888"/>
<rect x="517.50" y="78.50" width="1.30" height="40.00" fill="#ff8888"/>
<rect x="518.50" y="78.50" width="1.30" height="40.00" fill="#ff8888"/>
<rect x="519.50" y="78.50" width="1.30" height="40.00" fill="#ff8888"/>
<rect x="520.50" y="78.50" width="1.30" height="40.00" fill="#ff8888"/>
<rect x="521.50" y="78.50" width="1.30" height="40.00" fill="#ff8888"/>
<rect x="522.50" y="78.50" width="1.30" height="40.00" fill="#ff8888"/>
<rect x="523.50" y="78.50" width="1.30" height="40.00" fill="#ff8888"/>
<rect x="524.50" y="78.50" width="1.30" height="40.00" fill="#ff8888"/>
<rect x="525.50" y="78.50" width="1.30" height="40.00" fill="#ff8888"/>
<rect x="526.50" y="78.50" width="1.30" height="40.00" fill="#ff8888"/>
<rect x="527.50" y="78.50" width="1.30" height="40.00" fill="#ff8888"/>
<rect x="528.50" y="78.50" width="1.30" height="40.00" fill="#ffaaaa"/>
<rect x="529.50" y="78.50" width="1.30" height="40.00" fill="#ffaaaa"/>
<rect x="530.50" y="78.50" width="1.30" height="40.00" fill="#ffaaaa"/>
<rect x="531.50" y="78.50" width="1.30" height="40.00" fill="#ffaaaa"/>
<rect x="532.50" y="78.50" width="1.30" height="40.00" fill="#ffaaaa"/>
<rect x="533.50" y="78.50" width="1.30" height="40.00" fill="#ffaaaa"/>
<rect x="534.50" y="78.50" width="1.30" height="40.00" fill="#ffaaaa"/>
<rect x="535.50" y="78.50" width="1.30" height="40.00" fill="#ffaaaa"/>
<rect x="536.50" y="78.50" width="1.30" height="40.00" fill="#ffaaaa"/>
<rect x="537.50" y="78.50" width="1.30" height="40.00" fill="#ffaaaa"/>
<rect x="538.50" y="78.50" width="1.30" height="40.00" fill="#ffaaaa"/>
<rect x="539.50" y="78.50" width="1.30" height="40.00" fill="#ffaaaa"/>
<rect x="540.50" y="78.50" width="1.30" height="40.00" fill="#ffaaaa"/>
<rect x="541.50" y="78.50" width="1.30" height="40.00" fill="#ffaaaa"/>
<rect x="542.50" y="78.50" width="1.30" height="40.00" fill="#ffc8c8"/>
<rect x="543.50" y="78.50" width="1.30" height="40.00" fill="#ffc8c8"/>
<rect x="544.50" y="78.50" width="1.30" height="40.00" fill="#ffc8c8"/>
<rect x="545.50" y="78.50" width="1.30" height="40.00" fill="#ffc8c8"/>
<rect x="546.50" y="78.50" width="1.30" height="40.00" fill="#ffc8c8"/>
<rect x="547.50" y="78.50" width="1.30" height="40.00" fill="#ffc8c8"/>
<rect x="548.50" y="78.50" width="1.30" height="40.00" fill="#ffc8c8"/>
<rect x="549.50" y="78.50" width="1.30" height="40.00" fill="#ffc8c8"/>
<rect x="550.50" y="78.50" width="1.30" height="40.00" fill="#ffc8c8"/>
<rect x="551.50" y="78.50" width="1.30" height="40.00" fill="#ffc8c8"/>
<rect x="552.50" y="78.50" width="1.30" height="40.00" fill="#ffc8c8"/>
<rect x="553.50" y="78.50" width="1.30" height="40.00" fill="#ffc8c8"/>
<rect x="554.50" y="78.50" width="1.30" height="40.00" fill="#ffc8c8"/>
<rect x="555.50" y="78.50" width="1.30" height="40.00" fill="#ffc8c8"/>
<rect x="556.50" y="78.50" width="1.30" height="40.00" fill="#ffc8c8"/>
<rect x="557.50" y="78.50" width="1.30" height="40.00" fill="#ffdcdc"/>
<rect x="558.50" y="78.50" width="1.30" height="40.00" fill="#ffdcdc"/>
<rect x="559.50" y="78.50" width="1.30" height="40.00" fill="#ffdcdc"/>
<rect x="560.50" y="78.50" width="1.30" height="40.00" fill="#ffdcdc"/>
<rect x="561.50" y="78.50" width="1.30" height="40.00" fill="#ffdcdc"/>
<rect x="562.50" y="78.50" width="1.30" height="40.00" fill="#ffdcdc"/>
<rect x="563.50" y="78.50" width="1.30" height="40.00" fill="#ffeaea"/>
<rect x="564.50" y="78.50" width="1.30" height="40.00" fill="#ffeaea"/>
<rect x="565.50" y="78.50" width="1.30" height="40.00" fill="#ffeaea"/>
<rect x="566.50" y="78.50" width="1.30" height="40.00" fill="#ffeaea"/>
<rect x="567.50" y="78.50" width="1.30" height="40.00" fill="#ffeaea"/>
<rect x="568.50" y="78.50" width="1.30" height="40.00" fill="#ffeaea"/>
<rect x="569.50" y="78.50" width="1.30" height="40.00" fill="#ffeaea"/>
<rect x="570.50" y="78.50" width="1.30" height="40.00" fill="#ffeaea"/>
<rect x="571.50" y="78.50" width="1.30" height="40.00" fill="#ffeaea"/>
<rect x="572.50" y="78.50" width="0.80" height="40.00" fill="#ffeaea"/>
</g>
<rect x="105.50" y="78.50" width="467.50" height="40.00" fill="none" stroke="#000" stroke-width="0.75"/>
<line x1="161.95" y1="78.50" x2="161.95" y2="125.50" stroke="#000" stroke-width="0.75"/>
<text x="161.95" y="145.3" font-size="17.6" text-anchor="middle">1</text>
<line x1="218.40" y1="78.50" x2="218.40" y2="125.50" stroke="#000" stroke-width="0.75"/>
<text x="218.40" y="145.3" font-size="17.6" text-anchor="middle">2</text>
<line x1="274.85" y1="78.50" x2="274.85" y2="125.50" stroke="#000" stroke-width="0.75"/>
<text x="274.85" y="145.3" font-size="17.6" text-anchor="middle">3</text>
<line x1="331.30" y1="78.50" x2="331.30" y2="125.50" stroke="#000" stroke-width="0.75"/>
<text x="331.30" y="145.3" font-size="17.6" text-anchor="middle">4</text>
<line x1="387.75" y1="78.50" x2="387.75" y2="125.50" stroke="#000" stroke-width="0.75"/>
<text x="387.75" y="145.3" font-size="17.6" text-anchor="middle">5</text>
<line x1="444.20" y1="78.50" x2="444.20" y2="125.50" stroke="#000" stroke-width="0.75"/>
<text x="444.20" y="145.3" font-size="17.6" text-anchor="middle">6</text>
<line x1="500.65" y1="78.50" x2="500.65" y2="125.50" stroke="#000" stroke-width="0.75"/>
<text x="500.65" y="145.3" font-size="17.6" text-anchor="middle">7</text>
<line x1="557.10" y1="78.50" x2="557.10" y2="125.50" stroke="#000" stroke-width="0.75"/>
<text x="557.10" y="145.3" font-size="17.6" text-anchor="middle">8</text>
<rect x="59.04" y="59.04" width="560.72" height="517.52" fill="none" stroke="#000" stroke-width="1"/>
<line x1="94.09" y1="576.56" x2="584.72" y2="576.56" stroke="#000" stroke-width="1"/>
<line x1="94.09" y1="576.56" x2="94.09" y2="583.76" stroke="#000" stroke-width="1"/>
<text x="94.09" y="602.2" font-size="18" text-anchor="middle">-60</text>
<line x1="164.18" y1="576.56" x2="164.18" y2="583.76" stroke="#000" stroke-width="1"/>
<text x="164.18" y="602.2" font-size="18" text-anchor="middle">-40</text>
<line x1="234.27" y1="576.56" x2="234.27" y2="583.76" stroke="#000" stroke-width="1"/>
<text x="234.27" y="602.2" font-size="18" text-anchor="middle">-20</text>
<line x1="304.36" y1="576.56" x2="304.36" y2="583.76" stroke="#000" stroke-width="1"/>
<text x="304.36" y="602.2" font-size="18" text-anchor="middle">0</text>
<line x1="374.45" y1="576.56" x2="374.45" y2="583.76" stroke="#000" stroke-width="1"/>
<text x="374.45" y="602.2" font-size="18" text-anchor="middle">20</text>
<line x1="444.54" y1="576.56" x2="444.54" y2="583.76" stroke="#000" stroke-width="1"/>
<text x="444.54" y="602.2" font-size="18" text-anchor="middle">40</text>
<line x1="514.62" y1="576.56" x2="514.62" y2="583.76" stroke="#000" stroke-width="1"/>
<text x="514.62" y="602.2" font-size="18" text-anchor="middle">60</text>
<line x1="584.72" y1="576.56" x2="584.72" y2="583.76" stroke="#000" stroke-width="1"/>
<text x="584.72" y="602.2" font-size="18" text-anchor="middle">80</text>
<line x1="59.04" y1="576.56" x2="59.04" y2="150.06" stroke="#000" stroke-width="1"/>
<line x1="51.84" y1="576.56" x2="59.04" y2="576.56" stroke="#000" stroke-width="1"/>
<text transform="translate(42.9,576.56) rotate(-90)" font-size="18" text-anchor="middle">0</text>
<line x1="51.84" y1="434.39" x2="59.04" y2="434.39" stroke="#000" stroke-width="1"/>
<text transform="translate(42.9,434.39) rotate(-90)" font-size="18" text-anchor="middle">5000</text>
<line x1="51.84" y1="292.23" x2="59.04" y2="292.23" stroke="#000" stroke-width="1"/>
<text transform="translate(42.9,292.23) rotate(-90)" font-size="18" text-anchor="middle">10000</text>
<line x1="51.84" y1="150.06" x2="59.04" y2="150.06" stroke="#000" stroke-width="1"/>
<text transform="translate(42.9,150.06) rotate(-90)" font-size="18" text-anchor="middle">15000</text>
<text x="339.0" y="631.0" font-size="18.2" text-anchor="middle">Latitude</text>
<text transform="translate(13.4,317.3) rotate(-90)" font-size="18.2" text-anchor="middle">Altitude (m)</text>
<text x="339.7" y="35.9" font-size="18.2" font-weight="bold" text-anchor="middle">HIPPO1 Northbound P.H2O.DP</text>
<text x="59.0" y="51.9" font-size="9" textLength="263.5" lengthAdjust="spacing">20090120, 20090123, 20090126, 20090128, 20090130</text>
<text x="471.0" y="51.9" font-size="9" textLength="149" lengthAdjust="spacing">RF07, RF08, RF09, RF10, RF11</text>
<path d="M151.90 556 L151.90 576.6 M147.30 569.4 L151.90 576.6 L156.50 569.4" fill="none" stroke="#000" stroke-width="2" stroke-linecap="round" stroke-linejoin="round"/>
<path d="M242.60 556 L242.60 576.6 M238.00 569.4 L242.60 576.6 L247.20 569.4" fill="none" stroke="#000" stroke-width="2" stroke-linecap="round" stroke-linejoin="round"/>
<path d="M339.10 556 L339.10 576.6 M334.50 569.4 L339.10 576.6 L343.70 569.4" fill="none" stroke="#000" stroke-width="2" stroke-linecap="round" stroke-linejoin="round"/>
<path d="M399.20 556 L399.20 576.6 M394.60 569.4 L399.20 576.6 L403.80 569.4" fill="none" stroke="#000" stroke-width="2" stroke-linecap="round" stroke-linejoin="round"/>
<path d="M444.20 556 L444.20 576.6 M439.60 569.4 L444.20 576.6 L448.80 569.4" fill="none" stroke="#000" stroke-width="2" stroke-linecap="round" stroke-linejoin="round"/>
</svg></body></html>
